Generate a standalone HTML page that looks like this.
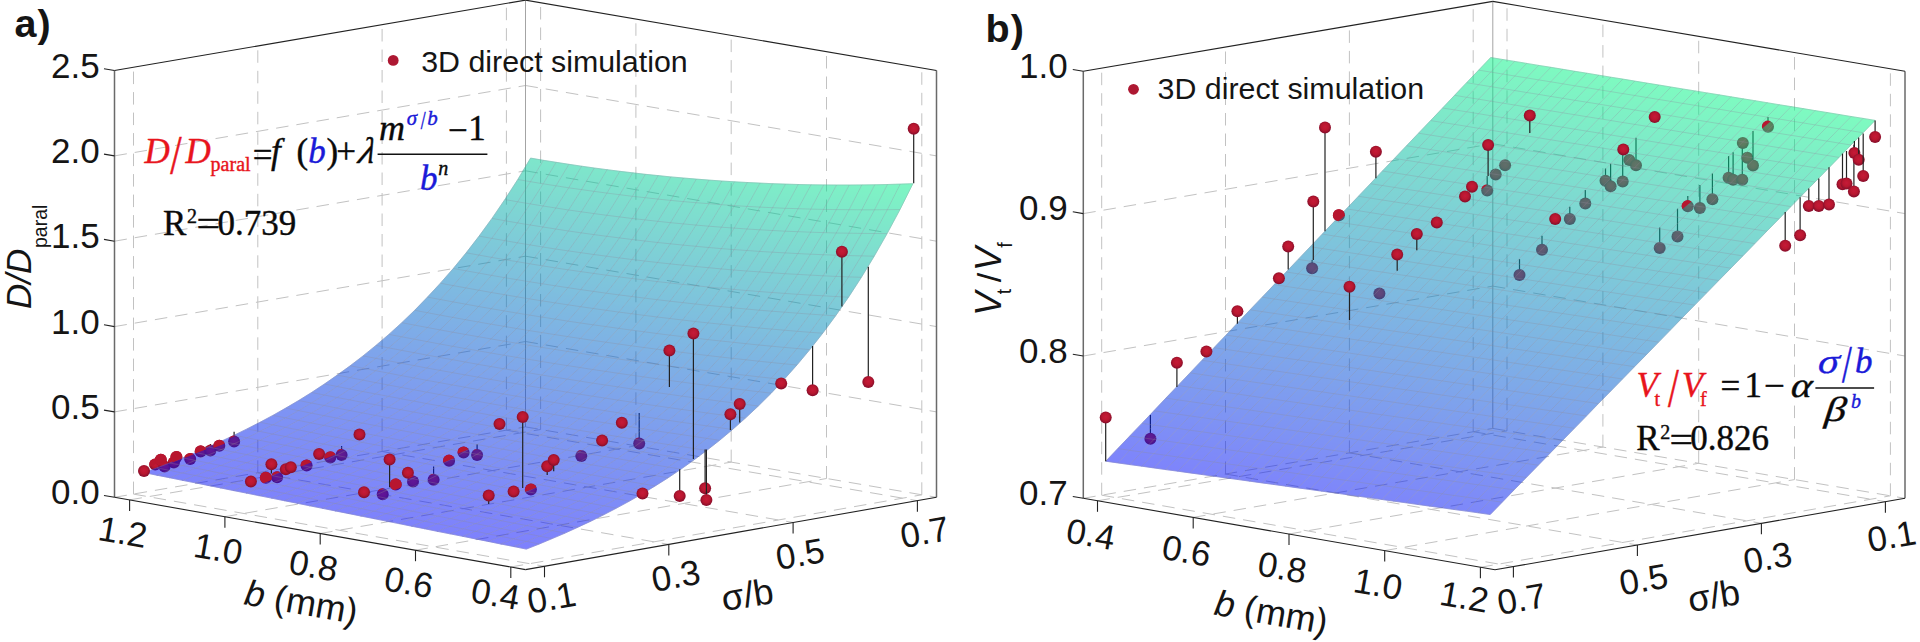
<!DOCTYPE html><html><head><meta charset="utf-8"><title>fig</title><style>
html,body{margin:0;padding:0;background:#fff}svg{display:block}
.g{stroke:#c2c2c2;stroke-width:1;stroke-dasharray:12.5 8;fill:none}
.bk{stroke:#9a9a9a;stroke-width:0.9}
.ax{stroke:#222;stroke-width:1.1}
.ax2{stroke:#6a6a6a;stroke-width:1.5}
.sf polygon{stroke-width:0.7}
.ms polyline{fill:none;stroke:#8c8c9c;stroke-opacity:0.3;stroke-width:1}
.p{fill:url(#pg)}.ph{fill:#b8162f}.pu{fill:#5a1a9a}.pg{fill:#5f6b66}
.st{stroke:#222;stroke-width:1.2}
text{font-family:"Liberation Sans",Arial,sans-serif;fill:#151515}
.tk{font-size:35px}.tkm{font-size:35px;text-anchor:middle}.tke{font-size:35px;text-anchor:end}
.lg{font-size:30.35px}.pl{font-size:39.5px;font-weight:bold;letter-spacing:1px}
.ti{font-size:36px}.i{font-style:italic}.k{fill:#0a0a0a;stroke:#0a0a0a}.lgd{fill:#ad1832}
.sub{font-size:19.5px}
.eq{font-family:"Liberation Serif","Times New Roman",serif}
.eq{stroke-width:0.4px}.r{fill:#e8141c;stroke:#e8141c}.b{fill:#1a1ad8;stroke:#1a1ad8}
</style></head><body>
<svg width="1920" height="642" viewBox="0 0 1920 642">
<defs><radialGradient id="pg" cx="0.5" cy="0.45" r="0.5"><stop offset="0" stop-color="#c61a38"/><stop offset="0.6" stop-color="#b8172f"/><stop offset="1" stop-color="#8c0f2c"/></radialGradient></defs>
<rect width="1920" height="642" fill="#fff"/>
<line class="g" x1="129.6" y1="499.9" x2="540.6" y2="429.5"/>
<line class="g" x1="540.6" y1="429.5" x2="540.6" y2="2.7"/>
<line class="g" x1="224.9" y1="516.7" x2="635.9" y2="445.8"/>
<line class="g" x1="635.9" y1="445.8" x2="635.9" y2="19"/>
<line class="g" x1="320.2" y1="533.5" x2="731.2" y2="462.1"/>
<line class="g" x1="731.2" y1="462.1" x2="731.2" y2="35.3"/>
<line class="g" x1="415.5" y1="550.2" x2="826.5" y2="478.5"/>
<line class="g" x1="826.5" y1="478.5" x2="826.5" y2="51.7"/>
<line class="g" x1="510.8" y1="567" x2="921.8" y2="494.8"/>
<line class="g" x1="921.8" y1="494.8" x2="921.8" y2="68"/>
<line class="g" x1="133.5" y1="494.1" x2="544.5" y2="566.3"/>
<line class="g" x1="133.5" y1="494.1" x2="133.5" y2="67.3"/>
<line class="g" x1="257.8" y1="472.8" x2="668.8" y2="544.4"/>
<line class="g" x1="257.8" y1="472.8" x2="257.8" y2="46"/>
<line class="g" x1="382.1" y1="451.5" x2="793.1" y2="522.5"/>
<line class="g" x1="382.1" y1="451.5" x2="382.1" y2="24.7"/>
<line class="g" x1="506.4" y1="430.2" x2="917.4" y2="500.7"/>
<line class="g" x1="506.4" y1="430.2" x2="506.4" y2="3.4"/>
<line class="g" x1="114.5" y1="411.9" x2="525.5" y2="341.5"/>
<line class="g" x1="525.5" y1="341.5" x2="936.5" y2="411.9"/>
<line class="g" x1="114.5" y1="326.6" x2="525.5" y2="256.2"/>
<line class="g" x1="525.5" y1="256.2" x2="936.5" y2="326.6"/>
<line class="g" x1="114.5" y1="241.2" x2="525.5" y2="170.8"/>
<line class="g" x1="525.5" y1="170.8" x2="936.5" y2="241.2"/>
<line class="g" x1="114.5" y1="155.9" x2="525.5" y2="85.5"/>
<line class="g" x1="525.5" y1="85.5" x2="936.5" y2="155.9"/>
<line class="g" x1="114.5" y1="497.3" x2="525.5" y2="426.9"/>
<line class="g" x1="525.5" y1="426.9" x2="936.5" y2="497.3"/>
<line class="bk" x1="525.5" y1="426.9" x2="525.5" y2="0.1"/>
<circle class="p" cx="155.2" cy="464.5" r="6.0"/>
<circle class="p" cx="160.8" cy="459.8" r="6.0"/>
<circle class="p" cx="164.6" cy="466.4" r="6.0"/>
<circle class="p" cx="173.9" cy="462.6" r="6.0"/>
<circle class="p" cx="176.4" cy="457" r="6.0"/>
<circle class="p" cx="190.2" cy="458.9" r="6.0"/>
<circle class="p" cx="200.7" cy="451.4" r="6.0"/>
<line class="st" x1="210.4" y1="444" x2="210.4" y2="450.5"/>
<circle class="p" cx="210.4" cy="450.5" r="6.0"/>
<circle class="p" cx="219.3" cy="445.8" r="6.0"/>
<line class="st" x1="234.1" y1="431.8" x2="234.1" y2="441.5"/>
<circle class="p" cx="234.1" cy="441.5" r="6.0"/>
<circle class="p" cx="265.9" cy="477.7" r="6.0"/>
<circle class="p" cx="277.1" cy="477.3" r="6.0"/>
<circle class="p" cx="306.6" cy="465.5" r="6.0"/>
<circle class="p" cx="330.3" cy="457.4" r="6.0"/>
<line class="st" x1="341.6" y1="446" x2="341.6" y2="454.9"/>
<circle class="p" cx="341.6" cy="454.9" r="6.0"/>
<circle class="p" cx="382.7" cy="494.3" r="6.0"/>
<circle class="p" cx="395.8" cy="484.4" r="6.0"/>
<circle class="p" cx="413" cy="481.6" r="6.0"/>
<line class="st" x1="433.6" y1="466.6" x2="433.6" y2="479.7"/>
<circle class="p" cx="433.6" cy="479.7" r="6.0"/>
<circle class="p" cx="449.1" cy="460.7" r="6.0"/>
<circle class="p" cx="463.6" cy="452.6" r="6.0"/>
<line class="st" x1="477.1" y1="444.2" x2="477.1" y2="454.9"/>
<circle class="p" cx="477.1" cy="454.9" r="6.0"/>
<circle class="p" cx="530.9" cy="489.6" r="6.0"/>
<circle class="p" cx="581.3" cy="456" r="6.0"/>
<line class="st" x1="639.2" y1="413.1" x2="639.2" y2="443.6"/>
<circle class="p" cx="639.2" cy="443.6" r="6.0"/>
<defs><linearGradient id="s1" gradientUnits="userSpaceOnUse" x1="150.4" y1="473.9" x2="222.2" y2="99"><stop offset="0.000" stop-color="#000cf9"/><stop offset="0.038" stop-color="#0010f7"/><stop offset="0.077" stop-color="#0015f4"/><stop offset="0.119" stop-color="#001af2"/><stop offset="0.163" stop-color="#0021ef"/><stop offset="0.211" stop-color="#0028eb"/><stop offset="0.262" stop-color="#0030e7"/><stop offset="0.317" stop-color="#0039e2"/><stop offset="0.377" stop-color="#0044dd"/><stop offset="0.442" stop-color="#0050d7"/><stop offset="0.513" stop-color="#005fd0"/><stop offset="0.591" stop-color="#006fc7"/><stop offset="0.678" stop-color="#0082be"/><stop offset="0.774" stop-color="#0098b3"/><stop offset="0.881" stop-color="#00b1a6"/><stop offset="1.000" stop-color="#00ce98"/></linearGradient><linearGradient id="s2" gradientUnits="userSpaceOnUse" x1="163.2" y1="476.4" x2="234.4" y2="101.4"><stop offset="0.000" stop-color="#000cf9"/><stop offset="0.037" stop-color="#0010f7"/><stop offset="0.077" stop-color="#0015f5"/><stop offset="0.119" stop-color="#001af2"/><stop offset="0.163" stop-color="#0020ef"/><stop offset="0.210" stop-color="#0027eb"/><stop offset="0.261" stop-color="#0030e7"/><stop offset="0.316" stop-color="#0039e3"/><stop offset="0.376" stop-color="#0044dd"/><stop offset="0.441" stop-color="#0050d7"/><stop offset="0.512" stop-color="#005fd0"/><stop offset="0.591" stop-color="#006fc7"/><stop offset="0.677" stop-color="#0082be"/><stop offset="0.774" stop-color="#0098b3"/><stop offset="0.880" stop-color="#00b1a6"/><stop offset="1.000" stop-color="#00cf98"/></linearGradient><linearGradient id="s3" gradientUnits="userSpaceOnUse" x1="175.9" y1="479" x2="246" y2="104.1"><stop offset="0.000" stop-color="#000cf9"/><stop offset="0.037" stop-color="#0010f7"/><stop offset="0.077" stop-color="#0015f5"/><stop offset="0.118" stop-color="#001af2"/><stop offset="0.162" stop-color="#0020ef"/><stop offset="0.210" stop-color="#0027eb"/><stop offset="0.261" stop-color="#002fe7"/><stop offset="0.316" stop-color="#0039e3"/><stop offset="0.375" stop-color="#0044dd"/><stop offset="0.440" stop-color="#0050d7"/><stop offset="0.512" stop-color="#005ed0"/><stop offset="0.590" stop-color="#006fc7"/><stop offset="0.677" stop-color="#0082be"/><stop offset="0.773" stop-color="#0098b3"/><stop offset="0.880" stop-color="#00b1a6"/><stop offset="1.000" stop-color="#00cf98"/></linearGradient><linearGradient id="s4" gradientUnits="userSpaceOnUse" x1="188.7" y1="481.6" x2="258.4" y2="106.4"><stop offset="0.000" stop-color="#000cf9"/><stop offset="0.037" stop-color="#0010f7"/><stop offset="0.076" stop-color="#0014f5"/><stop offset="0.118" stop-color="#001af2"/><stop offset="0.162" stop-color="#0020ef"/><stop offset="0.210" stop-color="#0027eb"/><stop offset="0.260" stop-color="#002fe7"/><stop offset="0.315" stop-color="#0039e3"/><stop offset="0.375" stop-color="#0043dd"/><stop offset="0.440" stop-color="#0050d7"/><stop offset="0.511" stop-color="#005ed0"/><stop offset="0.590" stop-color="#006fc7"/><stop offset="0.676" stop-color="#0082be"/><stop offset="0.773" stop-color="#0098b3"/><stop offset="0.880" stop-color="#00b2a6"/><stop offset="1.000" stop-color="#00cf98"/></linearGradient><linearGradient id="s5" gradientUnits="userSpaceOnUse" x1="201.4" y1="484.1" x2="269.6" y2="109.2"><stop offset="0.000" stop-color="#000bf9"/><stop offset="0.037" stop-color="#0010f7"/><stop offset="0.076" stop-color="#0014f5"/><stop offset="0.118" stop-color="#001af2"/><stop offset="0.162" stop-color="#0020ef"/><stop offset="0.209" stop-color="#0027ec"/><stop offset="0.260" stop-color="#002fe7"/><stop offset="0.315" stop-color="#0038e3"/><stop offset="0.374" stop-color="#0043dd"/><stop offset="0.439" stop-color="#0050d7"/><stop offset="0.510" stop-color="#005ed0"/><stop offset="0.589" stop-color="#006fc7"/><stop offset="0.676" stop-color="#0082be"/><stop offset="0.772" stop-color="#0098b3"/><stop offset="0.880" stop-color="#00b2a6"/><stop offset="1.000" stop-color="#00cf97"/></linearGradient><linearGradient id="s6" gradientUnits="userSpaceOnUse" x1="214.2" y1="486.6" x2="281.8" y2="111.4"><stop offset="0.000" stop-color="#000bf9"/><stop offset="0.037" stop-color="#000ff7"/><stop offset="0.076" stop-color="#0014f5"/><stop offset="0.117" stop-color="#0019f2"/><stop offset="0.161" stop-color="#0020ef"/><stop offset="0.208" stop-color="#0027ec"/><stop offset="0.259" stop-color="#002fe8"/><stop offset="0.314" stop-color="#0038e3"/><stop offset="0.373" stop-color="#0043dd"/><stop offset="0.439" stop-color="#0050d7"/><stop offset="0.510" stop-color="#005ed0"/><stop offset="0.588" stop-color="#006fc7"/><stop offset="0.675" stop-color="#0082be"/><stop offset="0.772" stop-color="#0099b3"/><stop offset="0.879" stop-color="#00b2a6"/><stop offset="1.000" stop-color="#00d097"/></linearGradient><linearGradient id="s7" gradientUnits="userSpaceOnUse" x1="226.8" y1="489.2" x2="293.6" y2="113.7"><stop offset="0.000" stop-color="#000bfa"/><stop offset="0.037" stop-color="#000ff7"/><stop offset="0.076" stop-color="#0014f5"/><stop offset="0.117" stop-color="#0019f2"/><stop offset="0.161" stop-color="#001fef"/><stop offset="0.208" stop-color="#0026ec"/><stop offset="0.258" stop-color="#002fe8"/><stop offset="0.313" stop-color="#0038e3"/><stop offset="0.373" stop-color="#0043dd"/><stop offset="0.438" stop-color="#0050d7"/><stop offset="0.509" stop-color="#005ed0"/><stop offset="0.588" stop-color="#006fc7"/><stop offset="0.675" stop-color="#0082be"/><stop offset="0.771" stop-color="#0099b3"/><stop offset="0.879" stop-color="#00b2a6"/><stop offset="1.000" stop-color="#00d097"/></linearGradient><linearGradient id="s8" gradientUnits="userSpaceOnUse" x1="239.6" y1="491.8" x2="305.6" y2="115.7"><stop offset="0.000" stop-color="#000bfa"/><stop offset="0.037" stop-color="#000ff8"/><stop offset="0.075" stop-color="#0014f5"/><stop offset="0.117" stop-color="#0019f3"/><stop offset="0.160" stop-color="#001fef"/><stop offset="0.207" stop-color="#0026ec"/><stop offset="0.258" stop-color="#002fe8"/><stop offset="0.313" stop-color="#0038e3"/><stop offset="0.372" stop-color="#0043dd"/><stop offset="0.437" stop-color="#0050d7"/><stop offset="0.508" stop-color="#005ed0"/><stop offset="0.587" stop-color="#006fc7"/><stop offset="0.674" stop-color="#0083be"/><stop offset="0.771" stop-color="#0099b2"/><stop offset="0.879" stop-color="#00b3a6"/><stop offset="1.000" stop-color="#00d197"/></linearGradient><linearGradient id="s9" gradientUnits="userSpaceOnUse" x1="252.3" y1="494.3" x2="317.3" y2="118"><stop offset="0.000" stop-color="#000bfa"/><stop offset="0.037" stop-color="#000ff8"/><stop offset="0.075" stop-color="#0013f5"/><stop offset="0.116" stop-color="#0019f3"/><stop offset="0.160" stop-color="#001ff0"/><stop offset="0.207" stop-color="#0026ec"/><stop offset="0.257" stop-color="#002ee8"/><stop offset="0.312" stop-color="#0038e3"/><stop offset="0.371" stop-color="#0043dd"/><stop offset="0.436" stop-color="#0050d7"/><stop offset="0.507" stop-color="#005ed0"/><stop offset="0.586" stop-color="#006fc7"/><stop offset="0.673" stop-color="#0083be"/><stop offset="0.770" stop-color="#0099b2"/><stop offset="0.879" stop-color="#00b3a5"/><stop offset="1.000" stop-color="#00d196"/></linearGradient><linearGradient id="s10" gradientUnits="userSpaceOnUse" x1="265.1" y1="496.9" x2="329.2" y2="120.1"><stop offset="0.000" stop-color="#000afa"/><stop offset="0.036" stop-color="#000ef8"/><stop offset="0.075" stop-color="#0013f5"/><stop offset="0.116" stop-color="#0019f3"/><stop offset="0.159" stop-color="#001ff0"/><stop offset="0.206" stop-color="#0026ec"/><stop offset="0.256" stop-color="#002ee8"/><stop offset="0.311" stop-color="#0038e3"/><stop offset="0.370" stop-color="#0043dd"/><stop offset="0.435" stop-color="#0050d7"/><stop offset="0.507" stop-color="#005fd0"/><stop offset="0.585" stop-color="#0070c7"/><stop offset="0.673" stop-color="#0083bd"/><stop offset="0.770" stop-color="#009ab2"/><stop offset="0.878" stop-color="#00b4a5"/><stop offset="1.000" stop-color="#00d296"/></linearGradient><linearGradient id="s11" gradientUnits="userSpaceOnUse" x1="277.9" y1="499.4" x2="341.6" y2="121.7"><stop offset="0.000" stop-color="#000afa"/><stop offset="0.036" stop-color="#000ef8"/><stop offset="0.075" stop-color="#0013f6"/><stop offset="0.115" stop-color="#0018f3"/><stop offset="0.159" stop-color="#001ff0"/><stop offset="0.206" stop-color="#0026ec"/><stop offset="0.256" stop-color="#002ee8"/><stop offset="0.310" stop-color="#0038e3"/><stop offset="0.370" stop-color="#0043dd"/><stop offset="0.435" stop-color="#0050d7"/><stop offset="0.506" stop-color="#005fd0"/><stop offset="0.585" stop-color="#0070c7"/><stop offset="0.672" stop-color="#0083bd"/><stop offset="0.770" stop-color="#009ab2"/><stop offset="0.878" stop-color="#00b4a5"/><stop offset="1.000" stop-color="#00d396"/></linearGradient><linearGradient id="s12" gradientUnits="userSpaceOnUse" x1="290.6" y1="501.9" x2="353.1" y2="123.9"><stop offset="0.000" stop-color="#000afa"/><stop offset="0.036" stop-color="#000ef8"/><stop offset="0.074" stop-color="#0013f6"/><stop offset="0.115" stop-color="#0018f3"/><stop offset="0.158" stop-color="#001ef0"/><stop offset="0.205" stop-color="#0026ec"/><stop offset="0.255" stop-color="#002ee8"/><stop offset="0.309" stop-color="#0038e3"/><stop offset="0.369" stop-color="#0043dd"/><stop offset="0.434" stop-color="#0050d7"/><stop offset="0.505" stop-color="#005fd0"/><stop offset="0.584" stop-color="#0070c7"/><stop offset="0.671" stop-color="#0084bd"/><stop offset="0.769" stop-color="#009bb2"/><stop offset="0.878" stop-color="#00b5a4"/><stop offset="1.000" stop-color="#00d395"/></linearGradient><linearGradient id="s13" gradientUnits="userSpaceOnUse" x1="303.4" y1="504.5" x2="366" y2="125.1"><stop offset="0.000" stop-color="#000afa"/><stop offset="0.036" stop-color="#000ef8"/><stop offset="0.074" stop-color="#0012f6"/><stop offset="0.115" stop-color="#0018f3"/><stop offset="0.158" stop-color="#001ef0"/><stop offset="0.204" stop-color="#0026ec"/><stop offset="0.255" stop-color="#002ee8"/><stop offset="0.309" stop-color="#0038e3"/><stop offset="0.368" stop-color="#0043dd"/><stop offset="0.433" stop-color="#0050d7"/><stop offset="0.505" stop-color="#005fcf"/><stop offset="0.583" stop-color="#0070c7"/><stop offset="0.671" stop-color="#0084bd"/><stop offset="0.769" stop-color="#009bb1"/><stop offset="0.878" stop-color="#00b6a4"/><stop offset="1.000" stop-color="#00d495"/></linearGradient><linearGradient id="s14" gradientUnits="userSpaceOnUse" x1="316" y1="507.1" x2="377" y2="127.3"><stop offset="0.000" stop-color="#0009fa"/><stop offset="0.036" stop-color="#000df8"/><stop offset="0.074" stop-color="#0012f6"/><stop offset="0.114" stop-color="#0018f3"/><stop offset="0.157" stop-color="#001ef0"/><stop offset="0.204" stop-color="#0026ec"/><stop offset="0.253" stop-color="#002ee8"/><stop offset="0.308" stop-color="#0038e3"/><stop offset="0.367" stop-color="#0043dd"/><stop offset="0.432" stop-color="#0050d7"/><stop offset="0.503" stop-color="#005fcf"/><stop offset="0.582" stop-color="#0071c7"/><stop offset="0.670" stop-color="#0085bd"/><stop offset="0.768" stop-color="#009cb1"/><stop offset="0.877" stop-color="#00b6a4"/><stop offset="1.000" stop-color="#00d594"/></linearGradient><linearGradient id="s15" gradientUnits="userSpaceOnUse" x1="328.8" y1="509.6" x2="389.2" y2="128.8"><stop offset="0.000" stop-color="#0009fa"/><stop offset="0.036" stop-color="#000df8"/><stop offset="0.074" stop-color="#0012f6"/><stop offset="0.114" stop-color="#0018f3"/><stop offset="0.157" stop-color="#001ef0"/><stop offset="0.203" stop-color="#0025ec"/><stop offset="0.253" stop-color="#002ee8"/><stop offset="0.307" stop-color="#0038e3"/><stop offset="0.366" stop-color="#0043dd"/><stop offset="0.431" stop-color="#0050d7"/><stop offset="0.503" stop-color="#005fcf"/><stop offset="0.582" stop-color="#0071c7"/><stop offset="0.670" stop-color="#0085bc"/><stop offset="0.767" stop-color="#009cb1"/><stop offset="0.877" stop-color="#00b7a3"/><stop offset="1.000" stop-color="#00d694"/></linearGradient><linearGradient id="s16" gradientUnits="userSpaceOnUse" x1="341.5" y1="512.1" x2="401" y2="130.5"><stop offset="0.000" stop-color="#0009fb"/><stop offset="0.036" stop-color="#000df8"/><stop offset="0.073" stop-color="#0012f6"/><stop offset="0.113" stop-color="#0017f3"/><stop offset="0.156" stop-color="#001ef0"/><stop offset="0.202" stop-color="#0025ec"/><stop offset="0.252" stop-color="#002ee8"/><stop offset="0.306" stop-color="#0038e3"/><stop offset="0.365" stop-color="#0043dd"/><stop offset="0.430" stop-color="#0051d7"/><stop offset="0.502" stop-color="#0060cf"/><stop offset="0.581" stop-color="#0071c6"/><stop offset="0.669" stop-color="#0086bc"/><stop offset="0.767" stop-color="#009db0"/><stop offset="0.877" stop-color="#00b8a3"/><stop offset="1.000" stop-color="#00d793"/></linearGradient><linearGradient id="s17" gradientUnits="userSpaceOnUse" x1="354.3" y1="514.7" x2="413.9" y2="131.3"><stop offset="0.000" stop-color="#0009fb"/><stop offset="0.036" stop-color="#000df9"/><stop offset="0.073" stop-color="#0012f6"/><stop offset="0.113" stop-color="#0017f3"/><stop offset="0.156" stop-color="#001ef0"/><stop offset="0.202" stop-color="#0025ec"/><stop offset="0.252" stop-color="#002ee8"/><stop offset="0.306" stop-color="#0038e3"/><stop offset="0.365" stop-color="#0043dd"/><stop offset="0.430" stop-color="#0051d7"/><stop offset="0.501" stop-color="#0060cf"/><stop offset="0.580" stop-color="#0072c6"/><stop offset="0.668" stop-color="#0086bc"/><stop offset="0.766" stop-color="#009eb0"/><stop offset="0.876" stop-color="#00b9a2"/><stop offset="1.000" stop-color="#00d993"/></linearGradient><linearGradient id="s18" gradientUnits="userSpaceOnUse" x1="367" y1="517.2" x2="425.2" y2="133.1"><stop offset="0.000" stop-color="#0008fb"/><stop offset="0.035" stop-color="#000df9"/><stop offset="0.073" stop-color="#0011f6"/><stop offset="0.112" stop-color="#0017f3"/><stop offset="0.155" stop-color="#001ef0"/><stop offset="0.201" stop-color="#0025ec"/><stop offset="0.250" stop-color="#002ee8"/><stop offset="0.305" stop-color="#0038e3"/><stop offset="0.363" stop-color="#0044dd"/><stop offset="0.428" stop-color="#0051d7"/><stop offset="0.500" stop-color="#0060cf"/><stop offset="0.579" stop-color="#0072c6"/><stop offset="0.667" stop-color="#0087bc"/><stop offset="0.766" stop-color="#009fb0"/><stop offset="0.876" stop-color="#00baa2"/><stop offset="1.000" stop-color="#00da92"/></linearGradient><linearGradient id="s19" gradientUnits="userSpaceOnUse" x1="379.8" y1="519.8" x2="437.3" y2="134.3"><stop offset="0.000" stop-color="#0008fb"/><stop offset="0.035" stop-color="#000cf9"/><stop offset="0.072" stop-color="#0011f6"/><stop offset="0.112" stop-color="#0017f4"/><stop offset="0.154" stop-color="#001ef0"/><stop offset="0.200" stop-color="#0025ec"/><stop offset="0.250" stop-color="#002ee8"/><stop offset="0.304" stop-color="#0038e3"/><stop offset="0.363" stop-color="#0044dd"/><stop offset="0.427" stop-color="#0051d6"/><stop offset="0.499" stop-color="#0061cf"/><stop offset="0.578" stop-color="#0073c6"/><stop offset="0.666" stop-color="#0087bb"/><stop offset="0.765" stop-color="#009faf"/><stop offset="0.876" stop-color="#00bba1"/><stop offset="1.000" stop-color="#00db91"/></linearGradient><linearGradient id="s20" gradientUnits="userSpaceOnUse" x1="392.5" y1="522.4" x2="449.7" y2="135.3"><stop offset="0.000" stop-color="#0008fb"/><stop offset="0.035" stop-color="#000cf9"/><stop offset="0.072" stop-color="#0011f6"/><stop offset="0.112" stop-color="#0017f4"/><stop offset="0.154" stop-color="#001df0"/><stop offset="0.200" stop-color="#0025ec"/><stop offset="0.249" stop-color="#002ee8"/><stop offset="0.303" stop-color="#0038e3"/><stop offset="0.362" stop-color="#0044dd"/><stop offset="0.427" stop-color="#0051d6"/><stop offset="0.498" stop-color="#0061ce"/><stop offset="0.577" stop-color="#0073c5"/><stop offset="0.666" stop-color="#0088bb"/><stop offset="0.764" stop-color="#00a0af"/><stop offset="0.875" stop-color="#00bca1"/><stop offset="1.000" stop-color="#00dc91"/></linearGradient><linearGradient id="s21" gradientUnits="userSpaceOnUse" x1="405.2" y1="524.9" x2="461.6" y2="136.4"><stop offset="0.000" stop-color="#0008fb"/><stop offset="0.035" stop-color="#000cf9"/><stop offset="0.072" stop-color="#0011f7"/><stop offset="0.111" stop-color="#0017f4"/><stop offset="0.153" stop-color="#001df0"/><stop offset="0.199" stop-color="#0025ec"/><stop offset="0.248" stop-color="#002ee8"/><stop offset="0.302" stop-color="#0038e3"/><stop offset="0.361" stop-color="#0044dd"/><stop offset="0.426" stop-color="#0052d6"/><stop offset="0.497" stop-color="#0062ce"/><stop offset="0.576" stop-color="#0074c5"/><stop offset="0.665" stop-color="#0089bb"/><stop offset="0.764" stop-color="#00a1ae"/><stop offset="0.875" stop-color="#00bda0"/><stop offset="1.000" stop-color="#00de90"/></linearGradient><linearGradient id="s22" gradientUnits="userSpaceOnUse" x1="418" y1="527.5" x2="473.7" y2="137.4"><stop offset="0.000" stop-color="#0007fb"/><stop offset="0.035" stop-color="#000cf9"/><stop offset="0.071" stop-color="#0011f7"/><stop offset="0.111" stop-color="#0017f4"/><stop offset="0.153" stop-color="#001df0"/><stop offset="0.198" stop-color="#0025ec"/><stop offset="0.247" stop-color="#002ee8"/><stop offset="0.301" stop-color="#0038e3"/><stop offset="0.360" stop-color="#0044dd"/><stop offset="0.425" stop-color="#0052d6"/><stop offset="0.496" stop-color="#0062ce"/><stop offset="0.576" stop-color="#0074c5"/><stop offset="0.664" stop-color="#008aba"/><stop offset="0.763" stop-color="#00a2ae"/><stop offset="0.875" stop-color="#00bfa0"/><stop offset="1.000" stop-color="#00df8f"/></linearGradient><linearGradient id="s23" gradientUnits="userSpaceOnUse" x1="430.8" y1="530" x2="485" y2="138.7"><stop offset="0.000" stop-color="#0007fb"/><stop offset="0.034" stop-color="#000cf9"/><stop offset="0.071" stop-color="#0011f7"/><stop offset="0.110" stop-color="#0016f4"/><stop offset="0.152" stop-color="#001df0"/><stop offset="0.197" stop-color="#0025ec"/><stop offset="0.246" stop-color="#002ee8"/><stop offset="0.300" stop-color="#0038e3"/><stop offset="0.358" stop-color="#0045dd"/><stop offset="0.423" stop-color="#0052d6"/><stop offset="0.495" stop-color="#0062ce"/><stop offset="0.574" stop-color="#0075c4"/><stop offset="0.663" stop-color="#008bba"/><stop offset="0.763" stop-color="#00a3ad"/><stop offset="0.874" stop-color="#00c09f"/><stop offset="1.000" stop-color="#00e18f"/></linearGradient><linearGradient id="s24" gradientUnits="userSpaceOnUse" x1="443.5" y1="532.5" x2="498" y2="139"><stop offset="0.000" stop-color="#0007fc"/><stop offset="0.034" stop-color="#000bf9"/><stop offset="0.071" stop-color="#0010f7"/><stop offset="0.110" stop-color="#0016f4"/><stop offset="0.151" stop-color="#001df0"/><stop offset="0.197" stop-color="#0025ec"/><stop offset="0.246" stop-color="#002ee8"/><stop offset="0.299" stop-color="#0039e3"/><stop offset="0.358" stop-color="#0045dd"/><stop offset="0.422" stop-color="#0053d6"/><stop offset="0.494" stop-color="#0063cd"/><stop offset="0.574" stop-color="#0076c4"/><stop offset="0.663" stop-color="#008bb9"/><stop offset="0.762" stop-color="#00a4ad"/><stop offset="0.874" stop-color="#00c19e"/><stop offset="1.000" stop-color="#00e38e"/></linearGradient><linearGradient id="s25" gradientUnits="userSpaceOnUse" x1="456.2" y1="535" x2="509.6" y2="140"><stop offset="0.000" stop-color="#0007fc"/><stop offset="0.034" stop-color="#000bf9"/><stop offset="0.070" stop-color="#0010f7"/><stop offset="0.109" stop-color="#0016f4"/><stop offset="0.150" stop-color="#001df0"/><stop offset="0.196" stop-color="#0025ec"/><stop offset="0.244" stop-color="#002ee8"/><stop offset="0.298" stop-color="#0039e3"/><stop offset="0.357" stop-color="#0045dc"/><stop offset="0.421" stop-color="#0053d5"/><stop offset="0.493" stop-color="#0064cd"/><stop offset="0.573" stop-color="#0076c4"/><stop offset="0.662" stop-color="#008cb9"/><stop offset="0.761" stop-color="#00a6ac"/><stop offset="0.873" stop-color="#00c39e"/><stop offset="1.000" stop-color="#00e48d"/></linearGradient><linearGradient id="s26" gradientUnits="userSpaceOnUse" x1="469" y1="537.6" x2="522.1" y2="140.4"><stop offset="0.000" stop-color="#0006fc"/><stop offset="0.034" stop-color="#000bfa"/><stop offset="0.070" stop-color="#0010f7"/><stop offset="0.108" stop-color="#0016f4"/><stop offset="0.150" stop-color="#001df0"/><stop offset="0.195" stop-color="#0025ec"/><stop offset="0.244" stop-color="#002ee8"/><stop offset="0.297" stop-color="#0039e3"/><stop offset="0.356" stop-color="#0045dc"/><stop offset="0.420" stop-color="#0054d5"/><stop offset="0.492" stop-color="#0064cd"/><stop offset="0.572" stop-color="#0077c3"/><stop offset="0.661" stop-color="#008db8"/><stop offset="0.761" stop-color="#00a7ac"/><stop offset="0.873" stop-color="#00c49d"/><stop offset="1.000" stop-color="#00e68c"/></linearGradient><linearGradient id="s27" gradientUnits="userSpaceOnUse" x1="481.8" y1="540.1" x2="533.9" y2="141.2"><stop offset="0.000" stop-color="#0006fc"/><stop offset="0.034" stop-color="#000bfa"/><stop offset="0.069" stop-color="#0010f7"/><stop offset="0.108" stop-color="#0016f4"/><stop offset="0.149" stop-color="#001df1"/><stop offset="0.194" stop-color="#0025ec"/><stop offset="0.243" stop-color="#002ee8"/><stop offset="0.296" stop-color="#0039e2"/><stop offset="0.355" stop-color="#0046dc"/><stop offset="0.419" stop-color="#0054d5"/><stop offset="0.491" stop-color="#0065cd"/><stop offset="0.571" stop-color="#0078c3"/><stop offset="0.660" stop-color="#008eb8"/><stop offset="0.760" stop-color="#00a8ab"/><stop offset="0.873" stop-color="#00c69c"/><stop offset="1.000" stop-color="#00e88b"/></linearGradient><linearGradient id="s28" gradientUnits="userSpaceOnUse" x1="494.5" y1="542.7" x2="545.9" y2="141.6"><stop offset="0.000" stop-color="#0006fc"/><stop offset="0.034" stop-color="#000afa"/><stop offset="0.069" stop-color="#0010f7"/><stop offset="0.107" stop-color="#0016f4"/><stop offset="0.149" stop-color="#001df1"/><stop offset="0.193" stop-color="#0025ec"/><stop offset="0.242" stop-color="#002ee8"/><stop offset="0.295" stop-color="#0039e2"/><stop offset="0.354" stop-color="#0046dc"/><stop offset="0.418" stop-color="#0054d5"/><stop offset="0.490" stop-color="#0065cc"/><stop offset="0.570" stop-color="#0079c3"/><stop offset="0.659" stop-color="#008fb7"/><stop offset="0.759" stop-color="#00a9aa"/><stop offset="0.873" stop-color="#00c79b"/><stop offset="1.000" stop-color="#00ea8a"/></linearGradient><linearGradient id="s29" gradientUnits="userSpaceOnUse" x1="507.2" y1="545.2" x2="558.1" y2="141.9"><stop offset="0.000" stop-color="#0006fc"/><stop offset="0.033" stop-color="#000afa"/><stop offset="0.069" stop-color="#0010f7"/><stop offset="0.107" stop-color="#0016f4"/><stop offset="0.148" stop-color="#001df1"/><stop offset="0.192" stop-color="#0025ec"/><stop offset="0.241" stop-color="#002fe8"/><stop offset="0.294" stop-color="#003ae2"/><stop offset="0.353" stop-color="#0046dc"/><stop offset="0.417" stop-color="#0055d5"/><stop offset="0.489" stop-color="#0066cc"/><stop offset="0.569" stop-color="#007ac2"/><stop offset="0.658" stop-color="#0090b7"/><stop offset="0.759" stop-color="#00abaa"/><stop offset="0.872" stop-color="#00c99b"/><stop offset="1.000" stop-color="#00ec89"/></linearGradient><linearGradient id="s30" gradientUnits="userSpaceOnUse" x1="520" y1="547.8" x2="570.5" y2="142"><stop offset="0.000" stop-color="#0005fc"/><stop offset="0.033" stop-color="#000afa"/><stop offset="0.068" stop-color="#000ff7"/><stop offset="0.106" stop-color="#0016f4"/><stop offset="0.147" stop-color="#001df1"/><stop offset="0.192" stop-color="#0025ec"/><stop offset="0.240" stop-color="#002fe8"/><stop offset="0.293" stop-color="#003ae2"/><stop offset="0.352" stop-color="#0047dc"/><stop offset="0.416" stop-color="#0055d4"/><stop offset="0.488" stop-color="#0067cc"/><stop offset="0.568" stop-color="#007ac2"/><stop offset="0.657" stop-color="#0091b6"/><stop offset="0.758" stop-color="#00aca9"/><stop offset="0.872" stop-color="#00cb9a"/><stop offset="1.000" stop-color="#00ee88"/></linearGradient></defs>
<g class="sf" opacity="0.5">
<polygon points="144.1,472.6 156.9,467.9 169.8,463 182.7,457.9 195.6,452.6 208.5,447 221.4,441.2 234.3,435.2 247.1,428.9 260,422.3 272.9,415.4 285.8,408.1 298.7,400.5 311.6,392.5 324.5,384 337.3,375.1 350.2,365.8 363.1,355.9 376,345.4 388.9,334.4 401.8,322.7 414.7,310.3 427.5,297.1 440.4,283.2 453.3,268.5 466.2,252.8 479.1,236.1 492,218.4 504.9,199.5 517.8,179.5 530.6,158.1 543.4,160.3 530.5,181.7 517.6,201.8 504.7,220.7 491.8,238.4 478.9,255.1 466.1,270.8 453.2,285.6 440.3,299.5 427.4,312.7 414.5,325.1 401.6,336.8 388.7,347.9 375.9,358.3 363,368.2 350.1,377.6 337.2,386.5 324.3,395 311.4,403 298.5,410.6 285.7,417.9 272.8,424.8 259.9,431.4 247,437.8 234.1,443.8 221.2,449.6 208.3,455.1 195.5,460.4 182.6,465.5 169.7,470.4 156.8,475.2" fill="url(#s1)" stroke="url(#s1)"/>
<polygon points="156.8,475.2 169.7,470.4 182.6,465.5 195.5,460.4 208.3,455.1 221.2,449.6 234.1,443.8 247,437.8 259.9,431.4 272.8,424.8 285.7,417.9 298.5,410.6 311.4,403 324.3,395 337.2,386.5 350.1,377.6 363,368.2 375.9,358.3 388.7,347.9 401.6,336.8 414.5,325.1 427.4,312.7 440.3,299.5 453.2,285.6 466.1,270.8 478.9,255.1 491.8,238.4 504.7,220.7 517.6,201.8 530.5,181.7 543.4,160.3 556.1,162.3 543.2,183.8 530.3,203.9 517.5,222.9 504.6,240.6 491.7,257.4 478.8,273.1 465.9,287.9 453,301.9 440.1,315.1 427.3,327.5 414.4,339.2 401.5,350.3 388.6,360.8 375.7,370.7 362.8,380.1 349.9,389 337.1,397.5 324.2,405.5 311.3,413.1 298.4,420.4 285.5,427.4 272.6,434 259.7,440.3 246.9,446.3 234,452.1 221.1,457.6 208.2,463 195.3,468.1 182.4,473 169.5,477.7" fill="url(#s2)" stroke="url(#s2)"/>
<polygon points="169.5,477.7 182.4,473 195.3,468.1 208.2,463 221.1,457.6 234,452.1 246.9,446.3 259.7,440.3 272.6,434 285.5,427.4 298.4,420.4 311.3,413.1 324.2,405.5 337.1,397.5 349.9,389 362.8,380.1 375.7,370.7 388.6,360.8 401.5,350.3 414.4,339.2 427.3,327.5 440.1,315.1 453,301.9 465.9,287.9 478.8,273.1 491.7,257.4 504.6,240.6 517.5,222.9 530.3,203.9 543.2,183.8 556.1,162.3 568.9,164.3 556,185.8 543.1,206 530.2,225 517.3,242.8 504.4,259.6 491.5,275.4 478.7,290.2 465.8,304.2 452.9,317.4 440,329.9 427.1,341.6 414.2,352.7 401.3,363.2 388.5,373.1 375.6,382.6 362.7,391.5 349.8,399.9 336.9,408 324,415.6 311.1,422.9 298.3,429.9 285.4,436.5 272.5,442.8 259.6,448.8 246.7,454.6 233.8,460.2 220.9,465.5 208.1,470.6 195.2,475.5 182.3,480.3" fill="url(#s3)" stroke="url(#s3)"/>
<polygon points="182.3,480.3 195.2,475.5 208.1,470.6 220.9,465.5 233.8,460.2 246.7,454.6 259.6,448.8 272.5,442.8 285.4,436.5 298.3,429.9 311.1,422.9 324,415.6 336.9,408 349.8,399.9 362.7,391.5 375.6,382.6 388.5,373.1 401.3,363.2 414.2,352.7 427.1,341.6 440,329.9 452.9,317.4 465.8,304.2 478.7,290.2 491.5,275.4 504.4,259.6 517.3,242.8 530.2,225 543.1,206 556,185.8 568.9,164.3 581.6,166.2 568.7,187.8 555.8,208 542.9,227 530.1,244.9 517.2,261.7 504.3,277.6 491.4,292.5 478.5,306.5 465.6,319.7 452.7,332.2 439.9,344 427,355.1 414.1,365.6 401.2,375.6 388.3,385 375.4,393.9 362.5,402.4 349.7,410.5 336.8,418.1 323.9,425.4 311,432.4 298.1,439 285.2,445.3 272.3,451.4 259.5,457.2 246.6,462.7 233.7,468 220.8,473.2 207.9,478.1 195,482.8" fill="url(#s4)" stroke="url(#s4)"/>
<polygon points="195,482.8 207.9,478.1 220.8,473.2 233.7,468 246.6,462.7 259.5,457.2 272.3,451.4 285.2,445.3 298.1,439 311,432.4 323.9,425.4 336.8,418.1 349.7,410.5 362.5,402.4 375.4,393.9 388.3,385 401.2,375.6 414.1,365.6 427,355.1 439.9,344 452.7,332.2 465.6,319.7 478.5,306.5 491.4,292.5 504.3,277.6 517.2,261.7 530.1,244.9 542.9,227 555.8,208 568.7,187.8 581.6,166.2 594.3,168 581.5,189.6 568.6,210 555.7,229 542.8,247 529.9,263.8 517,279.7 504.1,294.6 491.3,308.7 478.4,322 465.5,334.5 452.6,346.3 439.7,357.4 426.8,368 413.9,377.9 401.1,387.4 388.2,396.3 375.3,404.8 362.4,412.9 349.5,420.6 336.6,427.9 323.7,434.9 310.9,441.5 298,447.8 285.1,453.9 272.2,459.7 259.3,465.2 246.4,470.6 233.5,475.7 220.6,480.6 207.8,485.4" fill="url(#s5)" stroke="url(#s5)"/>
<polygon points="207.8,485.4 220.6,480.6 233.5,475.7 246.4,470.6 259.3,465.2 272.2,459.7 285.1,453.9 298,447.8 310.9,441.5 323.7,434.9 336.6,427.9 349.5,420.6 362.4,412.9 375.3,404.8 388.2,396.3 401.1,387.4 413.9,377.9 426.8,368 439.7,357.4 452.6,346.3 465.5,334.5 478.4,322 491.3,308.7 504.1,294.6 517,279.7 529.9,263.8 542.8,247 555.7,229 568.6,210 581.5,189.6 594.3,168 607.1,169.7 594.2,191.4 581.3,211.8 568.4,231 555.5,249 542.7,265.9 529.8,281.8 516.9,296.8 504,310.9 491.1,324.2 478.2,336.7 465.3,348.5 452.5,359.7 439.6,370.3 426.7,380.3 413.8,389.8 400.9,398.7 388,407.3 375.1,415.3 362.3,423 349.4,430.4 336.5,437.3 323.6,444 310.7,450.3 297.8,456.4 284.9,462.2 272,467.8 259.2,473.1 246.3,478.2 233.4,483.2 220.5,487.9" fill="url(#s6)" stroke="url(#s6)"/>
<polygon points="220.5,487.9 233.4,483.2 246.3,478.2 259.2,473.1 272,467.8 284.9,462.2 297.8,456.4 310.7,450.3 323.6,444 336.5,437.3 349.4,430.4 362.3,423 375.1,415.3 388,407.3 400.9,398.7 413.8,389.8 426.7,380.3 439.6,370.3 452.5,359.7 465.3,348.5 478.2,336.7 491.1,324.2 504,310.9 516.9,296.8 529.8,281.8 542.7,265.9 555.5,249 568.4,231 581.3,211.8 594.2,191.4 607.1,169.7 619.8,171.3 606.9,193.1 594.1,213.6 581.2,232.8 568.3,250.9 555.4,267.9 542.5,283.8 529.6,298.9 516.7,313 503.9,326.3 491,338.9 478.1,350.8 465.2,362 452.3,372.6 439.4,382.6 426.5,392.1 413.7,401.1 400.8,409.7 387.9,417.8 375,425.5 362.1,432.8 349.2,439.8 336.3,446.5 323.5,452.8 310.6,458.9 297.7,464.7 284.8,470.3 271.9,475.6 259,480.8 246.1,485.7 233.2,490.5" fill="url(#s7)" stroke="url(#s7)"/>
<polygon points="233.2,490.5 246.1,485.7 259,480.8 271.9,475.6 284.8,470.3 297.7,464.7 310.6,458.9 323.5,452.8 336.3,446.5 349.2,439.8 362.1,432.8 375,425.5 387.9,417.8 400.8,409.7 413.7,401.1 426.5,392.1 439.4,382.6 452.3,372.6 465.2,362 478.1,350.8 491,338.9 503.9,326.3 516.7,313 529.6,298.9 542.5,283.8 555.4,267.9 568.3,250.9 581.2,232.8 594.1,213.6 606.9,193.1 619.8,171.3 632.6,172.8 619.7,194.7 606.8,215.3 593.9,234.6 581,252.7 568.1,269.8 555.3,285.8 542.4,300.9 529.5,315.1 516.6,328.5 503.7,341.1 490.8,353 477.9,364.3 465.1,374.9 452.2,384.9 439.3,394.5 426.4,403.5 413.5,412 400.6,420.2 387.7,427.9 374.9,435.3 362,442.3 349.1,448.9 336.2,455.3 323.3,461.4 310.4,467.2 297.5,472.8 284.6,478.2 271.8,483.3 258.9,488.3 246,493" fill="url(#s8)" stroke="url(#s8)"/>
<polygon points="246,493 258.9,488.3 271.8,483.3 284.6,478.2 297.5,472.8 310.4,467.2 323.3,461.4 336.2,455.3 349.1,448.9 362,442.3 374.9,435.3 387.7,427.9 400.6,420.2 413.5,412 426.4,403.5 439.3,394.5 452.2,384.9 465.1,374.9 477.9,364.3 490.8,353 503.7,341.1 516.6,328.5 529.5,315.1 542.4,300.9 555.3,285.8 568.1,269.8 581,252.7 593.9,234.6 606.8,215.3 619.7,194.7 632.6,172.8 645.3,174.3 632.4,196.3 619.5,216.9 606.7,236.3 593.8,254.5 580.9,271.6 568,287.7 555.1,302.9 542.2,317.1 529.3,330.6 516.5,343.2 503.6,355.2 490.7,366.5 477.8,377.1 464.9,387.2 452,396.8 439.1,405.8 426.3,414.4 413.4,422.6 400.5,430.3 387.6,437.7 374.7,444.7 361.8,451.4 348.9,457.8 336,463.9 323.2,469.7 310.3,475.3 297.4,480.7 284.5,485.8 271.6,490.8 258.7,495.6" fill="url(#s9)" stroke="url(#s9)"/>
<polygon points="258.7,495.6 271.6,490.8 284.5,485.8 297.4,480.7 310.3,475.3 323.2,469.7 336,463.9 348.9,457.8 361.8,451.4 374.7,444.7 387.6,437.7 400.5,430.3 413.4,422.6 426.3,414.4 439.1,405.8 452,396.8 464.9,387.2 477.8,377.1 490.7,366.5 503.6,355.2 516.5,343.2 529.3,330.6 542.2,317.1 555.1,302.9 568,287.7 580.9,271.6 593.8,254.5 606.7,236.3 619.5,216.9 632.4,196.3 645.3,174.3 658.1,175.6 645.2,197.7 632.3,218.5 619.4,237.9 606.5,256.2 593.6,273.4 580.7,289.6 567.9,304.8 555,319.1 542.1,332.6 529.2,345.3 516.3,357.3 503.4,368.7 490.5,379.4 477.7,389.5 464.8,399.1 451.9,408.2 439,416.8 426.1,424.9 413.2,432.7 400.3,440.1 387.5,447.1 374.6,453.8 361.7,460.2 348.8,466.4 335.9,472.2 323,477.8 310.1,483.2 297.2,488.4 284.4,493.3 271.5,498.1" fill="url(#s10)" stroke="url(#s10)"/>
<polygon points="271.5,498.1 284.4,493.3 297.2,488.4 310.1,483.2 323,477.8 335.9,472.2 348.8,466.4 361.7,460.2 374.6,453.8 387.5,447.1 400.3,440.1 413.2,432.7 426.1,424.9 439,416.8 451.9,408.2 464.8,399.1 477.7,389.5 490.5,379.4 503.4,368.7 516.3,357.3 529.2,345.3 542.1,332.6 555,319.1 567.9,304.8 580.7,289.6 593.6,273.4 606.5,256.2 619.4,237.9 632.3,218.5 645.2,197.7 658.1,175.6 670.8,176.9 657.9,199.1 645,219.9 632.1,239.5 619.3,257.9 606.4,275.2 593.5,291.4 580.6,306.7 567.7,321.1 554.8,334.6 541.9,347.4 529.1,359.4 516.2,370.8 503.3,381.6 490.4,391.7 477.5,401.3 464.6,410.5 451.7,419.1 438.9,427.3 426,435.1 413.1,442.5 400.2,449.6 387.3,456.3 374.4,462.7 361.5,468.8 348.6,474.7 335.8,480.3 322.9,485.7 310,490.9 297.1,495.9 284.2,500.7" fill="url(#s11)" stroke="url(#s11)"/>
<polygon points="284.2,500.7 297.1,495.9 310,490.9 322.9,485.7 335.8,480.3 348.6,474.7 361.5,468.8 374.4,462.7 387.3,456.3 400.2,449.6 413.1,442.5 426,435.1 438.9,427.3 451.7,419.1 464.6,410.5 477.5,401.3 490.4,391.7 503.3,381.6 516.2,370.8 529.1,359.4 541.9,347.4 554.8,334.6 567.7,321.1 580.6,306.7 593.5,291.4 606.4,275.2 619.3,257.9 632.1,239.5 645,219.9 657.9,199.1 670.8,176.9 683.5,178 670.7,200.4 657.8,221.3 644.9,241 632,259.5 619.1,276.9 606.2,293.2 593.3,308.5 580.5,323 567.6,336.6 554.7,349.4 541.8,361.5 528.9,372.9 516,383.7 503.1,393.9 490.3,403.6 477.4,412.7 464.5,421.4 451.6,429.6 438.7,437.5 425.8,444.9 412.9,452 400,458.7 387.2,465.2 374.3,471.3 361.4,477.2 348.5,482.8 335.6,488.2 322.7,493.4 309.8,498.4 297,503.2" fill="url(#s12)" stroke="url(#s12)"/>
<polygon points="297,503.2 309.8,498.4 322.7,493.4 335.6,488.2 348.5,482.8 361.4,477.2 374.3,471.3 387.2,465.2 400,458.7 412.9,452 425.8,444.9 438.7,437.5 451.6,429.6 464.5,421.4 477.4,412.7 490.3,403.6 503.1,393.9 516,383.7 528.9,372.9 541.8,361.5 554.7,349.4 567.6,336.6 580.5,323 593.3,308.5 606.2,293.2 619.1,276.9 632,259.5 644.9,241 657.8,221.3 670.7,200.4 683.5,178 696.3,179.1 683.4,201.6 670.5,222.7 657.6,242.5 644.7,261 631.9,278.5 619,294.9 606.1,310.3 593.2,324.8 580.3,338.5 567.4,351.4 554.5,363.6 541.7,375 528.8,385.9 515.9,396.1 503,405.8 490.1,415 477.2,423.7 464.3,432 451.5,439.8 438.6,447.3 425.7,454.4 412.8,461.2 399.9,467.6 387,473.8 374.1,479.7 361.2,485.3 348.4,490.8 335.5,496 322.6,501 309.7,505.8" fill="url(#s13)" stroke="url(#s13)"/>
<polygon points="309.7,505.8 322.6,501 335.5,496 348.4,490.8 361.2,485.3 374.1,479.7 387,473.8 399.9,467.6 412.8,461.2 425.7,454.4 438.6,447.3 451.5,439.8 464.3,432 477.2,423.7 490.1,415 503,405.8 515.9,396.1 528.8,385.9 541.7,375 554.5,363.6 567.4,351.4 580.3,338.5 593.2,324.8 606.1,310.3 619,294.9 631.9,278.5 644.7,261 657.6,242.5 670.5,222.7 683.4,201.6 696.3,179.1 709,180.1 696.1,202.7 683.3,223.9 670.4,243.8 657.5,262.5 644.6,280 631.7,296.5 618.8,312.1 605.9,326.6 593.1,340.4 580.2,353.3 567.3,365.6 554.4,377.1 541.5,388 528.6,398.3 515.7,408 502.9,417.2 490,426 477.1,434.3 464.2,442.2 451.3,449.6 438.4,456.8 425.5,463.6 412.6,470.1 399.8,476.2 386.9,482.2 374,487.8 361.1,493.3 348.2,498.5 335.3,503.5 322.4,508.3" fill="url(#s14)" stroke="url(#s14)"/>
<polygon points="322.4,508.3 335.3,503.5 348.2,498.5 361.1,493.3 374,487.8 386.9,482.2 399.8,476.2 412.6,470.1 425.5,463.6 438.4,456.8 451.3,449.6 464.2,442.2 477.1,434.3 490,426 502.9,417.2 515.7,408 528.6,398.3 541.5,388 554.4,377.1 567.3,365.6 580.2,353.3 593.1,340.4 605.9,326.6 618.8,312.1 631.7,296.5 644.6,280 657.5,262.5 670.4,243.8 683.3,223.9 696.1,202.7 709,180.1 721.8,181 708.9,203.7 696,225.1 683.1,245.1 670.2,263.9 657.3,281.6 644.5,298.1 631.6,313.7 618.7,328.4 605.8,342.2 592.9,355.3 580,367.5 567.1,379.1 554.3,390.1 541.4,400.4 528.5,410.2 515.6,419.5 502.7,428.2 489.8,436.6 476.9,444.5 464,452 451.2,459.2 438.3,466 425.4,472.5 412.5,478.7 399.6,484.6 386.7,490.3 373.8,495.8 361,501 348.1,506 335.2,510.9" fill="url(#s15)" stroke="url(#s15)"/>
<polygon points="335.2,510.9 348.1,506 361,501 373.8,495.8 386.7,490.3 399.6,484.6 412.5,478.7 425.4,472.5 438.3,466 451.2,459.2 464,452 476.9,444.5 489.8,436.6 502.7,428.2 515.6,419.5 528.5,410.2 541.4,400.4 554.3,390.1 567.1,379.1 580,367.5 592.9,355.3 605.8,342.2 618.7,328.4 631.6,313.7 644.5,298.1 657.3,281.6 670.2,263.9 683.1,245.1 696,225.1 708.9,203.7 721.8,181 734.5,181.8 721.6,204.7 708.7,226.2 695.9,246.3 683,265.2 670.1,283 657.2,299.7 644.3,315.4 631.4,330.1 618.5,344 605.7,357.1 592.8,369.5 579.9,381.1 567,392.1 554.1,402.5 541.2,412.3 528.3,421.7 515.4,430.5 502.6,438.8 489.7,446.8 476.8,454.3 463.9,461.5 451,468.4 438.1,474.9 425.2,481.1 412.4,487.1 399.5,492.8 386.6,498.3 373.7,503.5 360.8,508.6 347.9,513.4" fill="url(#s16)" stroke="url(#s16)"/>
<polygon points="347.9,513.4 360.8,508.6 373.7,503.5 386.6,498.3 399.5,492.8 412.4,487.1 425.2,481.1 438.1,474.9 451,468.4 463.9,461.5 476.8,454.3 489.7,446.8 502.6,438.8 515.4,430.5 528.3,421.7 541.2,412.3 554.1,402.5 567,392.1 579.9,381.1 592.8,369.5 605.7,357.1 618.5,344 631.4,330.1 644.3,315.4 657.2,299.7 670.1,283 683,265.2 695.9,246.3 708.7,226.2 721.6,204.7 734.5,181.8 747.3,182.5 734.4,205.6 721.5,227.2 708.6,247.5 695.7,266.5 682.8,284.4 669.9,301.2 657.1,317 644.2,331.8 631.3,345.8 618.4,359 605.5,371.4 592.6,383.1 579.7,394.2 566.9,404.6 554,414.5 541.1,423.8 528.2,432.7 515.3,441.1 502.4,449.1 489.5,456.7 476.6,463.9 463.8,470.8 450.9,477.3 438,483.6 425.1,489.6 412.2,495.3 399.3,500.8 386.4,506 373.6,511.1 360.7,516" fill="url(#s17)" stroke="url(#s17)"/>
<polygon points="360.7,516 373.6,511.1 386.4,506 399.3,500.8 412.2,495.3 425.1,489.6 438,483.6 450.9,477.3 463.8,470.8 476.6,463.9 489.5,456.7 502.4,449.1 515.3,441.1 528.2,432.7 541.1,423.8 554,414.5 566.9,404.6 579.7,394.2 592.6,383.1 605.5,371.4 618.4,359 631.3,345.8 644.2,331.8 657.1,317 669.9,301.2 682.8,284.4 695.7,266.5 708.6,247.5 721.5,227.2 734.4,205.6 747.3,182.5 760,183.1 747.1,206.4 734.2,228.1 721.3,248.6 708.5,267.7 695.6,285.7 682.7,302.6 669.8,318.5 656.9,333.5 644,347.5 631.1,360.8 618.3,373.3 605.4,385 592.5,396.2 579.6,406.7 566.7,416.6 553.8,426 540.9,434.9 528,443.4 515.2,451.4 502.3,459 489.4,466.2 476.5,473.2 463.6,479.7 450.7,486 437.8,492 425,497.8 412.1,503.3 399.2,508.6 386.3,513.6 373.4,518.5" fill="url(#s18)" stroke="url(#s18)"/>
<polygon points="373.4,518.5 386.3,513.6 399.2,508.6 412.1,503.3 425,497.8 437.8,492 450.7,486 463.6,479.7 476.5,473.2 489.4,466.2 502.3,459 515.2,451.4 528,443.4 540.9,434.9 553.8,426 566.7,416.6 579.6,406.7 592.5,396.2 605.4,385 618.3,373.3 631.1,360.8 644,347.5 656.9,333.5 669.8,318.5 682.7,302.6 695.6,285.7 708.5,267.7 721.3,248.6 734.2,228.1 747.1,206.4 760,183.1 772.7,183.7 759.9,207.1 747,229 734.1,249.6 721.2,268.9 708.3,287 695.4,304 682.5,320 669.7,335.1 656.8,349.2 643.9,362.5 631,375.1 618.1,386.9 605.2,398.1 592.3,408.7 579.4,418.7 566.6,428.1 553.7,437.1 540.8,445.6 527.9,453.6 515,461.3 502.1,468.6 489.2,475.5 476.4,482.1 463.5,488.4 450.6,494.5 437.7,500.2 424.8,505.8 411.9,511.1 399,516.2 386.2,521.1" fill="url(#s19)" stroke="url(#s19)"/>
<polygon points="386.2,521.1 399,516.2 411.9,511.1 424.8,505.8 437.7,500.2 450.6,494.5 463.5,488.4 476.4,482.1 489.2,475.5 502.1,468.6 515,461.3 527.9,453.6 540.8,445.6 553.7,437.1 566.6,428.1 579.4,418.7 592.3,408.7 605.2,398.1 618.1,386.9 631,375.1 643.9,362.5 656.8,349.2 669.7,335.1 682.5,320 695.4,304 708.3,287 721.2,268.9 734.1,249.6 747,229 759.9,207.1 772.7,183.7 785.5,184.1 772.6,207.7 759.7,229.8 746.8,250.5 733.9,270 721.1,288.2 708.2,305.4 695.3,321.5 682.4,336.6 669.5,350.8 656.6,364.3 643.7,376.9 630.9,388.8 618,400.1 605.1,410.7 592.2,420.8 579.3,430.3 566.4,439.3 553.5,447.8 540.6,455.9 527.8,463.6 514.9,470.9 502,477.9 489.1,484.5 476.2,490.9 463.3,496.9 450.4,502.7 437.6,508.3 424.7,513.6 411.8,518.7 398.9,523.6" fill="url(#s20)" stroke="url(#s20)"/>
<polygon points="398.9,523.6 411.8,518.7 424.7,513.6 437.6,508.3 450.4,502.7 463.3,496.9 476.2,490.9 489.1,484.5 502,477.9 514.9,470.9 527.8,463.6 540.6,455.9 553.5,447.8 566.4,439.3 579.3,430.3 592.2,420.8 605.1,410.7 618,400.1 630.9,388.8 643.7,376.9 656.6,364.3 669.5,350.8 682.4,336.6 695.3,321.5 708.2,305.4 721.1,288.2 733.9,270 746.8,250.5 759.7,229.8 772.6,207.7 785.5,184.1 798.2,184.5 785.3,208.3 772.5,230.5 759.6,251.4 746.7,271 733.8,289.4 720.9,306.6 708,322.9 695.1,338.1 682.3,352.4 669.4,366 656.5,378.7 643.6,390.7 630.7,402 617.8,412.7 604.9,422.8 592,432.4 579.2,441.4 566.3,450 553.4,458.2 540.5,465.9 527.6,473.2 514.7,480.2 501.8,486.9 489,493.3 476.1,499.4 463.2,505.2 450.3,510.8 437.4,516.1 424.5,521.2 411.6,526.2" fill="url(#s21)" stroke="url(#s21)"/>
<polygon points="411.6,526.2 424.5,521.2 437.4,516.1 450.3,510.8 463.2,505.2 476.1,499.4 489,493.3 501.8,486.9 514.7,480.2 527.6,473.2 540.5,465.9 553.4,458.2 566.3,450 579.2,441.4 592,432.4 604.9,422.8 617.8,412.7 630.7,402 643.6,390.7 656.5,378.7 669.4,366 682.3,352.4 695.1,338.1 708,322.9 720.9,306.6 733.8,289.4 746.7,271 759.6,251.4 772.5,230.5 785.3,208.3 798.2,184.5 811,184.8 798.1,208.7 785.2,231.2 772.3,252.2 759.4,271.9 746.5,290.5 733.7,307.9 720.8,324.2 707.9,339.6 695,354 682.1,367.6 669.2,380.4 656.3,392.5 643.4,403.9 630.6,414.7 617.7,424.8 604.8,434.5 591.9,443.6 579,452.2 566.1,460.4 553.2,468.2 540.4,475.6 527.5,482.6 514.6,489.3 501.7,495.7 488.8,501.8 475.9,507.7 463,513.2 450.2,518.6 437.3,523.8 424.4,528.7" fill="url(#s22)" stroke="url(#s22)"/>
<polygon points="424.4,528.7 437.3,523.8 450.2,518.6 463,513.2 475.9,507.7 488.8,501.8 501.7,495.7 514.6,489.3 527.5,482.6 540.4,475.6 553.2,468.2 566.1,460.4 579,452.2 591.9,443.6 604.8,434.5 617.7,424.8 630.6,414.7 643.4,403.9 656.3,392.5 669.2,380.4 682.1,367.6 695,354 707.9,339.6 720.8,324.2 733.7,307.9 746.5,290.5 759.4,271.9 772.3,252.2 785.2,231.2 798.1,208.7 811,184.8 823.7,184.9 810.8,209.1 797.9,231.7 785.1,252.9 772.2,272.8 759.3,291.5 746.4,309 733.5,325.5 720.6,341 707.7,355.5 694.8,369.2 682,382.1 669.1,394.3 656.2,405.8 643.3,416.6 630.4,426.8 617.5,436.5 604.6,445.7 591.8,454.4 578.9,462.6 566,470.4 553.1,477.9 540.2,484.9 527.3,491.7 514.4,498.1 501.6,504.2 488.7,510.1 475.8,515.7 462.9,521.1 450,526.3 437.1,531.3" fill="url(#s23)" stroke="url(#s23)"/>
<polygon points="437.1,531.3 450,526.3 462.9,521.1 475.8,515.7 488.7,510.1 501.6,504.2 514.4,498.1 527.3,491.7 540.2,484.9 553.1,477.9 566,470.4 578.9,462.6 591.8,454.4 604.6,445.7 617.5,436.5 630.4,426.8 643.3,416.6 656.2,405.8 669.1,394.3 682,382.1 694.8,369.2 707.7,355.5 720.6,341 733.5,325.5 746.4,309 759.3,291.5 772.2,272.8 785.1,252.9 797.9,231.7 810.8,209.1 823.7,184.9 836.5,185 823.6,209.4 810.7,232.2 797.8,253.6 784.9,273.7 772,292.5 759.1,310.2 746.3,326.7 733.4,342.3 720.5,357 707.6,370.8 694.7,383.8 681.8,396.1 668.9,407.6 656,418.5 643.2,428.8 630.3,438.6 617.4,447.8 604.5,456.5 591.6,464.8 578.7,472.7 565.8,480.2 553,487.3 540.1,494 527.2,500.5 514.3,506.7 501.4,512.6 488.5,518.2 475.6,523.6 462.8,528.8 449.9,533.8" fill="url(#s24)" stroke="url(#s24)"/>
<polygon points="449.9,533.8 462.8,528.8 475.6,523.6 488.5,518.2 501.4,512.6 514.3,506.7 527.2,500.5 540.1,494 553,487.3 565.8,480.2 578.7,472.7 591.6,464.8 604.5,456.5 617.4,447.8 630.3,438.6 643.2,428.8 656,418.5 668.9,407.6 681.8,396.1 694.7,383.8 707.6,370.8 720.5,357 733.4,342.3 746.3,326.7 759.1,310.2 772,292.5 784.9,273.7 797.8,253.6 810.7,232.2 823.6,209.4 836.5,185 849.2,185 836.3,209.6 823.4,232.6 810.5,254.2 797.7,274.4 784.8,293.4 771.9,311.2 759,328 746.1,343.7 733.2,358.4 720.3,372.4 707.4,385.4 694.6,397.8 681.7,409.4 668.8,420.4 655.9,430.8 643,440.6 630.1,449.9 617.2,458.7 604.4,467 591.5,474.9 578.6,482.4 565.7,489.6 552.8,496.4 539.9,502.9 527,509.1 514.2,515 501.3,520.7 488.4,526.1 475.5,531.3 462.6,536.3" fill="url(#s25)" stroke="url(#s25)"/>
<polygon points="462.6,536.3 475.5,531.3 488.4,526.1 501.3,520.7 514.2,515 527,509.1 539.9,502.9 552.8,496.4 565.7,489.6 578.6,482.4 591.5,474.9 604.4,467 617.2,458.7 630.1,449.9 643,440.6 655.9,430.8 668.8,420.4 681.7,409.4 694.6,397.8 707.4,385.4 720.3,372.4 733.2,358.4 746.1,343.7 759,328 771.9,311.2 784.8,293.4 797.7,274.4 810.5,254.2 823.4,232.6 836.3,209.6 849.2,185 861.9,184.9 849.1,209.7 836.2,233 823.3,254.7 810.4,275.1 797.5,294.3 784.6,312.2 771.7,329.1 758.8,345 746,359.8 733.1,373.9 720.2,387.1 707.3,399.5 694.4,411.2 681.5,422.3 668.6,432.7 655.8,442.6 642.9,451.9 630,460.8 617.1,469.2 604.2,477.1 591.3,484.7 578.4,491.9 565.6,498.8 552.7,505.3 539.8,511.5 526.9,517.5 514,523.2 501.1,528.6 488.2,533.9 475.4,538.9" fill="url(#s26)" stroke="url(#s26)"/>
<polygon points="475.4,538.9 488.2,533.9 501.1,528.6 514,523.2 526.9,517.5 539.8,511.5 552.7,505.3 565.6,498.8 578.4,491.9 591.3,484.7 604.2,477.1 617.1,469.2 630,460.8 642.9,451.9 655.8,442.6 668.6,432.7 681.5,422.3 694.4,411.2 707.3,399.5 720.2,387.1 733.1,373.9 746,359.8 758.8,345 771.7,329.1 784.6,312.2 797.5,294.3 810.4,275.1 823.3,254.7 836.2,233 849.1,209.7 861.9,184.9 874.7,184.8 861.8,209.8 848.9,233.2 836,255.2 823.1,275.8 810.3,295.1 797.4,313.2 784.5,330.2 771.6,346.2 758.7,361.2 745.8,375.3 732.9,388.6 720,401.2 707.2,413 694.3,424.1 681.4,434.6 668.5,444.6 655.6,454 642.7,462.9 629.8,471.3 617,479.4 604.1,487 591.2,494.2 578.3,501.1 565.4,507.7 552.5,513.9 539.6,519.9 526.8,525.6 513.9,531.1 501,536.4 488.1,541.4" fill="url(#s27)" stroke="url(#s27)"/>
<polygon points="488.1,541.4 501,536.4 513.9,531.1 526.8,525.6 539.6,519.9 552.5,513.9 565.4,507.7 578.3,501.1 591.2,494.2 604.1,487 617,479.4 629.8,471.3 642.7,462.9 655.6,454 668.5,444.6 681.4,434.6 694.3,424.1 707.2,413 720,401.2 732.9,388.6 745.8,375.3 758.7,361.2 771.6,346.2 784.5,330.2 797.4,313.2 810.3,295.1 823.1,275.8 836,255.2 848.9,233.2 861.8,209.8 874.7,184.8 887.4,184.5 874.5,209.8 861.7,233.4 848.8,255.6 835.9,276.4 823,295.8 810.1,314.1 797.2,331.3 784.3,347.4 771.4,362.5 758.6,376.8 745.7,390.2 732.8,402.8 719.9,414.7 707,425.9 694.1,436.5 681.2,446.5 668.4,456 655.5,465 642.6,473.5 629.7,481.6 616.8,489.2 603.9,496.5 591,503.4 578.2,510 565.3,516.3 552.4,522.4 539.5,528.1 526.6,533.6 513.7,538.9 500.8,544" fill="url(#s28)" stroke="url(#s28)"/>
<polygon points="500.8,544 513.7,538.9 526.6,533.6 539.5,528.1 552.4,522.4 565.3,516.3 578.2,510 591,503.4 603.9,496.5 616.8,489.2 629.7,481.6 642.6,473.5 655.5,465 668.4,456 681.2,446.5 694.1,436.5 707,425.9 719.9,414.7 732.8,402.8 745.7,390.2 758.6,376.8 771.4,362.5 784.3,347.4 797.2,331.3 810.1,314.1 823,295.8 835.9,276.4 848.8,255.6 861.7,233.4 874.5,209.8 887.4,184.5 900.2,184.1 887.3,209.7 874.4,233.5 861.5,255.9 848.6,276.9 835.7,296.5 822.8,315 810,332.3 797.1,348.5 784.2,363.8 771.3,378.2 758.4,391.7 745.5,404.4 732.6,416.4 719.8,427.7 706.9,438.4 694,448.5 681.1,458 668.2,467.1 655.3,475.6 642.4,483.8 629.6,491.5 616.7,498.8 603.8,505.8 590.9,512.4 578,518.7 565.1,524.8 552.2,530.6 539.4,536.1 526.5,541.4 513.6,546.5" fill="url(#s29)" stroke="url(#s29)"/>
<polygon points="513.6,546.5 526.5,541.4 539.4,536.1 552.2,530.6 565.1,524.8 578,518.7 590.9,512.4 603.8,505.8 616.7,498.8 629.6,491.5 642.4,483.8 655.3,475.6 668.2,467.1 681.1,458 694,448.5 706.9,438.4 719.8,427.7 732.6,416.4 745.5,404.4 758.4,391.7 771.3,378.2 784.2,363.8 797.1,348.5 810,332.3 822.8,315 835.7,296.5 848.6,276.9 861.5,255.9 874.4,233.5 887.3,209.7 900.2,184.1 912.9,183.7 900,209.5 887.1,233.6 874.2,256.2 861.4,277.3 848.5,297.2 835.6,315.8 822.7,333.2 809.8,349.6 796.9,365 784,379.5 771.2,393.2 758.3,406 745.4,418.1 732.5,429.5 719.6,440.3 706.7,450.4 693.8,460 681,469.1 668.1,477.8 655.2,485.9 642.3,493.7 629.4,501.1 616.5,508.1 603.6,514.8 590.8,521.2 577.9,527.2 565,533.1 552.1,538.6 539.2,544 526.3,549.1" fill="url(#s30)" stroke="url(#s30)"/>
</g>
<g class="ms">
<polyline points="144.1,472.6 156.9,467.9 169.8,463 182.7,457.9 195.6,452.6 208.5,447 221.4,441.2 234.3,435.2 247.1,428.9 260,422.3 272.9,415.4 285.8,408.1 298.7,400.5 311.6,392.5 324.5,384 337.3,375.1 350.2,365.8 363.1,355.9 376,345.4 388.9,334.4 401.8,322.7 414.7,310.3 427.5,297.1 440.4,283.2 453.3,268.5 466.2,252.8 479.1,236.1 492,218.4 504.9,199.5 517.8,179.5 530.6,158.1"/>
<polyline points="156.8,475.2 169.7,470.4 182.6,465.5 195.5,460.4 208.3,455.1 221.2,449.6 234.1,443.8 247,437.8 259.9,431.4 272.8,424.8 285.7,417.9 298.5,410.6 311.4,403 324.3,395 337.2,386.5 350.1,377.6 363,368.2 375.9,358.3 388.7,347.9 401.6,336.8 414.5,325.1 427.4,312.7 440.3,299.5 453.2,285.6 466.1,270.8 478.9,255.1 491.8,238.4 504.7,220.7 517.6,201.8 530.5,181.7 543.4,160.3"/>
<polyline points="169.5,477.7 182.4,473 195.3,468.1 208.2,463 221.1,457.6 234,452.1 246.9,446.3 259.7,440.3 272.6,434 285.5,427.4 298.4,420.4 311.3,413.1 324.2,405.5 337.1,397.5 349.9,389 362.8,380.1 375.7,370.7 388.6,360.8 401.5,350.3 414.4,339.2 427.3,327.5 440.1,315.1 453,301.9 465.9,287.9 478.8,273.1 491.7,257.4 504.6,240.6 517.5,222.9 530.3,203.9 543.2,183.8 556.1,162.3"/>
<polyline points="182.3,480.3 195.2,475.5 208.1,470.6 220.9,465.5 233.8,460.2 246.7,454.6 259.6,448.8 272.5,442.8 285.4,436.5 298.3,429.9 311.1,422.9 324,415.6 336.9,408 349.8,399.9 362.7,391.5 375.6,382.6 388.5,373.1 401.3,363.2 414.2,352.7 427.1,341.6 440,329.9 452.9,317.4 465.8,304.2 478.7,290.2 491.5,275.4 504.4,259.6 517.3,242.8 530.2,225 543.1,206 556,185.8 568.9,164.3"/>
<polyline points="195,482.8 207.9,478.1 220.8,473.2 233.7,468 246.6,462.7 259.5,457.2 272.3,451.4 285.2,445.3 298.1,439 311,432.4 323.9,425.4 336.8,418.1 349.7,410.5 362.5,402.4 375.4,393.9 388.3,385 401.2,375.6 414.1,365.6 427,355.1 439.9,344 452.7,332.2 465.6,319.7 478.5,306.5 491.4,292.5 504.3,277.6 517.2,261.7 530.1,244.9 542.9,227 555.8,208 568.7,187.8 581.6,166.2"/>
<polyline points="207.8,485.4 220.6,480.6 233.5,475.7 246.4,470.6 259.3,465.2 272.2,459.7 285.1,453.9 298,447.8 310.9,441.5 323.7,434.9 336.6,427.9 349.5,420.6 362.4,412.9 375.3,404.8 388.2,396.3 401.1,387.4 413.9,377.9 426.8,368 439.7,357.4 452.6,346.3 465.5,334.5 478.4,322 491.3,308.7 504.1,294.6 517,279.7 529.9,263.8 542.8,247 555.7,229 568.6,210 581.5,189.6 594.3,168"/>
<polyline points="220.5,487.9 233.4,483.2 246.3,478.2 259.2,473.1 272,467.8 284.9,462.2 297.8,456.4 310.7,450.3 323.6,444 336.5,437.3 349.4,430.4 362.3,423 375.1,415.3 388,407.3 400.9,398.7 413.8,389.8 426.7,380.3 439.6,370.3 452.5,359.7 465.3,348.5 478.2,336.7 491.1,324.2 504,310.9 516.9,296.8 529.8,281.8 542.7,265.9 555.5,249 568.4,231 581.3,211.8 594.2,191.4 607.1,169.7"/>
<polyline points="233.2,490.5 246.1,485.7 259,480.8 271.9,475.6 284.8,470.3 297.7,464.7 310.6,458.9 323.5,452.8 336.3,446.5 349.2,439.8 362.1,432.8 375,425.5 387.9,417.8 400.8,409.7 413.7,401.1 426.5,392.1 439.4,382.6 452.3,372.6 465.2,362 478.1,350.8 491,338.9 503.9,326.3 516.7,313 529.6,298.9 542.5,283.8 555.4,267.9 568.3,250.9 581.2,232.8 594.1,213.6 606.9,193.1 619.8,171.3"/>
<polyline points="246,493 258.9,488.3 271.8,483.3 284.6,478.2 297.5,472.8 310.4,467.2 323.3,461.4 336.2,455.3 349.1,448.9 362,442.3 374.9,435.3 387.7,427.9 400.6,420.2 413.5,412 426.4,403.5 439.3,394.5 452.2,384.9 465.1,374.9 477.9,364.3 490.8,353 503.7,341.1 516.6,328.5 529.5,315.1 542.4,300.9 555.3,285.8 568.1,269.8 581,252.7 593.9,234.6 606.8,215.3 619.7,194.7 632.6,172.8"/>
<polyline points="258.7,495.6 271.6,490.8 284.5,485.8 297.4,480.7 310.3,475.3 323.2,469.7 336,463.9 348.9,457.8 361.8,451.4 374.7,444.7 387.6,437.7 400.5,430.3 413.4,422.6 426.3,414.4 439.1,405.8 452,396.8 464.9,387.2 477.8,377.1 490.7,366.5 503.6,355.2 516.5,343.2 529.3,330.6 542.2,317.1 555.1,302.9 568,287.7 580.9,271.6 593.8,254.5 606.7,236.3 619.5,216.9 632.4,196.3 645.3,174.3"/>
<polyline points="271.5,498.1 284.4,493.3 297.2,488.4 310.1,483.2 323,477.8 335.9,472.2 348.8,466.4 361.7,460.2 374.6,453.8 387.5,447.1 400.3,440.1 413.2,432.7 426.1,424.9 439,416.8 451.9,408.2 464.8,399.1 477.7,389.5 490.5,379.4 503.4,368.7 516.3,357.3 529.2,345.3 542.1,332.6 555,319.1 567.9,304.8 580.7,289.6 593.6,273.4 606.5,256.2 619.4,237.9 632.3,218.5 645.2,197.7 658.1,175.6"/>
<polyline points="284.2,500.7 297.1,495.9 310,490.9 322.9,485.7 335.8,480.3 348.6,474.7 361.5,468.8 374.4,462.7 387.3,456.3 400.2,449.6 413.1,442.5 426,435.1 438.9,427.3 451.7,419.1 464.6,410.5 477.5,401.3 490.4,391.7 503.3,381.6 516.2,370.8 529.1,359.4 541.9,347.4 554.8,334.6 567.7,321.1 580.6,306.7 593.5,291.4 606.4,275.2 619.3,257.9 632.1,239.5 645,219.9 657.9,199.1 670.8,176.9"/>
<polyline points="297,503.2 309.8,498.4 322.7,493.4 335.6,488.2 348.5,482.8 361.4,477.2 374.3,471.3 387.2,465.2 400,458.7 412.9,452 425.8,444.9 438.7,437.5 451.6,429.6 464.5,421.4 477.4,412.7 490.3,403.6 503.1,393.9 516,383.7 528.9,372.9 541.8,361.5 554.7,349.4 567.6,336.6 580.5,323 593.3,308.5 606.2,293.2 619.1,276.9 632,259.5 644.9,241 657.8,221.3 670.7,200.4 683.5,178"/>
<polyline points="309.7,505.8 322.6,501 335.5,496 348.4,490.8 361.2,485.3 374.1,479.7 387,473.8 399.9,467.6 412.8,461.2 425.7,454.4 438.6,447.3 451.5,439.8 464.3,432 477.2,423.7 490.1,415 503,405.8 515.9,396.1 528.8,385.9 541.7,375 554.5,363.6 567.4,351.4 580.3,338.5 593.2,324.8 606.1,310.3 619,294.9 631.9,278.5 644.7,261 657.6,242.5 670.5,222.7 683.4,201.6 696.3,179.1"/>
<polyline points="322.4,508.3 335.3,503.5 348.2,498.5 361.1,493.3 374,487.8 386.9,482.2 399.8,476.2 412.6,470.1 425.5,463.6 438.4,456.8 451.3,449.6 464.2,442.2 477.1,434.3 490,426 502.9,417.2 515.7,408 528.6,398.3 541.5,388 554.4,377.1 567.3,365.6 580.2,353.3 593.1,340.4 605.9,326.6 618.8,312.1 631.7,296.5 644.6,280 657.5,262.5 670.4,243.8 683.3,223.9 696.1,202.7 709,180.1"/>
<polyline points="335.2,510.9 348.1,506 361,501 373.8,495.8 386.7,490.3 399.6,484.6 412.5,478.7 425.4,472.5 438.3,466 451.2,459.2 464,452 476.9,444.5 489.8,436.6 502.7,428.2 515.6,419.5 528.5,410.2 541.4,400.4 554.3,390.1 567.1,379.1 580,367.5 592.9,355.3 605.8,342.2 618.7,328.4 631.6,313.7 644.5,298.1 657.3,281.6 670.2,263.9 683.1,245.1 696,225.1 708.9,203.7 721.8,181"/>
<polyline points="347.9,513.4 360.8,508.6 373.7,503.5 386.6,498.3 399.5,492.8 412.4,487.1 425.2,481.1 438.1,474.9 451,468.4 463.9,461.5 476.8,454.3 489.7,446.8 502.6,438.8 515.4,430.5 528.3,421.7 541.2,412.3 554.1,402.5 567,392.1 579.9,381.1 592.8,369.5 605.7,357.1 618.5,344 631.4,330.1 644.3,315.4 657.2,299.7 670.1,283 683,265.2 695.9,246.3 708.7,226.2 721.6,204.7 734.5,181.8"/>
<polyline points="360.7,516 373.6,511.1 386.4,506 399.3,500.8 412.2,495.3 425.1,489.6 438,483.6 450.9,477.3 463.8,470.8 476.6,463.9 489.5,456.7 502.4,449.1 515.3,441.1 528.2,432.7 541.1,423.8 554,414.5 566.9,404.6 579.7,394.2 592.6,383.1 605.5,371.4 618.4,359 631.3,345.8 644.2,331.8 657.1,317 669.9,301.2 682.8,284.4 695.7,266.5 708.6,247.5 721.5,227.2 734.4,205.6 747.3,182.5"/>
<polyline points="373.4,518.5 386.3,513.6 399.2,508.6 412.1,503.3 425,497.8 437.8,492 450.7,486 463.6,479.7 476.5,473.2 489.4,466.2 502.3,459 515.2,451.4 528,443.4 540.9,434.9 553.8,426 566.7,416.6 579.6,406.7 592.5,396.2 605.4,385 618.3,373.3 631.1,360.8 644,347.5 656.9,333.5 669.8,318.5 682.7,302.6 695.6,285.7 708.5,267.7 721.3,248.6 734.2,228.1 747.1,206.4 760,183.1"/>
<polyline points="386.2,521.1 399,516.2 411.9,511.1 424.8,505.8 437.7,500.2 450.6,494.5 463.5,488.4 476.4,482.1 489.2,475.5 502.1,468.6 515,461.3 527.9,453.6 540.8,445.6 553.7,437.1 566.6,428.1 579.4,418.7 592.3,408.7 605.2,398.1 618.1,386.9 631,375.1 643.9,362.5 656.8,349.2 669.7,335.1 682.5,320 695.4,304 708.3,287 721.2,268.9 734.1,249.6 747,229 759.9,207.1 772.7,183.7"/>
<polyline points="398.9,523.6 411.8,518.7 424.7,513.6 437.6,508.3 450.4,502.7 463.3,496.9 476.2,490.9 489.1,484.5 502,477.9 514.9,470.9 527.8,463.6 540.6,455.9 553.5,447.8 566.4,439.3 579.3,430.3 592.2,420.8 605.1,410.7 618,400.1 630.9,388.8 643.7,376.9 656.6,364.3 669.5,350.8 682.4,336.6 695.3,321.5 708.2,305.4 721.1,288.2 733.9,270 746.8,250.5 759.7,229.8 772.6,207.7 785.5,184.1"/>
<polyline points="411.6,526.2 424.5,521.2 437.4,516.1 450.3,510.8 463.2,505.2 476.1,499.4 489,493.3 501.8,486.9 514.7,480.2 527.6,473.2 540.5,465.9 553.4,458.2 566.3,450 579.2,441.4 592,432.4 604.9,422.8 617.8,412.7 630.7,402 643.6,390.7 656.5,378.7 669.4,366 682.3,352.4 695.1,338.1 708,322.9 720.9,306.6 733.8,289.4 746.7,271 759.6,251.4 772.5,230.5 785.3,208.3 798.2,184.5"/>
<polyline points="424.4,528.7 437.3,523.8 450.2,518.6 463,513.2 475.9,507.7 488.8,501.8 501.7,495.7 514.6,489.3 527.5,482.6 540.4,475.6 553.2,468.2 566.1,460.4 579,452.2 591.9,443.6 604.8,434.5 617.7,424.8 630.6,414.7 643.4,403.9 656.3,392.5 669.2,380.4 682.1,367.6 695,354 707.9,339.6 720.8,324.2 733.7,307.9 746.5,290.5 759.4,271.9 772.3,252.2 785.2,231.2 798.1,208.7 811,184.8"/>
<polyline points="437.1,531.3 450,526.3 462.9,521.1 475.8,515.7 488.7,510.1 501.6,504.2 514.4,498.1 527.3,491.7 540.2,484.9 553.1,477.9 566,470.4 578.9,462.6 591.8,454.4 604.6,445.7 617.5,436.5 630.4,426.8 643.3,416.6 656.2,405.8 669.1,394.3 682,382.1 694.8,369.2 707.7,355.5 720.6,341 733.5,325.5 746.4,309 759.3,291.5 772.2,272.8 785.1,252.9 797.9,231.7 810.8,209.1 823.7,184.9"/>
<polyline points="449.9,533.8 462.8,528.8 475.6,523.6 488.5,518.2 501.4,512.6 514.3,506.7 527.2,500.5 540.1,494 553,487.3 565.8,480.2 578.7,472.7 591.6,464.8 604.5,456.5 617.4,447.8 630.3,438.6 643.2,428.8 656,418.5 668.9,407.6 681.8,396.1 694.7,383.8 707.6,370.8 720.5,357 733.4,342.3 746.3,326.7 759.1,310.2 772,292.5 784.9,273.7 797.8,253.6 810.7,232.2 823.6,209.4 836.5,185"/>
<polyline points="462.6,536.3 475.5,531.3 488.4,526.1 501.3,520.7 514.2,515 527,509.1 539.9,502.9 552.8,496.4 565.7,489.6 578.6,482.4 591.5,474.9 604.4,467 617.2,458.7 630.1,449.9 643,440.6 655.9,430.8 668.8,420.4 681.7,409.4 694.6,397.8 707.4,385.4 720.3,372.4 733.2,358.4 746.1,343.7 759,328 771.9,311.2 784.8,293.4 797.7,274.4 810.5,254.2 823.4,232.6 836.3,209.6 849.2,185"/>
<polyline points="475.4,538.9 488.2,533.9 501.1,528.6 514,523.2 526.9,517.5 539.8,511.5 552.7,505.3 565.6,498.8 578.4,491.9 591.3,484.7 604.2,477.1 617.1,469.2 630,460.8 642.9,451.9 655.8,442.6 668.6,432.7 681.5,422.3 694.4,411.2 707.3,399.5 720.2,387.1 733.1,373.9 746,359.8 758.8,345 771.7,329.1 784.6,312.2 797.5,294.3 810.4,275.1 823.3,254.7 836.2,233 849.1,209.7 861.9,184.9"/>
<polyline points="488.1,541.4 501,536.4 513.9,531.1 526.8,525.6 539.6,519.9 552.5,513.9 565.4,507.7 578.3,501.1 591.2,494.2 604.1,487 617,479.4 629.8,471.3 642.7,462.9 655.6,454 668.5,444.6 681.4,434.6 694.3,424.1 707.2,413 720,401.2 732.9,388.6 745.8,375.3 758.7,361.2 771.6,346.2 784.5,330.2 797.4,313.2 810.3,295.1 823.1,275.8 836,255.2 848.9,233.2 861.8,209.8 874.7,184.8"/>
<polyline points="500.8,544 513.7,538.9 526.6,533.6 539.5,528.1 552.4,522.4 565.3,516.3 578.2,510 591,503.4 603.9,496.5 616.8,489.2 629.7,481.6 642.6,473.5 655.5,465 668.4,456 681.2,446.5 694.1,436.5 707,425.9 719.9,414.7 732.8,402.8 745.7,390.2 758.6,376.8 771.4,362.5 784.3,347.4 797.2,331.3 810.1,314.1 823,295.8 835.9,276.4 848.8,255.6 861.7,233.4 874.5,209.8 887.4,184.5"/>
<polyline points="513.6,546.5 526.5,541.4 539.4,536.1 552.2,530.6 565.1,524.8 578,518.7 590.9,512.4 603.8,505.8 616.7,498.8 629.6,491.5 642.4,483.8 655.3,475.6 668.2,467.1 681.1,458 694,448.5 706.9,438.4 719.8,427.7 732.6,416.4 745.5,404.4 758.4,391.7 771.3,378.2 784.2,363.8 797.1,348.5 810,332.3 822.8,315 835.7,296.5 848.6,276.9 861.5,255.9 874.4,233.5 887.3,209.7 900.2,184.1"/>
<polyline points="526.3,549.1 539.2,544 552.1,538.6 565,533.1 577.9,527.2 590.8,521.2 603.6,514.8 616.5,508.1 629.4,501.1 642.3,493.7 655.2,485.9 668.1,477.8 681,469.1 693.8,460 706.7,450.4 719.6,440.3 732.5,429.5 745.4,418.1 758.3,406 771.2,393.2 784,379.5 796.9,365 809.8,349.6 822.7,333.2 835.6,315.8 848.5,297.2 861.4,277.3 874.2,256.2 887.1,233.6 900,209.5 912.9,183.7"/>
<polyline points="144.1,472.6 156.8,475.2 169.5,477.7 182.3,480.3 195,482.8 207.8,485.4 220.5,487.9 233.2,490.5 246,493 258.7,495.6 271.5,498.1 284.2,500.7 297,503.2 309.7,505.8 322.4,508.3 335.2,510.9 347.9,513.4 360.7,516 373.4,518.5 386.2,521.1 398.9,523.6 411.6,526.2 424.4,528.7 437.1,531.3 449.9,533.8 462.6,536.3 475.4,538.9 488.1,541.4 500.8,544 513.6,546.5 526.3,549.1"/>
<polyline points="156.9,467.9 169.7,470.4 182.4,473 195.2,475.5 207.9,478.1 220.6,480.6 233.4,483.2 246.1,485.7 258.9,488.3 271.6,490.8 284.4,493.3 297.1,495.9 309.8,498.4 322.6,501 335.3,503.5 348.1,506 360.8,508.6 373.6,511.1 386.3,513.6 399,516.2 411.8,518.7 424.5,521.2 437.3,523.8 450,526.3 462.8,528.8 475.5,531.3 488.2,533.9 501,536.4 513.7,538.9 526.5,541.4 539.2,544"/>
<polyline points="169.8,463 182.6,465.5 195.3,468.1 208.1,470.6 220.8,473.2 233.5,475.7 246.3,478.2 259,480.8 271.8,483.3 284.5,485.8 297.2,488.4 310,490.9 322.7,493.4 335.5,496 348.2,498.5 361,501 373.7,503.5 386.4,506 399.2,508.6 411.9,511.1 424.7,513.6 437.4,516.1 450.2,518.6 462.9,521.1 475.6,523.6 488.4,526.1 501.1,528.6 513.9,531.1 526.6,533.6 539.4,536.1 552.1,538.6"/>
<polyline points="182.7,457.9 195.5,460.4 208.2,463 220.9,465.5 233.7,468 246.4,470.6 259.2,473.1 271.9,475.6 284.6,478.2 297.4,480.7 310.1,483.2 322.9,485.7 335.6,488.2 348.4,490.8 361.1,493.3 373.8,495.8 386.6,498.3 399.3,500.8 412.1,503.3 424.8,505.8 437.6,508.3 450.3,510.8 463,513.2 475.8,515.7 488.5,518.2 501.3,520.7 514,523.2 526.8,525.6 539.5,528.1 552.2,530.6 565,533.1"/>
<polyline points="195.6,452.6 208.3,455.1 221.1,457.6 233.8,460.2 246.6,462.7 259.3,465.2 272,467.8 284.8,470.3 297.5,472.8 310.3,475.3 323,477.8 335.8,480.3 348.5,482.8 361.2,485.3 374,487.8 386.7,490.3 399.5,492.8 412.2,495.3 425,497.8 437.7,500.2 450.4,502.7 463.2,505.2 475.9,507.7 488.7,510.1 501.4,512.6 514.2,515 526.9,517.5 539.6,519.9 552.4,522.4 565.1,524.8 577.9,527.2"/>
<polyline points="208.5,447 221.2,449.6 234,452.1 246.7,454.6 259.5,457.2 272.2,459.7 284.9,462.2 297.7,464.7 310.4,467.2 323.2,469.7 335.9,472.2 348.6,474.7 361.4,477.2 374.1,479.7 386.9,482.2 399.6,484.6 412.4,487.1 425.1,489.6 437.8,492 450.6,494.5 463.3,496.9 476.1,499.4 488.8,501.8 501.6,504.2 514.3,506.7 527,509.1 539.8,511.5 552.5,513.9 565.3,516.3 578,518.7 590.8,521.2"/>
<polyline points="221.4,441.2 234.1,443.8 246.9,446.3 259.6,448.8 272.3,451.4 285.1,453.9 297.8,456.4 310.6,458.9 323.3,461.4 336,463.9 348.8,466.4 361.5,468.8 374.3,471.3 387,473.8 399.8,476.2 412.5,478.7 425.2,481.1 438,483.6 450.7,486 463.5,488.4 476.2,490.9 489,493.3 501.7,495.7 514.4,498.1 527.2,500.5 539.9,502.9 552.7,505.3 565.4,507.7 578.2,510 590.9,512.4 603.6,514.8"/>
<polyline points="234.3,435.2 247,437.8 259.7,440.3 272.5,442.8 285.2,445.3 298,447.8 310.7,450.3 323.5,452.8 336.2,455.3 348.9,457.8 361.7,460.2 374.4,462.7 387.2,465.2 399.9,467.6 412.6,470.1 425.4,472.5 438.1,474.9 450.9,477.3 463.6,479.7 476.4,482.1 489.1,484.5 501.8,486.9 514.6,489.3 527.3,491.7 540.1,494 552.8,496.4 565.6,498.8 578.3,501.1 591,503.4 603.8,505.8 616.5,508.1"/>
<polyline points="247.1,428.9 259.9,431.4 272.6,434 285.4,436.5 298.1,439 310.9,441.5 323.6,444 336.3,446.5 349.1,448.9 361.8,451.4 374.6,453.8 387.3,456.3 400,458.7 412.8,461.2 425.5,463.6 438.3,466 451,468.4 463.8,470.8 476.5,473.2 489.2,475.5 502,477.9 514.7,480.2 527.5,482.6 540.2,484.9 553,487.3 565.7,489.6 578.4,491.9 591.2,494.2 603.9,496.5 616.7,498.8 629.4,501.1"/>
<polyline points="260,422.3 272.8,424.8 285.5,427.4 298.3,429.9 311,432.4 323.7,434.9 336.5,437.3 349.2,439.8 362,442.3 374.7,444.7 387.5,447.1 400.2,449.6 412.9,452 425.7,454.4 438.4,456.8 451.2,459.2 463.9,461.5 476.6,463.9 489.4,466.2 502.1,468.6 514.9,470.9 527.6,473.2 540.4,475.6 553.1,477.9 565.8,480.2 578.6,482.4 591.3,484.7 604.1,487 616.8,489.2 629.6,491.5 642.3,493.7"/>
<polyline points="272.9,415.4 285.7,417.9 298.4,420.4 311.1,422.9 323.9,425.4 336.6,427.9 349.4,430.4 362.1,432.8 374.9,435.3 387.6,437.7 400.3,440.1 413.1,442.5 425.8,444.9 438.6,447.3 451.3,449.6 464,452 476.8,454.3 489.5,456.7 502.3,459 515,461.3 527.8,463.6 540.5,465.9 553.2,468.2 566,470.4 578.7,472.7 591.5,474.9 604.2,477.1 617,479.4 629.7,481.6 642.4,483.8 655.2,485.9"/>
<polyline points="285.8,408.1 298.5,410.6 311.3,413.1 324,415.6 336.8,418.1 349.5,420.6 362.3,423 375,425.5 387.7,427.9 400.5,430.3 413.2,432.7 426,435.1 438.7,437.5 451.5,439.8 464.2,442.2 476.9,444.5 489.7,446.8 502.4,449.1 515.2,451.4 527.9,453.6 540.6,455.9 553.4,458.2 566.1,460.4 578.9,462.6 591.6,464.8 604.4,467 617.1,469.2 629.8,471.3 642.6,473.5 655.3,475.6 668.1,477.8"/>
<polyline points="298.7,400.5 311.4,403 324.2,405.5 336.9,408 349.7,410.5 362.4,412.9 375.1,415.3 387.9,417.8 400.6,420.2 413.4,422.6 426.1,424.9 438.9,427.3 451.6,429.6 464.3,432 477.1,434.3 489.8,436.6 502.6,438.8 515.3,441.1 528,443.4 540.8,445.6 553.5,447.8 566.3,450 579,452.2 591.8,454.4 604.5,456.5 617.2,458.7 630,460.8 642.7,462.9 655.5,465 668.2,467.1 681,469.1"/>
<polyline points="311.6,392.5 324.3,395 337.1,397.5 349.8,399.9 362.5,402.4 375.3,404.8 388,407.3 400.8,409.7 413.5,412 426.3,414.4 439,416.8 451.7,419.1 464.5,421.4 477.2,423.7 490,426 502.7,428.2 515.4,430.5 528.2,432.7 540.9,434.9 553.7,437.1 566.4,439.3 579.2,441.4 591.9,443.6 604.6,445.7 617.4,447.8 630.1,449.9 642.9,451.9 655.6,454 668.4,456 681.1,458 693.8,460"/>
<polyline points="324.5,384 337.2,386.5 349.9,389 362.7,391.5 375.4,393.9 388.2,396.3 400.9,398.7 413.7,401.1 426.4,403.5 439.1,405.8 451.9,408.2 464.6,410.5 477.4,412.7 490.1,415 502.9,417.2 515.6,419.5 528.3,421.7 541.1,423.8 553.8,426 566.6,428.1 579.3,430.3 592,432.4 604.8,434.5 617.5,436.5 630.3,438.6 643,440.6 655.8,442.6 668.5,444.6 681.2,446.5 694,448.5 706.7,450.4"/>
<polyline points="337.3,375.1 350.1,377.6 362.8,380.1 375.6,382.6 388.3,385 401.1,387.4 413.8,389.8 426.5,392.1 439.3,394.5 452,396.8 464.8,399.1 477.5,401.3 490.3,403.6 503,405.8 515.7,408 528.5,410.2 541.2,412.3 554,414.5 566.7,416.6 579.4,418.7 592.2,420.8 604.9,422.8 617.7,424.8 630.4,426.8 643.2,428.8 655.9,430.8 668.6,432.7 681.4,434.6 694.1,436.5 706.9,438.4 719.6,440.3"/>
<polyline points="350.2,365.8 363,368.2 375.7,370.7 388.5,373.1 401.2,375.6 413.9,377.9 426.7,380.3 439.4,382.6 452.2,384.9 464.9,387.2 477.7,389.5 490.4,391.7 503.1,393.9 515.9,396.1 528.6,398.3 541.4,400.4 554.1,402.5 566.9,404.6 579.6,406.7 592.3,408.7 605.1,410.7 617.8,412.7 630.6,414.7 643.3,416.6 656,418.5 668.8,420.4 681.5,422.3 694.3,424.1 707,425.9 719.8,427.7 732.5,429.5"/>
<polyline points="363.1,355.9 375.9,358.3 388.6,360.8 401.3,363.2 414.1,365.6 426.8,368 439.6,370.3 452.3,372.6 465.1,374.9 477.8,377.1 490.5,379.4 503.3,381.6 516,383.7 528.8,385.9 541.5,388 554.3,390.1 567,392.1 579.7,394.2 592.5,396.2 605.2,398.1 618,400.1 630.7,402 643.4,403.9 656.2,405.8 668.9,407.6 681.7,409.4 694.4,411.2 707.2,413 719.9,414.7 732.6,416.4 745.4,418.1"/>
<polyline points="376,345.4 388.7,347.9 401.5,350.3 414.2,352.7 427,355.1 439.7,357.4 452.5,359.7 465.2,362 477.9,364.3 490.7,366.5 503.4,368.7 516.2,370.8 528.9,372.9 541.7,375 554.4,377.1 567.1,379.1 579.9,381.1 592.6,383.1 605.4,385 618.1,386.9 630.9,388.8 643.6,390.7 656.3,392.5 669.1,394.3 681.8,396.1 694.6,397.8 707.3,399.5 720,401.2 732.8,402.8 745.5,404.4 758.3,406"/>
<polyline points="388.9,334.4 401.6,336.8 414.4,339.2 427.1,341.6 439.9,344 452.6,346.3 465.3,348.5 478.1,350.8 490.8,353 503.6,355.2 516.3,357.3 529.1,359.4 541.8,361.5 554.5,363.6 567.3,365.6 580,367.5 592.8,369.5 605.5,371.4 618.3,373.3 631,375.1 643.7,376.9 656.5,378.7 669.2,380.4 682,382.1 694.7,383.8 707.4,385.4 720.2,387.1 732.9,388.6 745.7,390.2 758.4,391.7 771.2,393.2"/>
<polyline points="401.8,322.7 414.5,325.1 427.3,327.5 440,329.9 452.7,332.2 465.5,334.5 478.2,336.7 491,338.9 503.7,341.1 516.5,343.2 529.2,345.3 541.9,347.4 554.7,349.4 567.4,351.4 580.2,353.3 592.9,355.3 605.7,357.1 618.4,359 631.1,360.8 643.9,362.5 656.6,364.3 669.4,366 682.1,367.6 694.8,369.2 707.6,370.8 720.3,372.4 733.1,373.9 745.8,375.3 758.6,376.8 771.3,378.2 784,379.5"/>
<polyline points="414.7,310.3 427.4,312.7 440.1,315.1 452.9,317.4 465.6,319.7 478.4,322 491.1,324.2 503.9,326.3 516.6,328.5 529.3,330.6 542.1,332.6 554.8,334.6 567.6,336.6 580.3,338.5 593.1,340.4 605.8,342.2 618.5,344 631.3,345.8 644,347.5 656.8,349.2 669.5,350.8 682.3,352.4 695,354 707.7,355.5 720.5,357 733.2,358.4 746,359.8 758.7,361.2 771.4,362.5 784.2,363.8 796.9,365"/>
<polyline points="427.5,297.1 440.3,299.5 453,301.9 465.8,304.2 478.5,306.5 491.3,308.7 504,310.9 516.7,313 529.5,315.1 542.2,317.1 555,319.1 567.7,321.1 580.5,323 593.2,324.8 605.9,326.6 618.7,328.4 631.4,330.1 644.2,331.8 656.9,333.5 669.7,335.1 682.4,336.6 695.1,338.1 707.9,339.6 720.6,341 733.4,342.3 746.1,343.7 758.8,345 771.6,346.2 784.3,347.4 797.1,348.5 809.8,349.6"/>
<polyline points="440.4,283.2 453.2,285.6 465.9,287.9 478.7,290.2 491.4,292.5 504.1,294.6 516.9,296.8 529.6,298.9 542.4,300.9 555.1,302.9 567.9,304.8 580.6,306.7 593.3,308.5 606.1,310.3 618.8,312.1 631.6,313.7 644.3,315.4 657.1,317 669.8,318.5 682.5,320 695.3,321.5 708,322.9 720.8,324.2 733.5,325.5 746.3,326.7 759,328 771.7,329.1 784.5,330.2 797.2,331.3 810,332.3 822.7,333.2"/>
<polyline points="453.3,268.5 466.1,270.8 478.8,273.1 491.5,275.4 504.3,277.6 517,279.7 529.8,281.8 542.5,283.8 555.3,285.8 568,287.7 580.7,289.6 593.5,291.4 606.2,293.2 619,294.9 631.7,296.5 644.5,298.1 657.2,299.7 669.9,301.2 682.7,302.6 695.4,304 708.2,305.4 720.9,306.6 733.7,307.9 746.4,309 759.1,310.2 771.9,311.2 784.6,312.2 797.4,313.2 810.1,314.1 822.8,315 835.6,315.8"/>
<polyline points="466.2,252.8 478.9,255.1 491.7,257.4 504.4,259.6 517.2,261.7 529.9,263.8 542.7,265.9 555.4,267.9 568.1,269.8 580.9,271.6 593.6,273.4 606.4,275.2 619.1,276.9 631.9,278.5 644.6,280 657.3,281.6 670.1,283 682.8,284.4 695.6,285.7 708.3,287 721.1,288.2 733.8,289.4 746.5,290.5 759.3,291.5 772,292.5 784.8,293.4 797.5,294.3 810.3,295.1 823,295.8 835.7,296.5 848.5,297.2"/>
<polyline points="479.1,236.1 491.8,238.4 504.6,240.6 517.3,242.8 530.1,244.9 542.8,247 555.5,249 568.3,250.9 581,252.7 593.8,254.5 606.5,256.2 619.3,257.9 632,259.5 644.7,261 657.5,262.5 670.2,263.9 683,265.2 695.7,266.5 708.5,267.7 721.2,268.9 733.9,270 746.7,271 759.4,271.9 772.2,272.8 784.9,273.7 797.7,274.4 810.4,275.1 823.1,275.8 835.9,276.4 848.6,276.9 861.4,277.3"/>
<polyline points="492,218.4 504.7,220.7 517.5,222.9 530.2,225 542.9,227 555.7,229 568.4,231 581.2,232.8 593.9,234.6 606.7,236.3 619.4,237.9 632.1,239.5 644.9,241 657.6,242.5 670.4,243.8 683.1,245.1 695.9,246.3 708.6,247.5 721.3,248.6 734.1,249.6 746.8,250.5 759.6,251.4 772.3,252.2 785.1,252.9 797.8,253.6 810.5,254.2 823.3,254.7 836,255.2 848.8,255.6 861.5,255.9 874.2,256.2"/>
<polyline points="504.9,199.5 517.6,201.8 530.3,203.9 543.1,206 555.8,208 568.6,210 581.3,211.8 594.1,213.6 606.8,215.3 619.5,216.9 632.3,218.5 645,219.9 657.8,221.3 670.5,222.7 683.3,223.9 696,225.1 708.7,226.2 721.5,227.2 734.2,228.1 747,229 759.7,229.8 772.5,230.5 785.2,231.2 797.9,231.7 810.7,232.2 823.4,232.6 836.2,233 848.9,233.2 861.7,233.4 874.4,233.5 887.1,233.6"/>
<polyline points="517.8,179.5 530.5,181.7 543.2,183.8 556,185.8 568.7,187.8 581.5,189.6 594.2,191.4 606.9,193.1 619.7,194.7 632.4,196.3 645.2,197.7 657.9,199.1 670.7,200.4 683.4,201.6 696.1,202.7 708.9,203.7 721.6,204.7 734.4,205.6 747.1,206.4 759.9,207.1 772.6,207.7 785.3,208.3 798.1,208.7 810.8,209.1 823.6,209.4 836.3,209.6 849.1,209.7 861.8,209.8 874.5,209.8 887.3,209.7 900,209.5"/>
<polyline points="530.6,158.1 543.4,160.3 556.1,162.3 568.9,164.3 581.6,166.2 594.3,168 607.1,169.7 619.8,171.3 632.6,172.8 645.3,174.3 658.1,175.6 670.8,176.9 683.5,178 696.3,179.1 709,180.1 721.8,181 734.5,181.8 747.3,182.5 760,183.1 772.7,183.7 785.5,184.1 798.2,184.5 811,184.8 823.7,184.9 836.5,185 849.2,185 861.9,184.9 874.7,184.8 887.4,184.5 900.2,184.1 912.9,183.7"/>
</g>
<line class="ax2" x1="114.5" y1="497.3" x2="114.5" y2="70.5"/>
<line class="ax2" x1="936.5" y1="497.3" x2="936.5" y2="70.5"/>
<line class="ax" x1="114.5" y1="70.5" x2="525.5" y2="0.1"/>
<line class="ax" x1="525.5" y1="0.1" x2="936.5" y2="70.5"/>
<line class="ax" x1="114.5" y1="497.3" x2="525.5" y2="569.6"/>
<line class="ax" x1="525.5" y1="569.6" x2="936.5" y2="497.3"/>
<line class="ax" x1="129.6" y1="499.9" x2="129.6" y2="510.9"/>
<line class="ax" x1="224.9" y1="516.7" x2="224.9" y2="527.7"/>
<line class="ax" x1="320.2" y1="533.5" x2="320.2" y2="544.5"/>
<line class="ax" x1="415.5" y1="550.2" x2="415.5" y2="561.2"/>
<line class="ax" x1="510.8" y1="567" x2="510.8" y2="578"/>
<line class="ax" x1="544.5" y1="566.3" x2="544.5" y2="577.3"/>
<line class="ax" x1="668.8" y1="544.4" x2="668.8" y2="555.4"/>
<line class="ax" x1="793.1" y1="522.5" x2="793.1" y2="533.5"/>
<line class="ax" x1="917.4" y1="500.7" x2="917.4" y2="511.7"/>
<line class="ax" x1="114.5" y1="497.3" x2="104" y2="495.5"/>
<line class="ax" x1="114.5" y1="411.9" x2="104" y2="410.1"/>
<line class="ax" x1="114.5" y1="326.6" x2="104" y2="324.8"/>
<line class="ax" x1="114.5" y1="241.2" x2="104" y2="239.4"/>
<line class="ax" x1="114.5" y1="155.9" x2="104" y2="154.1"/>
<line class="ax" x1="114.5" y1="70.5" x2="104" y2="68.7"/>
<circle class="p" cx="144" cy="471" r="6.0"/>
<path class="ph" d="M160.8 462.3 A6.0 6.0 0 0 0 149.6 466.7 Z"/>
<path class="ph" d="M165.9 462.9 A6.0 6.0 0 1 0 159.3 465.6 Z"/>
<path class="ph" d="M167.0 460.9 A6.0 6.0 0 0 0 159.1 464.1 Z"/>
<path class="ph" d="M178.1 458.3 A6.0 6.0 0 0 0 167.9 462.4 Z"/>
<path class="ph" d="M182.2 458.5 A6.0 6.0 0 1 0 173.3 462.1 Z"/>
<path class="ph" d="M193.9 454.2 A6.0 6.0 0 0 0 184.3 458.1 Z"/>
<path class="ph" d="M206.3 449.2 A6.0 6.0 0 0 0 195.1 453.6 Z"/>
<path class="ph" d="M224.9 443.6 A6.0 6.0 0 0 0 213.7 448.0 Z"/>
<path class="ph" d="M235.6 435.7 A6.0 6.0 0 0 0 229.0 438.4 Z"/>
<circle class="p" cx="250.9" cy="481.6" r="6.0"/>
<path class="ph" d="M271.4 480.0 A6.0 6.0 0 1 0 263.5 483.2 Z"/>
<line class="st" x1="271.4" y1="464.2" x2="271.4" y2="473.5"/>
<circle class="p" cx="271.4" cy="464.2" r="6.0"/>
<path class="ph" d="M280.2 472.2 A6.0 6.0 0 0 0 271.3 475.8 Z"/>
<circle class="p" cx="285.8" cy="469.2" r="6.0"/>
<circle class="p" cx="290.8" cy="467.3" r="6.0"/>
<path class="ph" d="M311.6 462.2 A6.0 6.0 0 0 0 300.7 466.6 Z"/>
<circle class="p" cx="319.1" cy="453.9" r="6.0"/>
<path class="ph" d="M335.6 454.6 A6.0 6.0 0 0 0 324.5 459.1 Z"/>
<path class="ph" d="M343.1 449.1 A6.0 6.0 0 0 0 336.5 451.8 Z"/>
<circle class="p" cx="359.5" cy="434.6" r="6.0"/>
<circle class="p" cx="364" cy="492.2" r="6.0"/>
<path class="ph" d="M384.2 488.5 A6.0 6.0 0 0 0 377.6 491.2 Z"/>
<line class="st" x1="389.6" y1="459.5" x2="389.6" y2="487.2"/>
<circle class="p" cx="389.6" cy="459.5" r="6.0"/>
<path class="ph" d="M400.9 487.5 A6.0 6.0 0 1 0 394.3 490.2 Z"/>
<circle class="p" cx="407.9" cy="472.8" r="6.0"/>
<path class="ph" d="M414.5 475.8 A6.0 6.0 0 0 0 407.9 478.5 Z"/>
<path class="ph" d="M434.0 473.7 A6.0 6.0 0 0 0 429.2 475.7 Z"/>
<path class="ph" d="M454.4 457.9 A6.0 6.0 0 0 0 443.3 462.4 Z"/>
<path class="ph" d="M468.6 449.3 A6.0 6.0 0 0 0 457.7 453.7 Z"/>
<path class="ph" d="M477.5 448.9 A6.0 6.0 0 0 0 472.7 450.9 Z"/>
<line class="st" x1="488.7" y1="495.6" x2="488.7" y2="504"/>
<circle class="p" cx="488.7" cy="495.6" r="6.0"/>
<circle class="p" cx="499.5" cy="424" r="6.0"/>
<circle class="p" cx="513.6" cy="491.5" r="6.0"/>
<line class="st" x1="522.7" y1="417.1" x2="522.7" y2="488.1"/>
<circle class="p" cx="522.7" cy="417.1" r="6.0"/>
<path class="ph" d="M536.5 487.4 A6.0 6.0 0 0 0 525.3 491.8 Z"/>
<line class="st" x1="547.2" y1="466.3" x2="547.2" y2="475"/>
<circle class="p" cx="547.2" cy="466.3" r="6.0"/>
<line class="st" x1="553.7" y1="460.1" x2="553.7" y2="471.3"/>
<circle class="p" cx="553.7" cy="460.1" r="6.0"/>
<path class="ph" d="M581.7 450.0 A6.0 6.0 0 0 0 576.9 452.0 Z"/>
<line class="st" x1="669.4" y1="350.5" x2="669.4" y2="386.9"/>
<circle class="p" cx="669.4" cy="350.5" r="6.0"/>
<line class="st" x1="693.4" y1="333.6" x2="693.4" y2="458.9"/>
<circle class="p" cx="693.4" cy="333.6" r="6.0"/>
<circle class="p" cx="781.2" cy="383.4" r="6.0"/>
<line class="st" x1="739.7" y1="404" x2="739.7" y2="422.4"/>
<circle class="p" cx="739.7" cy="404" r="6.0"/>
<line class="st" x1="730.4" y1="414.3" x2="730.4" y2="430"/>
<circle class="p" cx="730.4" cy="414.3" r="6.0"/>
<line class="st" x1="812.6" y1="346" x2="812.6" y2="390.3"/>
<circle class="p" cx="812.6" cy="390.3" r="6.0"/>
<circle class="p" cx="621.8" cy="422.8" r="6.0"/>
<circle class="p" cx="602.1" cy="440.6" r="6.0"/>
<path class="ph" d="M639.6 437.6 A6.0 6.0 0 0 0 634.8 439.6 Z"/>
<circle class="p" cx="642.5" cy="493.5" r="6.0"/>
<line class="st" x1="679.7" y1="469.2" x2="679.7" y2="495.9"/>
<circle class="p" cx="679.7" cy="495.9" r="6.0"/>
<line class="st" x1="705.1" y1="449.5" x2="705.1" y2="488.2"/>
<circle class="p" cx="705.1" cy="488.2" r="6.0"/>
<line class="st" x1="706.4" y1="449.5" x2="706.4" y2="500"/>
<circle class="p" cx="706.4" cy="500" r="6.0"/>
<line class="st" x1="841.9" y1="251.8" x2="841.9" y2="306.5"/>
<circle class="p" cx="841.9" cy="251.8" r="6.0"/>
<line class="st" x1="868.3" y1="266.7" x2="868.3" y2="381.9"/>
<circle class="p" cx="868.3" cy="381.9" r="6.0"/>
<line class="st" x1="913.7" y1="128.8" x2="913.7" y2="183.3"/>
<circle class="p" cx="913.7" cy="128.8" r="6.0"/>
<line class="g" x1="1097.5" y1="500.8" x2="1507" y2="430.8"/>
<line class="g" x1="1507" y1="430.8" x2="1507" y2="3.8"/>
<line class="g" x1="1193.2" y1="517.4" x2="1602.9" y2="447.1"/>
<line class="g" x1="1602.9" y1="447.1" x2="1602.9" y2="20.1"/>
<line class="g" x1="1289" y1="534" x2="1698.7" y2="463.3"/>
<line class="g" x1="1698.7" y1="463.3" x2="1698.7" y2="36.3"/>
<line class="g" x1="1384.7" y1="550.6" x2="1794.5" y2="479.6"/>
<line class="g" x1="1794.5" y1="479.6" x2="1794.5" y2="52.6"/>
<line class="g" x1="1480.4" y1="567.3" x2="1890.4" y2="495.8"/>
<line class="g" x1="1890.4" y1="495.8" x2="1890.4" y2="68.8"/>
<line class="g" x1="1101.7" y1="495.2" x2="1513.4" y2="566.6"/>
<line class="g" x1="1101.7" y1="495.2" x2="1101.7" y2="68.2"/>
<line class="g" x1="1225.5" y1="474" x2="1637.4" y2="545"/>
<line class="g" x1="1225.5" y1="474" x2="1225.5" y2="47"/>
<line class="g" x1="1349.4" y1="452.9" x2="1761.4" y2="523.3"/>
<line class="g" x1="1349.4" y1="452.9" x2="1349.4" y2="25.9"/>
<line class="g" x1="1473.2" y1="431.7" x2="1885.4" y2="501.7"/>
<line class="g" x1="1473.2" y1="431.7" x2="1473.2" y2="4.7"/>
<line class="g" x1="1083.3" y1="356" x2="1492.8" y2="286.1"/>
<line class="g" x1="1492.8" y1="286.1" x2="1905" y2="356"/>
<line class="g" x1="1083.3" y1="213.6" x2="1492.8" y2="143.7"/>
<line class="g" x1="1492.8" y1="143.7" x2="1905" y2="213.6"/>
<line class="g" x1="1083.3" y1="498.3" x2="1492.8" y2="428.4"/>
<line class="g" x1="1492.8" y1="428.4" x2="1905" y2="498.3"/>
<line class="bk" x1="1492.8" y1="428.4" x2="1492.8" y2="1.4"/>
<line class="st" x1="1150.4" y1="415" x2="1150.4" y2="438.8"/>
<circle class="p" cx="1150.4" cy="438.8" r="6.0"/>
<line class="st" x1="1312.1" y1="260" x2="1312.1" y2="268.2"/>
<circle class="p" cx="1312.1" cy="268.2" r="6.0"/>
<circle class="p" cx="1338.9" cy="215.2" r="6.0"/>
<circle class="p" cx="1379.4" cy="293.5" r="6.0"/>
<line class="st" x1="1487.2" y1="176" x2="1487.2" y2="190.5"/>
<circle class="p" cx="1487.2" cy="190.5" r="6.0"/>
<circle class="p" cx="1495.7" cy="174.6" r="6.0"/>
<line class="st" x1="1505.1" y1="160" x2="1505.1" y2="165.3"/>
<circle class="p" cx="1505.1" cy="165.3" r="6.0"/>
<line class="st" x1="1519.5" y1="259.2" x2="1519.5" y2="275"/>
<circle class="p" cx="1519.5" cy="275" r="6.0"/>
<line class="st" x1="1542" y1="235.8" x2="1542" y2="249.8"/>
<circle class="p" cx="1542" cy="249.8" r="6.0"/>
<line class="st" x1="1569.8" y1="206.8" x2="1569.8" y2="219"/>
<circle class="p" cx="1569.8" cy="219" r="6.0"/>
<line class="st" x1="1585.3" y1="190" x2="1585.3" y2="203.6"/>
<circle class="p" cx="1585.3" cy="203.6" r="6.0"/>
<line class="st" x1="1605.5" y1="168.5" x2="1605.5" y2="180.7"/>
<circle class="p" cx="1605.5" cy="180.7" r="6.0"/>
<line class="st" x1="1610.6" y1="163.8" x2="1610.6" y2="186.3"/>
<circle class="p" cx="1610.6" cy="186.3" r="6.0"/>
<line class="st" x1="1622.7" y1="155" x2="1622.7" y2="181.6"/>
<circle class="p" cx="1622.7" cy="181.6" r="6.0"/>
<circle class="p" cx="1629.3" cy="160.1" r="6.0"/>
<line class="st" x1="1636" y1="137.7" x2="1636" y2="165.3"/>
<circle class="p" cx="1636" cy="165.3" r="6.0"/>
<line class="st" x1="1659.7" y1="227.4" x2="1659.7" y2="247.9"/>
<circle class="p" cx="1659.7" cy="247.9" r="6.0"/>
<line class="st" x1="1677.5" y1="208.7" x2="1677.5" y2="236.4"/>
<circle class="p" cx="1677.5" cy="236.4" r="6.0"/>
<line class="st" x1="1687.8" y1="196" x2="1687.8" y2="206.2"/>
<circle class="p" cx="1687.8" cy="206.2" r="6.0"/>
<line class="st" x1="1699.9" y1="185" x2="1699.9" y2="208"/>
<circle class="p" cx="1699.9" cy="208" r="6.0"/>
<line class="st" x1="1712.4" y1="173.5" x2="1712.4" y2="199.2"/>
<circle class="p" cx="1712.4" cy="199.2" r="6.0"/>
<line class="st" x1="1728.6" y1="156" x2="1728.6" y2="177.7"/>
<circle class="p" cx="1728.6" cy="177.7" r="6.0"/>
<line class="st" x1="1733.1" y1="152.3" x2="1733.1" y2="179.7"/>
<circle class="p" cx="1733.1" cy="179.7" r="6.0"/>
<line class="st" x1="1742.3" y1="147.3" x2="1742.3" y2="179.7"/>
<circle class="p" cx="1742.3" cy="179.7" r="6.0"/>
<circle class="p" cx="1742.8" cy="142.9" r="6.0"/>
<circle class="p" cx="1747.3" cy="157.8" r="6.0"/>
<line class="st" x1="1753" y1="131.1" x2="1753" y2="165.5"/>
<circle class="p" cx="1753" cy="165.5" r="6.0"/>
<line class="st" x1="1768" y1="117" x2="1768" y2="126.7"/>
<circle class="p" cx="1768" cy="126.7" r="6.0"/>
<defs><linearGradient id="s31" gradientUnits="userSpaceOnUse" x1="1111.8" y1="462" x2="1180.4" y2="10.5"><stop offset="0.000" stop-color="#000afa"/><stop offset="0.062" stop-color="#0019f2"/><stop offset="0.125" stop-color="#0028eb"/><stop offset="0.187" stop-color="#0036e4"/><stop offset="0.250" stop-color="#0045dd"/><stop offset="0.312" stop-color="#0054d5"/><stop offset="0.375" stop-color="#0062ce"/><stop offset="0.437" stop-color="#0071c7"/><stop offset="0.500" stop-color="#0080bf"/><stop offset="0.563" stop-color="#008eb8"/><stop offset="0.625" stop-color="#009db1"/><stop offset="0.688" stop-color="#00aba9"/><stop offset="0.750" stop-color="#00baa2"/><stop offset="0.813" stop-color="#00c99b"/><stop offset="0.875" stop-color="#00d793"/><stop offset="0.938" stop-color="#00e68c"/><stop offset="1.000" stop-color="#00f585"/></linearGradient><linearGradient id="s32" gradientUnits="userSpaceOnUse" x1="1123.8" y1="463.8" x2="1192.1" y2="12.5"><stop offset="0.000" stop-color="#000bfa"/><stop offset="0.063" stop-color="#0019f2"/><stop offset="0.125" stop-color="#0028eb"/><stop offset="0.187" stop-color="#0037e4"/><stop offset="0.250" stop-color="#0045dc"/><stop offset="0.313" stop-color="#0054d5"/><stop offset="0.375" stop-color="#0062ce"/><stop offset="0.438" stop-color="#0071c6"/><stop offset="0.500" stop-color="#0080bf"/><stop offset="0.562" stop-color="#008eb8"/><stop offset="0.625" stop-color="#009db1"/><stop offset="0.688" stop-color="#00aca9"/><stop offset="0.750" stop-color="#00baa2"/><stop offset="0.813" stop-color="#00c99b"/><stop offset="0.875" stop-color="#00d893"/><stop offset="0.938" stop-color="#00e68c"/><stop offset="1.000" stop-color="#00f585"/></linearGradient><linearGradient id="s33" gradientUnits="userSpaceOnUse" x1="1135.8" y1="465.4" x2="1203.7" y2="14.6"><stop offset="0.000" stop-color="#000bfa"/><stop offset="0.063" stop-color="#001af2"/><stop offset="0.125" stop-color="#0028eb"/><stop offset="0.187" stop-color="#0037e4"/><stop offset="0.250" stop-color="#0045dc"/><stop offset="0.313" stop-color="#0054d5"/><stop offset="0.375" stop-color="#0063ce"/><stop offset="0.437" stop-color="#0071c6"/><stop offset="0.500" stop-color="#0080bf"/><stop offset="0.563" stop-color="#008fb8"/><stop offset="0.625" stop-color="#009db0"/><stop offset="0.687" stop-color="#00aca9"/><stop offset="0.750" stop-color="#00baa2"/><stop offset="0.813" stop-color="#00c99a"/><stop offset="0.875" stop-color="#00d893"/><stop offset="0.937" stop-color="#00e68c"/><stop offset="1.000" stop-color="#00f585"/></linearGradient><linearGradient id="s34" gradientUnits="userSpaceOnUse" x1="1147.8" y1="467" x2="1215.9" y2="16.5"><stop offset="0.000" stop-color="#000bf9"/><stop offset="0.063" stop-color="#001af2"/><stop offset="0.125" stop-color="#0028eb"/><stop offset="0.188" stop-color="#0037e3"/><stop offset="0.250" stop-color="#0046dc"/><stop offset="0.313" stop-color="#0054d5"/><stop offset="0.375" stop-color="#0063ce"/><stop offset="0.437" stop-color="#0071c6"/><stop offset="0.500" stop-color="#0080bf"/><stop offset="0.563" stop-color="#008fb8"/><stop offset="0.625" stop-color="#009db0"/><stop offset="0.688" stop-color="#00aca9"/><stop offset="0.750" stop-color="#00bba2"/><stop offset="0.813" stop-color="#00c99a"/><stop offset="0.875" stop-color="#00d893"/><stop offset="0.938" stop-color="#00e68c"/><stop offset="1.000" stop-color="#00f585"/></linearGradient><linearGradient id="s35" gradientUnits="userSpaceOnUse" x1="1159.8" y1="468.8" x2="1227.7" y2="18.5"><stop offset="0.000" stop-color="#000cf9"/><stop offset="0.063" stop-color="#001af2"/><stop offset="0.125" stop-color="#0029eb"/><stop offset="0.188" stop-color="#0037e3"/><stop offset="0.250" stop-color="#0046dc"/><stop offset="0.313" stop-color="#0055d5"/><stop offset="0.375" stop-color="#0063cd"/><stop offset="0.437" stop-color="#0072c6"/><stop offset="0.500" stop-color="#0080bf"/><stop offset="0.563" stop-color="#008fb8"/><stop offset="0.625" stop-color="#009db0"/><stop offset="0.688" stop-color="#00aca9"/><stop offset="0.750" stop-color="#00bba2"/><stop offset="0.813" stop-color="#00c99a"/><stop offset="0.875" stop-color="#00d893"/><stop offset="0.938" stop-color="#00e68c"/><stop offset="1.000" stop-color="#00f584"/></linearGradient><linearGradient id="s36" gradientUnits="userSpaceOnUse" x1="1171.8" y1="470.4" x2="1240.1" y2="20.3"><stop offset="0.000" stop-color="#000cf9"/><stop offset="0.063" stop-color="#001af2"/><stop offset="0.125" stop-color="#0029eb"/><stop offset="0.188" stop-color="#0038e3"/><stop offset="0.250" stop-color="#0046dc"/><stop offset="0.312" stop-color="#0055d5"/><stop offset="0.375" stop-color="#0063cd"/><stop offset="0.437" stop-color="#0072c6"/><stop offset="0.500" stop-color="#0080bf"/><stop offset="0.563" stop-color="#008fb7"/><stop offset="0.625" stop-color="#009eb0"/><stop offset="0.688" stop-color="#00aca9"/><stop offset="0.750" stop-color="#00bba2"/><stop offset="0.812" stop-color="#00c99a"/><stop offset="0.875" stop-color="#00d893"/><stop offset="0.937" stop-color="#00e78c"/><stop offset="1.000" stop-color="#00f584"/></linearGradient><linearGradient id="s37" gradientUnits="userSpaceOnUse" x1="1183.9" y1="472" x2="1251.9" y2="22.4"><stop offset="0.000" stop-color="#000cf9"/><stop offset="0.062" stop-color="#001bf2"/><stop offset="0.125" stop-color="#0029ea"/><stop offset="0.187" stop-color="#0038e3"/><stop offset="0.250" stop-color="#0046dc"/><stop offset="0.312" stop-color="#0055d5"/><stop offset="0.375" stop-color="#0064cd"/><stop offset="0.437" stop-color="#0072c6"/><stop offset="0.500" stop-color="#0081bf"/><stop offset="0.563" stop-color="#008fb7"/><stop offset="0.625" stop-color="#009eb0"/><stop offset="0.687" stop-color="#00aca9"/><stop offset="0.750" stop-color="#00bba2"/><stop offset="0.812" stop-color="#00ca9a"/><stop offset="0.875" stop-color="#00d893"/><stop offset="0.938" stop-color="#00e78c"/><stop offset="1.000" stop-color="#00f584"/></linearGradient><linearGradient id="s38" gradientUnits="userSpaceOnUse" x1="1195.9" y1="473.7" x2="1263.4" y2="24.5"><stop offset="0.000" stop-color="#000cf9"/><stop offset="0.062" stop-color="#001bf2"/><stop offset="0.125" stop-color="#002aea"/><stop offset="0.187" stop-color="#0038e3"/><stop offset="0.250" stop-color="#0047dc"/><stop offset="0.312" stop-color="#0055d4"/><stop offset="0.375" stop-color="#0064cd"/><stop offset="0.437" stop-color="#0072c6"/><stop offset="0.500" stop-color="#0081bf"/><stop offset="0.562" stop-color="#008fb7"/><stop offset="0.625" stop-color="#009eb0"/><stop offset="0.688" stop-color="#00ada9"/><stop offset="0.750" stop-color="#00bba1"/><stop offset="0.812" stop-color="#00ca9a"/><stop offset="0.875" stop-color="#00d893"/><stop offset="0.937" stop-color="#00e78c"/><stop offset="1.000" stop-color="#00f584"/></linearGradient><linearGradient id="s39" gradientUnits="userSpaceOnUse" x1="1207.9" y1="475.4" x2="1275.7" y2="26.3"><stop offset="0.000" stop-color="#000df9"/><stop offset="0.062" stop-color="#001bf1"/><stop offset="0.125" stop-color="#002aea"/><stop offset="0.187" stop-color="#0038e3"/><stop offset="0.250" stop-color="#0047dc"/><stop offset="0.312" stop-color="#0055d4"/><stop offset="0.375" stop-color="#0064cd"/><stop offset="0.437" stop-color="#0073c6"/><stop offset="0.500" stop-color="#0081be"/><stop offset="0.563" stop-color="#0090b7"/><stop offset="0.625" stop-color="#009eb0"/><stop offset="0.688" stop-color="#00ada9"/><stop offset="0.750" stop-color="#00bba1"/><stop offset="0.812" stop-color="#00ca9a"/><stop offset="0.875" stop-color="#00d893"/><stop offset="0.937" stop-color="#00e78c"/><stop offset="1.000" stop-color="#00f584"/></linearGradient><linearGradient id="s40" gradientUnits="userSpaceOnUse" x1="1219.9" y1="477" x2="1287.7" y2="28.3"><stop offset="0.000" stop-color="#000df8"/><stop offset="0.063" stop-color="#001cf1"/><stop offset="0.125" stop-color="#002aea"/><stop offset="0.188" stop-color="#0039e3"/><stop offset="0.250" stop-color="#0047db"/><stop offset="0.313" stop-color="#0056d4"/><stop offset="0.375" stop-color="#0064cd"/><stop offset="0.437" stop-color="#0073c6"/><stop offset="0.500" stop-color="#0081be"/><stop offset="0.563" stop-color="#0090b7"/><stop offset="0.625" stop-color="#009eb0"/><stop offset="0.688" stop-color="#00ada9"/><stop offset="0.750" stop-color="#00bba1"/><stop offset="0.813" stop-color="#00ca9a"/><stop offset="0.875" stop-color="#00d893"/><stop offset="0.938" stop-color="#00e78c"/><stop offset="1.000" stop-color="#00f584"/></linearGradient><linearGradient id="s41" gradientUnits="userSpaceOnUse" x1="1231.9" y1="478.7" x2="1299.6" y2="30.3"><stop offset="0.000" stop-color="#000df8"/><stop offset="0.063" stop-color="#001cf1"/><stop offset="0.125" stop-color="#002aea"/><stop offset="0.188" stop-color="#0039e3"/><stop offset="0.250" stop-color="#0047db"/><stop offset="0.313" stop-color="#0056d4"/><stop offset="0.375" stop-color="#0064cd"/><stop offset="0.437" stop-color="#0073c6"/><stop offset="0.500" stop-color="#0081be"/><stop offset="0.562" stop-color="#0090b7"/><stop offset="0.625" stop-color="#009eb0"/><stop offset="0.688" stop-color="#00ada9"/><stop offset="0.750" stop-color="#00bba1"/><stop offset="0.813" stop-color="#00ca9a"/><stop offset="0.875" stop-color="#00d993"/><stop offset="0.938" stop-color="#00e78b"/><stop offset="1.000" stop-color="#00f684"/></linearGradient><linearGradient id="s42" gradientUnits="userSpaceOnUse" x1="1243.9" y1="480.4" x2="1311.7" y2="32.1"><stop offset="0.000" stop-color="#000ef8"/><stop offset="0.062" stop-color="#001cf1"/><stop offset="0.125" stop-color="#002bea"/><stop offset="0.187" stop-color="#0039e2"/><stop offset="0.250" stop-color="#0048db"/><stop offset="0.312" stop-color="#0056d4"/><stop offset="0.375" stop-color="#0065cd"/><stop offset="0.437" stop-color="#0073c5"/><stop offset="0.500" stop-color="#0082be"/><stop offset="0.563" stop-color="#0090b7"/><stop offset="0.625" stop-color="#009fb0"/><stop offset="0.688" stop-color="#00ada8"/><stop offset="0.750" stop-color="#00bca1"/><stop offset="0.813" stop-color="#00ca9a"/><stop offset="0.875" stop-color="#00d993"/><stop offset="0.938" stop-color="#00e78b"/><stop offset="1.000" stop-color="#00f684"/></linearGradient><linearGradient id="s43" gradientUnits="userSpaceOnUse" x1="1256" y1="482" x2="1323.6" y2="34.2"><stop offset="0.000" stop-color="#000ef8"/><stop offset="0.063" stop-color="#001cf1"/><stop offset="0.125" stop-color="#002bea"/><stop offset="0.188" stop-color="#0039e2"/><stop offset="0.250" stop-color="#0048db"/><stop offset="0.313" stop-color="#0056d4"/><stop offset="0.375" stop-color="#0065cd"/><stop offset="0.438" stop-color="#0073c5"/><stop offset="0.500" stop-color="#0082be"/><stop offset="0.563" stop-color="#0090b7"/><stop offset="0.625" stop-color="#009fb0"/><stop offset="0.688" stop-color="#00ada8"/><stop offset="0.750" stop-color="#00bca1"/><stop offset="0.813" stop-color="#00ca9a"/><stop offset="0.875" stop-color="#00d993"/><stop offset="0.938" stop-color="#00e78b"/><stop offset="1.000" stop-color="#00f684"/></linearGradient><linearGradient id="s44" gradientUnits="userSpaceOnUse" x1="1268" y1="483.7" x2="1335.5" y2="36.2"><stop offset="0.000" stop-color="#000ef8"/><stop offset="0.062" stop-color="#001df1"/><stop offset="0.125" stop-color="#002be9"/><stop offset="0.188" stop-color="#003ae2"/><stop offset="0.250" stop-color="#0048db"/><stop offset="0.312" stop-color="#0057d4"/><stop offset="0.375" stop-color="#0065cc"/><stop offset="0.438" stop-color="#0074c5"/><stop offset="0.500" stop-color="#0082be"/><stop offset="0.562" stop-color="#0090b7"/><stop offset="0.625" stop-color="#009fb0"/><stop offset="0.687" stop-color="#00ada8"/><stop offset="0.750" stop-color="#00bca1"/><stop offset="0.813" stop-color="#00ca9a"/><stop offset="0.875" stop-color="#00d993"/><stop offset="0.938" stop-color="#00e78b"/><stop offset="1.000" stop-color="#00f684"/></linearGradient><linearGradient id="s45" gradientUnits="userSpaceOnUse" x1="1280" y1="485.4" x2="1347.7" y2="38"><stop offset="0.000" stop-color="#000ef8"/><stop offset="0.062" stop-color="#001df1"/><stop offset="0.125" stop-color="#002be9"/><stop offset="0.188" stop-color="#003ae2"/><stop offset="0.250" stop-color="#0048db"/><stop offset="0.312" stop-color="#0057d4"/><stop offset="0.375" stop-color="#0065cc"/><stop offset="0.438" stop-color="#0074c5"/><stop offset="0.500" stop-color="#0082be"/><stop offset="0.563" stop-color="#0091b7"/><stop offset="0.625" stop-color="#009faf"/><stop offset="0.687" stop-color="#00aea8"/><stop offset="0.750" stop-color="#00bca1"/><stop offset="0.813" stop-color="#00ca9a"/><stop offset="0.875" stop-color="#00d993"/><stop offset="0.938" stop-color="#00e78b"/><stop offset="1.000" stop-color="#00f684"/></linearGradient><linearGradient id="s46" gradientUnits="userSpaceOnUse" x1="1292" y1="487" x2="1359.5" y2="40"><stop offset="0.000" stop-color="#000ff8"/><stop offset="0.063" stop-color="#001df0"/><stop offset="0.125" stop-color="#002ce9"/><stop offset="0.188" stop-color="#003ae2"/><stop offset="0.250" stop-color="#0049db"/><stop offset="0.313" stop-color="#0057d3"/><stop offset="0.375" stop-color="#0065cc"/><stop offset="0.438" stop-color="#0074c5"/><stop offset="0.500" stop-color="#0082be"/><stop offset="0.563" stop-color="#0091b7"/><stop offset="0.625" stop-color="#009faf"/><stop offset="0.688" stop-color="#00aea8"/><stop offset="0.750" stop-color="#00bca1"/><stop offset="0.813" stop-color="#00cb9a"/><stop offset="0.875" stop-color="#00d992"/><stop offset="0.938" stop-color="#00e88b"/><stop offset="1.000" stop-color="#00f684"/></linearGradient><linearGradient id="s47" gradientUnits="userSpaceOnUse" x1="1304" y1="488.7" x2="1371.4" y2="42.1"><stop offset="0.000" stop-color="#000ff7"/><stop offset="0.063" stop-color="#001ef0"/><stop offset="0.125" stop-color="#002ce9"/><stop offset="0.187" stop-color="#003ae2"/><stop offset="0.250" stop-color="#0049db"/><stop offset="0.312" stop-color="#0057d3"/><stop offset="0.375" stop-color="#0066cc"/><stop offset="0.438" stop-color="#0074c5"/><stop offset="0.500" stop-color="#0083be"/><stop offset="0.563" stop-color="#0091b7"/><stop offset="0.625" stop-color="#009faf"/><stop offset="0.688" stop-color="#00aea8"/><stop offset="0.750" stop-color="#00bca1"/><stop offset="0.813" stop-color="#00cb9a"/><stop offset="0.875" stop-color="#00d992"/><stop offset="0.938" stop-color="#00e88b"/><stop offset="1.000" stop-color="#00f684"/></linearGradient><linearGradient id="s48" gradientUnits="userSpaceOnUse" x1="1316" y1="490.4" x2="1383.6" y2="43.9"><stop offset="0.000" stop-color="#000ff7"/><stop offset="0.063" stop-color="#001ef0"/><stop offset="0.125" stop-color="#002ce9"/><stop offset="0.187" stop-color="#003be2"/><stop offset="0.250" stop-color="#0049da"/><stop offset="0.312" stop-color="#0057d3"/><stop offset="0.375" stop-color="#0066cc"/><stop offset="0.438" stop-color="#0074c5"/><stop offset="0.500" stop-color="#0083be"/><stop offset="0.563" stop-color="#0091b6"/><stop offset="0.625" stop-color="#00a0af"/><stop offset="0.687" stop-color="#00aea8"/><stop offset="0.750" stop-color="#00bca1"/><stop offset="0.812" stop-color="#00cb9a"/><stop offset="0.875" stop-color="#00d992"/><stop offset="0.938" stop-color="#00e88b"/><stop offset="1.000" stop-color="#00f684"/></linearGradient><linearGradient id="s49" gradientUnits="userSpaceOnUse" x1="1328" y1="492" x2="1395.2" y2="46"><stop offset="0.000" stop-color="#0010f7"/><stop offset="0.062" stop-color="#001ef0"/><stop offset="0.125" stop-color="#002ce9"/><stop offset="0.188" stop-color="#003be2"/><stop offset="0.250" stop-color="#0049da"/><stop offset="0.312" stop-color="#0058d3"/><stop offset="0.375" stop-color="#0066cc"/><stop offset="0.438" stop-color="#0075c5"/><stop offset="0.500" stop-color="#0083be"/><stop offset="0.562" stop-color="#0091b6"/><stop offset="0.625" stop-color="#00a0af"/><stop offset="0.687" stop-color="#00aea8"/><stop offset="0.750" stop-color="#00bda1"/><stop offset="0.812" stop-color="#00cb9a"/><stop offset="0.875" stop-color="#00d992"/><stop offset="0.937" stop-color="#00e88b"/><stop offset="1.000" stop-color="#00f684"/></linearGradient><linearGradient id="s50" gradientUnits="userSpaceOnUse" x1="1340" y1="493.6" x2="1407.5" y2="47.7"><stop offset="0.000" stop-color="#0010f7"/><stop offset="0.062" stop-color="#001ef0"/><stop offset="0.125" stop-color="#002de9"/><stop offset="0.188" stop-color="#003be1"/><stop offset="0.250" stop-color="#004ada"/><stop offset="0.312" stop-color="#0058d3"/><stop offset="0.375" stop-color="#0066cc"/><stop offset="0.437" stop-color="#0075c5"/><stop offset="0.500" stop-color="#0083bd"/><stop offset="0.562" stop-color="#0092b6"/><stop offset="0.625" stop-color="#00a0af"/><stop offset="0.687" stop-color="#00aea8"/><stop offset="0.750" stop-color="#00bda1"/><stop offset="0.812" stop-color="#00cb99"/><stop offset="0.875" stop-color="#00da92"/><stop offset="0.937" stop-color="#00e88b"/><stop offset="1.000" stop-color="#00f684"/></linearGradient><linearGradient id="s51" gradientUnits="userSpaceOnUse" x1="1352" y1="495.4" x2="1419.5" y2="49.8"><stop offset="0.000" stop-color="#0010f7"/><stop offset="0.063" stop-color="#001ff0"/><stop offset="0.125" stop-color="#002de8"/><stop offset="0.188" stop-color="#003be1"/><stop offset="0.250" stop-color="#004ada"/><stop offset="0.313" stop-color="#0058d3"/><stop offset="0.375" stop-color="#0067cc"/><stop offset="0.438" stop-color="#0075c5"/><stop offset="0.500" stop-color="#0083bd"/><stop offset="0.563" stop-color="#0092b6"/><stop offset="0.625" stop-color="#00a0af"/><stop offset="0.687" stop-color="#00aea8"/><stop offset="0.750" stop-color="#00bda1"/><stop offset="0.812" stop-color="#00cb99"/><stop offset="0.875" stop-color="#00da92"/><stop offset="0.937" stop-color="#00e88b"/><stop offset="1.000" stop-color="#00f684"/></linearGradient><linearGradient id="s52" gradientUnits="userSpaceOnUse" x1="1364.1" y1="497" x2="1431.3" y2="51.8"><stop offset="0.000" stop-color="#0011f7"/><stop offset="0.063" stop-color="#001ff0"/><stop offset="0.125" stop-color="#002de8"/><stop offset="0.187" stop-color="#003ce1"/><stop offset="0.250" stop-color="#004ada"/><stop offset="0.312" stop-color="#0058d3"/><stop offset="0.375" stop-color="#0067cc"/><stop offset="0.437" stop-color="#0075c4"/><stop offset="0.500" stop-color="#0084bd"/><stop offset="0.562" stop-color="#0092b6"/><stop offset="0.625" stop-color="#00a0af"/><stop offset="0.687" stop-color="#00afa8"/><stop offset="0.750" stop-color="#00bda1"/><stop offset="0.812" stop-color="#00cb99"/><stop offset="0.875" stop-color="#00da92"/><stop offset="0.937" stop-color="#00e88b"/><stop offset="1.000" stop-color="#00f684"/></linearGradient><linearGradient id="s53" gradientUnits="userSpaceOnUse" x1="1376.1" y1="498.6" x2="1443.1" y2="53.8"><stop offset="0.000" stop-color="#0011f7"/><stop offset="0.062" stop-color="#001fef"/><stop offset="0.125" stop-color="#002ee8"/><stop offset="0.187" stop-color="#003ce1"/><stop offset="0.250" stop-color="#004ada"/><stop offset="0.312" stop-color="#0059d3"/><stop offset="0.375" stop-color="#0067cc"/><stop offset="0.437" stop-color="#0075c4"/><stop offset="0.500" stop-color="#0084bd"/><stop offset="0.562" stop-color="#0092b6"/><stop offset="0.625" stop-color="#00a0af"/><stop offset="0.687" stop-color="#00afa8"/><stop offset="0.750" stop-color="#00bda0"/><stop offset="0.812" stop-color="#00cb99"/><stop offset="0.875" stop-color="#00da92"/><stop offset="0.937" stop-color="#00e88b"/><stop offset="1.000" stop-color="#00f784"/></linearGradient><linearGradient id="s54" gradientUnits="userSpaceOnUse" x1="1388.1" y1="500.4" x2="1455.7" y2="55.5"><stop offset="0.000" stop-color="#0011f6"/><stop offset="0.063" stop-color="#001fef"/><stop offset="0.125" stop-color="#002ee8"/><stop offset="0.188" stop-color="#003ce1"/><stop offset="0.250" stop-color="#004bda"/><stop offset="0.312" stop-color="#0059d3"/><stop offset="0.375" stop-color="#0067cb"/><stop offset="0.438" stop-color="#0076c4"/><stop offset="0.500" stop-color="#0084bd"/><stop offset="0.563" stop-color="#0092b6"/><stop offset="0.625" stop-color="#00a1af"/><stop offset="0.688" stop-color="#00afa8"/><stop offset="0.750" stop-color="#00bda0"/><stop offset="0.813" stop-color="#00cc99"/><stop offset="0.875" stop-color="#00da92"/><stop offset="0.937" stop-color="#00e88b"/><stop offset="1.000" stop-color="#00f784"/></linearGradient><linearGradient id="s55" gradientUnits="userSpaceOnUse" x1="1400.1" y1="502" x2="1467" y2="57.8"><stop offset="0.000" stop-color="#0011f6"/><stop offset="0.062" stop-color="#0020ef"/><stop offset="0.125" stop-color="#002ee8"/><stop offset="0.188" stop-color="#003ce1"/><stop offset="0.250" stop-color="#004bda"/><stop offset="0.312" stop-color="#0059d2"/><stop offset="0.375" stop-color="#0067cb"/><stop offset="0.437" stop-color="#0076c4"/><stop offset="0.500" stop-color="#0084bd"/><stop offset="0.563" stop-color="#0092b6"/><stop offset="0.625" stop-color="#00a1af"/><stop offset="0.687" stop-color="#00afa7"/><stop offset="0.750" stop-color="#00bda0"/><stop offset="0.813" stop-color="#00cc99"/><stop offset="0.875" stop-color="#00da92"/><stop offset="0.937" stop-color="#00e88b"/><stop offset="1.000" stop-color="#00f784"/></linearGradient><linearGradient id="s56" gradientUnits="userSpaceOnUse" x1="1412.1" y1="503.6" x2="1479.3" y2="59.5"><stop offset="0.000" stop-color="#0012f6"/><stop offset="0.063" stop-color="#0020ef"/><stop offset="0.125" stop-color="#002ee8"/><stop offset="0.187" stop-color="#003de1"/><stop offset="0.250" stop-color="#004bda"/><stop offset="0.312" stop-color="#0059d2"/><stop offset="0.375" stop-color="#0068cb"/><stop offset="0.437" stop-color="#0076c4"/><stop offset="0.500" stop-color="#0084bd"/><stop offset="0.562" stop-color="#0093b6"/><stop offset="0.625" stop-color="#00a1af"/><stop offset="0.687" stop-color="#00afa7"/><stop offset="0.750" stop-color="#00bea0"/><stop offset="0.813" stop-color="#00cc99"/><stop offset="0.875" stop-color="#00da92"/><stop offset="0.937" stop-color="#00e88b"/><stop offset="1.000" stop-color="#00f784"/></linearGradient><linearGradient id="s57" gradientUnits="userSpaceOnUse" x1="1424.1" y1="505.4" x2="1491.1" y2="61.6"><stop offset="0.000" stop-color="#0012f6"/><stop offset="0.063" stop-color="#0020ef"/><stop offset="0.125" stop-color="#002fe8"/><stop offset="0.188" stop-color="#003de1"/><stop offset="0.250" stop-color="#004bd9"/><stop offset="0.313" stop-color="#005ad2"/><stop offset="0.375" stop-color="#0068cb"/><stop offset="0.438" stop-color="#0076c4"/><stop offset="0.500" stop-color="#0084bd"/><stop offset="0.563" stop-color="#0093b6"/><stop offset="0.625" stop-color="#00a1ae"/><stop offset="0.688" stop-color="#00afa7"/><stop offset="0.750" stop-color="#00bea0"/><stop offset="0.813" stop-color="#00cc99"/><stop offset="0.875" stop-color="#00da92"/><stop offset="0.937" stop-color="#00e98b"/><stop offset="1.000" stop-color="#00f784"/></linearGradient><linearGradient id="s58" gradientUnits="userSpaceOnUse" x1="1436.1" y1="507" x2="1503.1" y2="63.5"><stop offset="0.000" stop-color="#0012f6"/><stop offset="0.063" stop-color="#0021ef"/><stop offset="0.125" stop-color="#002fe8"/><stop offset="0.188" stop-color="#003de0"/><stop offset="0.250" stop-color="#004bd9"/><stop offset="0.313" stop-color="#005ad2"/><stop offset="0.375" stop-color="#0068cb"/><stop offset="0.437" stop-color="#0076c4"/><stop offset="0.500" stop-color="#0085bd"/><stop offset="0.563" stop-color="#0093b6"/><stop offset="0.625" stop-color="#00a1ae"/><stop offset="0.687" stop-color="#00b0a7"/><stop offset="0.750" stop-color="#00bea0"/><stop offset="0.813" stop-color="#00cc99"/><stop offset="0.875" stop-color="#00da92"/><stop offset="0.938" stop-color="#00e98b"/><stop offset="1.000" stop-color="#00f784"/></linearGradient><linearGradient id="s59" gradientUnits="userSpaceOnUse" x1="1448.2" y1="508.6" x2="1515.2" y2="65.4"><stop offset="0.000" stop-color="#0013f6"/><stop offset="0.063" stop-color="#0021ef"/><stop offset="0.125" stop-color="#002fe7"/><stop offset="0.188" stop-color="#003de0"/><stop offset="0.250" stop-color="#004cd9"/><stop offset="0.312" stop-color="#005ad2"/><stop offset="0.375" stop-color="#0068cb"/><stop offset="0.437" stop-color="#0077c4"/><stop offset="0.500" stop-color="#0085bd"/><stop offset="0.562" stop-color="#0093b5"/><stop offset="0.625" stop-color="#00a1ae"/><stop offset="0.687" stop-color="#00b0a7"/><stop offset="0.750" stop-color="#00bea0"/><stop offset="0.812" stop-color="#00cc99"/><stop offset="0.875" stop-color="#00da92"/><stop offset="0.937" stop-color="#00e98b"/><stop offset="1.000" stop-color="#00f783"/></linearGradient><linearGradient id="s60" gradientUnits="userSpaceOnUse" x1="1460.2" y1="510.3" x2="1526.5" y2="67.8"><stop offset="0.000" stop-color="#0013f6"/><stop offset="0.062" stop-color="#0021ee"/><stop offset="0.125" stop-color="#002fe7"/><stop offset="0.188" stop-color="#003ee0"/><stop offset="0.250" stop-color="#004cd9"/><stop offset="0.312" stop-color="#005ad2"/><stop offset="0.375" stop-color="#0068cb"/><stop offset="0.437" stop-color="#0077c4"/><stop offset="0.500" stop-color="#0085bc"/><stop offset="0.563" stop-color="#0093b5"/><stop offset="0.625" stop-color="#00a2ae"/><stop offset="0.688" stop-color="#00b0a7"/><stop offset="0.750" stop-color="#00bea0"/><stop offset="0.812" stop-color="#00cc99"/><stop offset="0.875" stop-color="#00db92"/><stop offset="0.938" stop-color="#00e98b"/><stop offset="1.000" stop-color="#00f783"/></linearGradient><linearGradient id="s61" gradientUnits="userSpaceOnUse" x1="1472.2" y1="511.9" x2="1539.4" y2="69.2"><stop offset="0.000" stop-color="#0013f5"/><stop offset="0.062" stop-color="#0021ee"/><stop offset="0.125" stop-color="#0030e7"/><stop offset="0.187" stop-color="#003ee0"/><stop offset="0.250" stop-color="#004cd9"/><stop offset="0.312" stop-color="#005ad2"/><stop offset="0.375" stop-color="#0069cb"/><stop offset="0.437" stop-color="#0077c4"/><stop offset="0.500" stop-color="#0085bc"/><stop offset="0.562" stop-color="#0093b5"/><stop offset="0.625" stop-color="#00a2ae"/><stop offset="0.687" stop-color="#00b0a7"/><stop offset="0.750" stop-color="#00bea0"/><stop offset="0.812" stop-color="#00cc99"/><stop offset="0.875" stop-color="#00db92"/><stop offset="0.937" stop-color="#00e98b"/><stop offset="1.000" stop-color="#00f783"/></linearGradient><linearGradient id="s62" gradientUnits="userSpaceOnUse" x1="1484.2" y1="513.6" x2="1551.2" y2="71.3"><stop offset="0.000" stop-color="#0013f5"/><stop offset="0.063" stop-color="#0022ee"/><stop offset="0.125" stop-color="#0030e7"/><stop offset="0.187" stop-color="#003ee0"/><stop offset="0.250" stop-color="#004cd9"/><stop offset="0.312" stop-color="#005bd2"/><stop offset="0.375" stop-color="#0069cb"/><stop offset="0.437" stop-color="#0077c3"/><stop offset="0.500" stop-color="#0085bc"/><stop offset="0.562" stop-color="#0094b5"/><stop offset="0.625" stop-color="#00a2ae"/><stop offset="0.687" stop-color="#00b0a7"/><stop offset="0.750" stop-color="#00bea0"/><stop offset="0.812" stop-color="#00cd99"/><stop offset="0.875" stop-color="#00db92"/><stop offset="0.937" stop-color="#00e98a"/><stop offset="1.000" stop-color="#00f783"/></linearGradient></defs>
<g class="sf" opacity="0.5">
<polygon points="1105.8,461.2 1117.8,448.6 1129.8,436 1141.9,423.4 1153.9,410.8 1165.9,398.1 1178,385.5 1190,372.9 1202,360.3 1214,347.7 1226.1,335.1 1238.1,322.4 1250.1,309.8 1262.2,297.2 1274.2,284.6 1286.2,272 1298.2,259.4 1310.3,246.7 1322.3,234.1 1334.3,221.5 1346.4,208.9 1358.4,196.3 1370.4,183.7 1382.4,171 1394.5,158.4 1406.5,145.8 1418.5,133.2 1430.6,120.6 1442.6,108 1454.6,95.3 1466.6,82.7 1478.7,70.1 1490.7,57.5 1502.7,59.5 1490.7,72.1 1478.7,84.7 1466.6,97.3 1454.6,109.9 1442.6,122.5 1430.5,135.1 1418.5,147.7 1406.5,160.3 1394.5,172.9 1382.4,185.5 1370.4,198.1 1358.4,210.7 1346.3,223.4 1334.3,236 1322.3,248.6 1310.3,261.2 1298.2,273.8 1286.2,286.4 1274.2,299 1262.1,311.6 1250.1,324.2 1238.1,336.8 1226.1,349.4 1214,362 1202,374.6 1190,387.3 1177.9,399.9 1165.9,412.5 1153.9,425.1 1141.9,437.7 1129.8,450.3 1117.8,462.9" fill="url(#s31)" stroke="url(#s31)"/>
<polygon points="1117.8,462.9 1129.8,450.3 1141.9,437.7 1153.9,425.1 1165.9,412.5 1177.9,399.9 1190,387.3 1202,374.6 1214,362 1226.1,349.4 1238.1,336.8 1250.1,324.2 1262.1,311.6 1274.2,299 1286.2,286.4 1298.2,273.8 1310.3,261.2 1322.3,248.6 1334.3,236 1346.3,223.4 1358.4,210.7 1370.4,198.1 1382.4,185.5 1394.5,172.9 1406.5,160.3 1418.5,147.7 1430.5,135.1 1442.6,122.5 1454.6,109.9 1466.6,97.3 1478.7,84.7 1490.7,72.1 1502.7,59.5 1514.7,61.4 1502.7,74 1490.7,86.6 1478.6,99.2 1466.6,111.8 1454.6,124.4 1442.5,137 1430.5,149.6 1418.5,162.2 1406.5,174.8 1394.4,187.4 1382.4,200 1370.4,212.6 1358.4,225.2 1346.3,237.8 1334.3,250.4 1322.3,263 1310.2,275.6 1298.2,288.2 1286.2,300.8 1274.2,313.4 1262.1,326 1250.1,338.6 1238.1,351.2 1226,363.8 1214,376.4 1202,389 1190,401.6 1177.9,414.2 1165.9,426.8 1153.9,439.4 1141.8,452 1129.8,464.6" fill="url(#s32)" stroke="url(#s32)"/>
<polygon points="1129.8,464.6 1141.8,452 1153.9,439.4 1165.9,426.8 1177.9,414.2 1190,401.6 1202,389 1214,376.4 1226,363.8 1238.1,351.2 1250.1,338.6 1262.1,326 1274.2,313.4 1286.2,300.8 1298.2,288.2 1310.2,275.6 1322.3,263 1334.3,250.4 1346.3,237.8 1358.4,225.2 1370.4,212.6 1382.4,200 1394.4,187.4 1406.5,174.8 1418.5,162.2 1430.5,149.6 1442.5,137 1454.6,124.4 1466.6,111.8 1478.6,99.2 1490.7,86.6 1502.7,74 1514.7,61.4 1526.7,63.4 1514.7,76 1502.7,88.6 1490.6,101.2 1478.6,113.7 1466.6,126.3 1454.6,138.9 1442.5,151.5 1430.5,164.1 1418.5,176.7 1406.4,189.3 1394.4,201.9 1382.4,214.5 1370.4,227 1358.3,239.6 1346.3,252.2 1334.3,264.8 1322.2,277.4 1310.2,290 1298.2,302.6 1286.2,315.2 1274.1,327.8 1262.1,340.3 1250.1,352.9 1238.1,365.5 1226,378.1 1214,390.7 1202,403.3 1189.9,415.9 1177.9,428.5 1165.9,441 1153.9,453.6 1141.8,466.2" fill="url(#s33)" stroke="url(#s33)"/>
<polygon points="1141.8,466.2 1153.9,453.6 1165.9,441 1177.9,428.5 1189.9,415.9 1202,403.3 1214,390.7 1226,378.1 1238.1,365.5 1250.1,352.9 1262.1,340.3 1274.1,327.8 1286.2,315.2 1298.2,302.6 1310.2,290 1322.2,277.4 1334.3,264.8 1346.3,252.2 1358.3,239.6 1370.4,227 1382.4,214.5 1394.4,201.9 1406.4,189.3 1418.5,176.7 1430.5,164.1 1442.5,151.5 1454.6,138.9 1466.6,126.3 1478.6,113.7 1490.6,101.2 1502.7,88.6 1514.7,76 1526.7,63.4 1538.7,65.4 1526.7,77.9 1514.7,90.5 1502.7,103.1 1490.6,115.7 1478.6,128.3 1466.6,140.8 1454.5,153.4 1442.5,166 1430.5,178.6 1418.5,191.1 1406.4,203.7 1394.4,216.3 1382.4,228.9 1370.3,241.5 1358.3,254 1346.3,266.6 1334.3,279.2 1322.2,291.8 1310.2,304.4 1298.2,316.9 1286.1,329.5 1274.1,342.1 1262.1,354.7 1250.1,367.3 1238,379.8 1226,392.4 1214,405 1202,417.6 1189.9,430.2 1177.9,442.7 1165.9,455.3 1153.8,467.9" fill="url(#s34)" stroke="url(#s34)"/>
<polygon points="1153.8,467.9 1165.9,455.3 1177.9,442.7 1189.9,430.2 1202,417.6 1214,405 1226,392.4 1238,379.8 1250.1,367.3 1262.1,354.7 1274.1,342.1 1286.1,329.5 1298.2,316.9 1310.2,304.4 1322.2,291.8 1334.3,279.2 1346.3,266.6 1358.3,254 1370.3,241.5 1382.4,228.9 1394.4,216.3 1406.4,203.7 1418.5,191.1 1430.5,178.6 1442.5,166 1454.5,153.4 1466.6,140.8 1478.6,128.3 1490.6,115.7 1502.7,103.1 1514.7,90.5 1526.7,77.9 1538.7,65.4 1550.8,67.3 1538.7,79.9 1526.7,92.5 1514.7,105 1502.6,117.6 1490.6,130.2 1478.6,142.7 1466.6,155.3 1454.5,167.9 1442.5,180.4 1430.5,193 1418.4,205.6 1406.4,218.2 1394.4,230.7 1382.4,243.3 1370.3,255.9 1358.3,268.4 1346.3,281 1334.2,293.6 1322.2,306.1 1310.2,318.7 1298.2,331.3 1286.1,343.9 1274.1,356.4 1262.1,369 1250,381.6 1238,394.1 1226,406.7 1214,419.3 1201.9,431.8 1189.9,444.4 1177.9,457 1165.8,469.6" fill="url(#s35)" stroke="url(#s35)"/>
<polygon points="1165.8,469.6 1177.9,457 1189.9,444.4 1201.9,431.8 1214,419.3 1226,406.7 1238,394.1 1250,381.6 1262.1,369 1274.1,356.4 1286.1,343.9 1298.2,331.3 1310.2,318.7 1322.2,306.1 1334.2,293.6 1346.3,281 1358.3,268.4 1370.3,255.9 1382.4,243.3 1394.4,230.7 1406.4,218.2 1418.4,205.6 1430.5,193 1442.5,180.4 1454.5,167.9 1466.6,155.3 1478.6,142.7 1490.6,130.2 1502.6,117.6 1514.7,105 1526.7,92.5 1538.7,79.9 1550.8,67.3 1562.8,69.3 1550.7,81.8 1538.7,94.4 1526.7,107 1514.7,119.5 1502.6,132.1 1490.6,144.7 1478.6,157.2 1466.5,169.8 1454.5,182.3 1442.5,194.9 1430.5,207.5 1418.4,220 1406.4,232.6 1394.4,245.1 1382.3,257.7 1370.3,270.3 1358.3,282.8 1346.3,295.4 1334.2,307.9 1322.2,320.5 1310.2,333.1 1298.1,345.6 1286.1,358.2 1274.1,370.7 1262.1,383.3 1250,395.9 1238,408.4 1226,421 1213.9,433.5 1201.9,446.1 1189.9,458.7 1177.9,471.2" fill="url(#s36)" stroke="url(#s36)"/>
<polygon points="1177.9,471.2 1189.9,458.7 1201.9,446.1 1213.9,433.5 1226,421 1238,408.4 1250,395.9 1262.1,383.3 1274.1,370.7 1286.1,358.2 1298.1,345.6 1310.2,333.1 1322.2,320.5 1334.2,307.9 1346.3,295.4 1358.3,282.8 1370.3,270.3 1382.3,257.7 1394.4,245.1 1406.4,232.6 1418.4,220 1430.5,207.5 1442.5,194.9 1454.5,182.3 1466.5,169.8 1478.6,157.2 1490.6,144.7 1502.6,132.1 1514.7,119.5 1526.7,107 1538.7,94.4 1550.7,81.8 1562.8,69.3 1574.8,71.3 1562.8,83.8 1550.7,96.4 1538.7,108.9 1526.7,121.5 1514.6,134 1502.6,146.6 1490.6,159.1 1478.6,171.7 1466.5,184.2 1454.5,196.8 1442.5,209.3 1430.4,221.9 1418.4,234.4 1406.4,247 1394.4,259.5 1382.3,272.1 1370.3,284.6 1358.3,297.2 1346.2,309.7 1334.2,322.3 1322.2,334.8 1310.2,347.4 1298.1,359.9 1286.1,372.5 1274.1,385 1262,397.6 1250,410.1 1238,422.7 1226,435.2 1213.9,447.8 1201.9,460.3 1189.9,472.9" fill="url(#s37)" stroke="url(#s37)"/>
<polygon points="1189.9,472.9 1201.9,460.3 1213.9,447.8 1226,435.2 1238,422.7 1250,410.1 1262,397.6 1274.1,385 1286.1,372.5 1298.1,359.9 1310.2,347.4 1322.2,334.8 1334.2,322.3 1346.2,309.7 1358.3,297.2 1370.3,284.6 1382.3,272.1 1394.4,259.5 1406.4,247 1418.4,234.4 1430.4,221.9 1442.5,209.3 1454.5,196.8 1466.5,184.2 1478.6,171.7 1490.6,159.1 1502.6,146.6 1514.6,134 1526.7,121.5 1538.7,108.9 1550.7,96.4 1562.8,83.8 1574.8,71.3 1586.8,73.2 1574.8,85.8 1562.7,98.3 1550.7,110.8 1538.7,123.4 1526.7,135.9 1514.6,148.5 1502.6,161 1490.6,173.6 1478.5,186.1 1466.5,198.6 1454.5,211.2 1442.5,223.7 1430.4,236.3 1418.4,248.8 1406.4,261.3 1394.3,273.9 1382.3,286.4 1370.3,299 1358.3,311.5 1346.2,324 1334.2,336.6 1322.2,349.1 1310.1,361.7 1298.1,374.2 1286.1,386.8 1274.1,399.3 1262,411.8 1250,424.4 1238,436.9 1225.9,449.5 1213.9,462 1201.9,474.5" fill="url(#s38)" stroke="url(#s38)"/>
<polygon points="1201.9,474.5 1213.9,462 1225.9,449.5 1238,436.9 1250,424.4 1262,411.8 1274.1,399.3 1286.1,386.8 1298.1,374.2 1310.1,361.7 1322.2,349.1 1334.2,336.6 1346.2,324 1358.3,311.5 1370.3,299 1382.3,286.4 1394.3,273.9 1406.4,261.3 1418.4,248.8 1430.4,236.3 1442.5,223.7 1454.5,211.2 1466.5,198.6 1478.5,186.1 1490.6,173.6 1502.6,161 1514.6,148.5 1526.7,135.9 1538.7,123.4 1550.7,110.8 1562.7,98.3 1574.8,85.8 1586.8,73.2 1598.8,75.2 1586.8,87.7 1574.8,100.3 1562.7,112.8 1550.7,125.3 1538.7,137.8 1526.6,150.4 1514.6,162.9 1502.6,175.4 1490.6,188 1478.5,200.5 1466.5,213 1454.5,225.6 1442.4,238.1 1430.4,250.6 1418.4,263.2 1406.4,275.7 1394.3,288.2 1382.3,300.8 1370.3,313.3 1358.2,325.8 1346.2,338.4 1334.2,350.9 1322.2,363.4 1310.1,376 1298.1,388.5 1286.1,401 1274,413.5 1262,426.1 1250,438.6 1238,451.1 1225.9,463.7 1213.9,476.2" fill="url(#s39)" stroke="url(#s39)"/>
<polygon points="1213.9,476.2 1225.9,463.7 1238,451.1 1250,438.6 1262,426.1 1274,413.5 1286.1,401 1298.1,388.5 1310.1,376 1322.2,363.4 1334.2,350.9 1346.2,338.4 1358.2,325.8 1370.3,313.3 1382.3,300.8 1394.3,288.2 1406.4,275.7 1418.4,263.2 1430.4,250.6 1442.4,238.1 1454.5,225.6 1466.5,213 1478.5,200.5 1490.6,188 1502.6,175.4 1514.6,162.9 1526.6,150.4 1538.7,137.8 1550.7,125.3 1562.7,112.8 1574.8,100.3 1586.8,87.7 1598.8,75.2 1610.8,77.2 1598.8,89.7 1586.8,102.2 1574.7,114.7 1562.7,127.2 1550.7,139.8 1538.7,152.3 1526.6,164.8 1514.6,177.3 1502.6,189.9 1490.5,202.4 1478.5,214.9 1466.5,227.4 1454.5,239.9 1442.4,252.5 1430.4,265 1418.4,277.5 1406.3,290 1394.3,302.6 1382.3,315.1 1370.3,327.6 1358.2,340.1 1346.2,352.6 1334.2,365.2 1322.1,377.7 1310.1,390.2 1298.1,402.7 1286.1,415.3 1274,427.8 1262,440.3 1250,452.8 1237.9,465.3 1225.9,477.9" fill="url(#s40)" stroke="url(#s40)"/>
<polygon points="1225.9,477.9 1237.9,465.3 1250,452.8 1262,440.3 1274,427.8 1286.1,415.3 1298.1,402.7 1310.1,390.2 1322.1,377.7 1334.2,365.2 1346.2,352.6 1358.2,340.1 1370.3,327.6 1382.3,315.1 1394.3,302.6 1406.3,290 1418.4,277.5 1430.4,265 1442.4,252.5 1454.5,239.9 1466.5,227.4 1478.5,214.9 1490.5,202.4 1502.6,189.9 1514.6,177.3 1526.6,164.8 1538.7,152.3 1550.7,139.8 1562.7,127.2 1574.7,114.7 1586.8,102.2 1598.8,89.7 1610.8,77.2 1622.8,79.1 1610.8,91.6 1598.8,104.1 1586.7,116.7 1574.7,129.2 1562.7,141.7 1550.7,154.2 1538.6,166.7 1526.6,179.2 1514.6,191.7 1502.5,204.2 1490.5,216.8 1478.5,229.3 1466.5,241.8 1454.4,254.3 1442.4,266.8 1430.4,279.3 1418.4,291.8 1406.3,304.4 1394.3,316.9 1382.3,329.4 1370.2,341.9 1358.2,354.4 1346.2,366.9 1334.2,379.4 1322.1,391.9 1310.1,404.5 1298.1,417 1286,429.5 1274,442 1262,454.5 1250,467 1237.9,479.5" fill="url(#s41)" stroke="url(#s41)"/>
<polygon points="1237.9,479.5 1250,467 1262,454.5 1274,442 1286,429.5 1298.1,417 1310.1,404.5 1322.1,391.9 1334.2,379.4 1346.2,366.9 1358.2,354.4 1370.2,341.9 1382.3,329.4 1394.3,316.9 1406.3,304.4 1418.4,291.8 1430.4,279.3 1442.4,266.8 1454.4,254.3 1466.5,241.8 1478.5,229.3 1490.5,216.8 1502.5,204.2 1514.6,191.7 1526.6,179.2 1538.6,166.7 1550.7,154.2 1562.7,141.7 1574.7,129.2 1586.7,116.7 1598.8,104.1 1610.8,91.6 1622.8,79.1 1634.8,81.1 1622.8,93.6 1610.8,106.1 1598.8,118.6 1586.7,131.1 1574.7,143.6 1562.7,156.1 1550.6,168.6 1538.6,181.1 1526.6,193.6 1514.6,206.1 1502.5,218.6 1490.5,231.1 1478.5,243.6 1466.4,256.1 1454.4,268.6 1442.4,281.1 1430.4,293.6 1418.3,306.1 1406.3,318.7 1394.3,331.2 1382.3,343.7 1370.2,356.2 1358.2,368.7 1346.2,381.2 1334.1,393.7 1322.1,406.2 1310.1,418.7 1298.1,431.2 1286,443.7 1274,456.2 1262,468.7 1249.9,481.2" fill="url(#s42)" stroke="url(#s42)"/>
<polygon points="1249.9,481.2 1262,468.7 1274,456.2 1286,443.7 1298.1,431.2 1310.1,418.7 1322.1,406.2 1334.1,393.7 1346.2,381.2 1358.2,368.7 1370.2,356.2 1382.3,343.7 1394.3,331.2 1406.3,318.7 1418.3,306.1 1430.4,293.6 1442.4,281.1 1454.4,268.6 1466.4,256.1 1478.5,243.6 1490.5,231.1 1502.5,218.6 1514.6,206.1 1526.6,193.6 1538.6,181.1 1550.6,168.6 1562.7,156.1 1574.7,143.6 1586.7,131.1 1598.8,118.6 1610.8,106.1 1622.8,93.6 1634.8,81.1 1646.9,83.1 1634.8,95.5 1622.8,108 1610.8,120.5 1598.7,133 1586.7,145.5 1574.7,158 1562.7,170.5 1550.6,183 1538.6,195.5 1526.6,208 1514.5,220.5 1502.5,233 1490.5,245.5 1478.5,258 1466.4,270.5 1454.4,283 1442.4,295.5 1430.3,307.9 1418.3,320.4 1406.3,332.9 1394.3,345.4 1382.2,357.9 1370.2,370.4 1358.2,382.9 1346.1,395.4 1334.1,407.9 1322.1,420.4 1310.1,432.9 1298,445.4 1286,457.9 1274,470.4 1262,482.9" fill="url(#s43)" stroke="url(#s43)"/>
<polygon points="1262,482.9 1274,470.4 1286,457.9 1298,445.4 1310.1,432.9 1322.1,420.4 1334.1,407.9 1346.1,395.4 1358.2,382.9 1370.2,370.4 1382.2,357.9 1394.3,345.4 1406.3,332.9 1418.3,320.4 1430.3,307.9 1442.4,295.5 1454.4,283 1466.4,270.5 1478.5,258 1490.5,245.5 1502.5,233 1514.5,220.5 1526.6,208 1538.6,195.5 1550.6,183 1562.7,170.5 1574.7,158 1586.7,145.5 1598.7,133 1610.8,120.5 1622.8,108 1634.8,95.5 1646.9,83.1 1658.9,85 1646.8,97.5 1634.8,110 1622.8,122.5 1610.8,135 1598.7,147.4 1586.7,159.9 1574.7,172.4 1562.6,184.9 1550.6,197.4 1538.6,209.9 1526.6,222.3 1514.5,234.8 1502.5,247.3 1490.5,259.8 1478.4,272.3 1466.4,284.8 1454.4,297.3 1442.4,309.7 1430.3,322.2 1418.3,334.7 1406.3,347.2 1394.2,359.7 1382.2,372.2 1370.2,384.6 1358.2,397.1 1346.1,409.6 1334.1,422.1 1322.1,434.6 1310,447.1 1298,459.6 1286,472 1274,484.5" fill="url(#s44)" stroke="url(#s44)"/>
<polygon points="1274,484.5 1286,472 1298,459.6 1310,447.1 1322.1,434.6 1334.1,422.1 1346.1,409.6 1358.2,397.1 1370.2,384.6 1382.2,372.2 1394.2,359.7 1406.3,347.2 1418.3,334.7 1430.3,322.2 1442.4,309.7 1454.4,297.3 1466.4,284.8 1478.4,272.3 1490.5,259.8 1502.5,247.3 1514.5,234.8 1526.6,222.3 1538.6,209.9 1550.6,197.4 1562.6,184.9 1574.7,172.4 1586.7,159.9 1598.7,147.4 1610.8,135 1622.8,122.5 1634.8,110 1646.8,97.5 1658.9,85 1670.9,87 1658.9,99.5 1646.8,111.9 1634.8,124.4 1622.8,136.9 1610.7,149.4 1598.7,161.8 1586.7,174.3 1574.7,186.8 1562.6,199.3 1550.6,211.7 1538.6,224.2 1526.5,236.7 1514.5,249.2 1502.5,261.6 1490.5,274.1 1478.4,286.6 1466.4,299.1 1454.4,311.5 1442.3,324 1430.3,336.5 1418.3,349 1406.3,361.4 1394.2,373.9 1382.2,386.4 1370.2,398.9 1358.1,411.3 1346.1,423.8 1334.1,436.3 1322.1,448.8 1310,461.2 1298,473.7 1286,486.2" fill="url(#s45)" stroke="url(#s45)"/>
<polygon points="1286,486.2 1298,473.7 1310,461.2 1322.1,448.8 1334.1,436.3 1346.1,423.8 1358.1,411.3 1370.2,398.9 1382.2,386.4 1394.2,373.9 1406.3,361.4 1418.3,349 1430.3,336.5 1442.3,324 1454.4,311.5 1466.4,299.1 1478.4,286.6 1490.5,274.1 1502.5,261.6 1514.5,249.2 1526.5,236.7 1538.6,224.2 1550.6,211.7 1562.6,199.3 1574.7,186.8 1586.7,174.3 1598.7,161.8 1610.7,149.4 1622.8,136.9 1634.8,124.4 1646.8,111.9 1658.9,99.5 1670.9,87 1682.9,89 1670.9,101.4 1658.8,113.9 1646.8,126.3 1634.8,138.8 1622.8,151.3 1610.7,163.7 1598.7,176.2 1586.7,188.7 1574.6,201.1 1562.6,213.6 1550.6,226.1 1538.6,238.5 1526.5,251 1514.5,263.5 1502.5,275.9 1490.4,288.4 1478.4,300.9 1466.4,313.3 1454.4,325.8 1442.3,338.3 1430.3,350.7 1418.3,363.2 1406.2,375.7 1394.2,388.1 1382.2,400.6 1370.2,413.1 1358.1,425.5 1346.1,438 1334.1,450.5 1322,462.9 1310,475.4 1298,487.9" fill="url(#s46)" stroke="url(#s46)"/>
<polygon points="1298,487.9 1310,475.4 1322,462.9 1334.1,450.5 1346.1,438 1358.1,425.5 1370.2,413.1 1382.2,400.6 1394.2,388.1 1406.2,375.7 1418.3,363.2 1430.3,350.7 1442.3,338.3 1454.4,325.8 1466.4,313.3 1478.4,300.9 1490.4,288.4 1502.5,275.9 1514.5,263.5 1526.5,251 1538.6,238.5 1550.6,226.1 1562.6,213.6 1574.6,201.1 1586.7,188.7 1598.7,176.2 1610.7,163.7 1622.8,151.3 1634.8,138.8 1646.8,126.3 1658.8,113.9 1670.9,101.4 1682.9,89 1694.9,90.9 1682.9,103.4 1670.9,115.8 1658.8,128.3 1646.8,140.7 1634.8,153.2 1622.7,165.7 1610.7,178.1 1598.7,190.6 1586.7,203 1574.6,215.5 1562.6,227.9 1550.6,240.4 1538.5,252.8 1526.5,265.3 1514.5,277.8 1502.5,290.2 1490.4,302.7 1478.4,315.1 1466.4,327.6 1454.3,340 1442.3,352.5 1430.3,365 1418.3,377.4 1406.2,389.9 1394.2,402.3 1382.2,414.8 1370.1,427.2 1358.1,439.7 1346.1,452.1 1334.1,464.6 1322,477.1 1310,489.5" fill="url(#s47)" stroke="url(#s47)"/>
<polygon points="1310,489.5 1322,477.1 1334.1,464.6 1346.1,452.1 1358.1,439.7 1370.1,427.2 1382.2,414.8 1394.2,402.3 1406.2,389.9 1418.3,377.4 1430.3,365 1442.3,352.5 1454.3,340 1466.4,327.6 1478.4,315.1 1490.4,302.7 1502.5,290.2 1514.5,277.8 1526.5,265.3 1538.5,252.8 1550.6,240.4 1562.6,227.9 1574.6,215.5 1586.7,203 1598.7,190.6 1610.7,178.1 1622.7,165.7 1634.8,153.2 1646.8,140.7 1658.8,128.3 1670.9,115.8 1682.9,103.4 1694.9,90.9 1706.9,92.9 1694.9,105.3 1682.9,117.8 1670.8,130.2 1658.8,142.7 1646.8,155.1 1634.8,167.6 1622.7,180 1610.7,192.5 1598.7,204.9 1586.6,217.4 1574.6,229.8 1562.6,242.2 1550.6,254.7 1538.5,267.1 1526.5,279.6 1514.5,292 1502.4,304.5 1490.4,316.9 1478.4,329.4 1466.4,341.8 1454.3,354.3 1442.3,366.7 1430.3,379.2 1418.2,391.6 1406.2,404.1 1394.2,416.5 1382.2,428.9 1370.1,441.4 1358.1,453.8 1346.1,466.3 1334,478.7 1322,491.2" fill="url(#s48)" stroke="url(#s48)"/>
<polygon points="1322,491.2 1334,478.7 1346.1,466.3 1358.1,453.8 1370.1,441.4 1382.2,428.9 1394.2,416.5 1406.2,404.1 1418.2,391.6 1430.3,379.2 1442.3,366.7 1454.3,354.3 1466.4,341.8 1478.4,329.4 1490.4,316.9 1502.4,304.5 1514.5,292 1526.5,279.6 1538.5,267.1 1550.6,254.7 1562.6,242.2 1574.6,229.8 1586.6,217.4 1598.7,204.9 1610.7,192.5 1622.7,180 1634.8,167.6 1646.8,155.1 1658.8,142.7 1670.8,130.2 1682.9,117.8 1694.9,105.3 1706.9,92.9 1718.9,94.8 1706.9,107.3 1694.9,119.7 1682.8,132.2 1670.8,144.6 1658.8,157 1646.8,169.5 1634.7,181.9 1622.7,194.3 1610.7,206.8 1598.7,219.2 1586.6,231.7 1574.6,244.1 1562.6,256.5 1550.5,269 1538.5,281.4 1526.5,293.8 1514.5,306.3 1502.4,318.7 1490.4,331.2 1478.4,343.6 1466.3,356 1454.3,368.5 1442.3,380.9 1430.3,393.3 1418.2,405.8 1406.2,418.2 1394.2,430.7 1382.1,443.1 1370.1,455.5 1358.1,468 1346.1,480.4 1334,492.8" fill="url(#s49)" stroke="url(#s49)"/>
<polygon points="1334,492.8 1346.1,480.4 1358.1,468 1370.1,455.5 1382.1,443.1 1394.2,430.7 1406.2,418.2 1418.2,405.8 1430.3,393.3 1442.3,380.9 1454.3,368.5 1466.3,356 1478.4,343.6 1490.4,331.2 1502.4,318.7 1514.5,306.3 1526.5,293.8 1538.5,281.4 1550.5,269 1562.6,256.5 1574.6,244.1 1586.6,231.7 1598.7,219.2 1610.7,206.8 1622.7,194.3 1634.7,181.9 1646.8,169.5 1658.8,157 1670.8,144.6 1682.8,132.2 1694.9,119.7 1706.9,107.3 1718.9,94.8 1730.9,96.8 1718.9,109.2 1706.9,121.7 1694.9,134.1 1682.8,146.5 1670.8,159 1658.8,171.4 1646.7,183.8 1634.7,196.2 1622.7,208.7 1610.7,221.1 1598.6,233.5 1586.6,245.9 1574.6,258.4 1562.5,270.8 1550.5,283.2 1538.5,295.7 1526.5,308.1 1514.4,320.5 1502.4,332.9 1490.4,345.4 1478.4,357.8 1466.3,370.2 1454.3,382.7 1442.3,395.1 1430.2,407.5 1418.2,419.9 1406.2,432.4 1394.2,444.8 1382.1,457.2 1370.1,469.7 1358.1,482.1 1346,494.5" fill="url(#s50)" stroke="url(#s50)"/>
<polygon points="1346,494.5 1358.1,482.1 1370.1,469.7 1382.1,457.2 1394.2,444.8 1406.2,432.4 1418.2,419.9 1430.2,407.5 1442.3,395.1 1454.3,382.7 1466.3,370.2 1478.4,357.8 1490.4,345.4 1502.4,332.9 1514.4,320.5 1526.5,308.1 1538.5,295.7 1550.5,283.2 1562.5,270.8 1574.6,258.4 1586.6,245.9 1598.6,233.5 1610.7,221.1 1622.7,208.7 1634.7,196.2 1646.7,183.8 1658.8,171.4 1670.8,159 1682.8,146.5 1694.9,134.1 1706.9,121.7 1718.9,109.2 1730.9,96.8 1743,98.8 1730.9,111.2 1718.9,123.6 1706.9,136 1694.8,148.5 1682.8,160.9 1670.8,173.3 1658.8,185.7 1646.7,198.1 1634.7,210.5 1622.7,223 1610.6,235.4 1598.6,247.8 1586.6,260.2 1574.6,272.6 1562.5,285.1 1550.5,297.5 1538.5,309.9 1526.4,322.3 1514.4,334.7 1502.4,347.2 1490.4,359.6 1478.3,372 1466.3,384.4 1454.3,396.8 1442.3,409.2 1430.2,421.7 1418.2,434.1 1406.2,446.5 1394.1,458.9 1382.1,471.3 1370.1,483.8 1358.1,496.2" fill="url(#s51)" stroke="url(#s51)"/>
<polygon points="1358.1,496.2 1370.1,483.8 1382.1,471.3 1394.1,458.9 1406.2,446.5 1418.2,434.1 1430.2,421.7 1442.3,409.2 1454.3,396.8 1466.3,384.4 1478.3,372 1490.4,359.6 1502.4,347.2 1514.4,334.7 1526.4,322.3 1538.5,309.9 1550.5,297.5 1562.5,285.1 1574.6,272.6 1586.6,260.2 1598.6,247.8 1610.6,235.4 1622.7,223 1634.7,210.5 1646.7,198.1 1658.8,185.7 1670.8,173.3 1682.8,160.9 1694.8,148.5 1706.9,136 1718.9,123.6 1730.9,111.2 1743,98.8 1755,100.7 1742.9,113.2 1730.9,125.6 1718.9,138 1706.9,150.4 1694.8,162.8 1682.8,175.2 1670.8,187.6 1658.7,200 1646.7,212.4 1634.7,224.8 1622.7,237.2 1610.6,249.7 1598.6,262.1 1586.6,274.5 1574.5,286.9 1562.5,299.3 1550.5,311.7 1538.5,324.1 1526.4,336.5 1514.4,348.9 1502.4,361.3 1490.3,373.7 1478.3,386.2 1466.3,398.6 1454.3,411 1442.2,423.4 1430.2,435.8 1418.2,448.2 1406.1,460.6 1394.1,473 1382.1,485.4 1370.1,497.8" fill="url(#s52)" stroke="url(#s52)"/>
<polygon points="1370.1,497.8 1382.1,485.4 1394.1,473 1406.1,460.6 1418.2,448.2 1430.2,435.8 1442.2,423.4 1454.3,411 1466.3,398.6 1478.3,386.2 1490.3,373.7 1502.4,361.3 1514.4,348.9 1526.4,336.5 1538.5,324.1 1550.5,311.7 1562.5,299.3 1574.5,286.9 1586.6,274.5 1598.6,262.1 1610.6,249.7 1622.7,237.2 1634.7,224.8 1646.7,212.4 1658.7,200 1670.8,187.6 1682.8,175.2 1694.8,162.8 1706.9,150.4 1718.9,138 1730.9,125.6 1742.9,113.2 1755,100.7 1767,102.7 1755,115.1 1742.9,127.5 1730.9,139.9 1718.9,152.3 1706.8,164.7 1694.8,177.1 1682.8,189.5 1670.8,201.9 1658.7,214.3 1646.7,226.7 1634.7,239.1 1622.6,251.5 1610.6,263.9 1598.6,276.3 1586.6,288.7 1574.5,301.1 1562.5,313.5 1550.5,325.9 1538.4,338.3 1526.4,350.7 1514.4,363.1 1502.4,375.5 1490.3,387.9 1478.3,400.3 1466.3,412.7 1454.2,425.1 1442.2,437.5 1430.2,449.9 1418.2,462.3 1406.1,474.7 1394.1,487.1 1382.1,499.5" fill="url(#s53)" stroke="url(#s53)"/>
<polygon points="1382.1,499.5 1394.1,487.1 1406.1,474.7 1418.2,462.3 1430.2,449.9 1442.2,437.5 1454.2,425.1 1466.3,412.7 1478.3,400.3 1490.3,387.9 1502.4,375.5 1514.4,363.1 1526.4,350.7 1538.4,338.3 1550.5,325.9 1562.5,313.5 1574.5,301.1 1586.6,288.7 1598.6,276.3 1610.6,263.9 1622.6,251.5 1634.7,239.1 1646.7,226.7 1658.7,214.3 1670.8,201.9 1682.8,189.5 1694.8,177.1 1706.8,164.7 1718.9,152.3 1730.9,139.9 1742.9,127.5 1755,115.1 1767,102.7 1779,104.7 1767,117.1 1754.9,129.5 1742.9,141.8 1730.9,154.2 1718.9,166.6 1706.8,179 1694.8,191.4 1682.8,203.8 1670.7,216.2 1658.7,228.6 1646.7,241 1634.7,253.4 1622.6,265.8 1610.6,278.1 1598.6,290.5 1586.5,302.9 1574.5,315.3 1562.5,327.7 1550.5,340.1 1538.4,352.5 1526.4,364.9 1514.4,377.3 1502.3,389.7 1490.3,402 1478.3,414.4 1466.3,426.8 1454.2,439.2 1442.2,451.6 1430.2,464 1418.1,476.4 1406.1,488.8 1394.1,501.2" fill="url(#s54)" stroke="url(#s54)"/>
<polygon points="1394.1,501.2 1406.1,488.8 1418.1,476.4 1430.2,464 1442.2,451.6 1454.2,439.2 1466.3,426.8 1478.3,414.4 1490.3,402 1502.3,389.7 1514.4,377.3 1526.4,364.9 1538.4,352.5 1550.5,340.1 1562.5,327.7 1574.5,315.3 1586.5,302.9 1598.6,290.5 1610.6,278.1 1622.6,265.8 1634.7,253.4 1646.7,241 1658.7,228.6 1670.7,216.2 1682.8,203.8 1694.8,191.4 1706.8,179 1718.9,166.6 1730.9,154.2 1742.9,141.8 1754.9,129.5 1767,117.1 1779,104.7 1791,106.6 1779,119 1767,131.4 1754.9,143.8 1742.9,156.2 1730.9,168.5 1718.8,180.9 1706.8,193.3 1694.8,205.7 1682.8,218.1 1670.7,230.5 1658.7,242.8 1646.7,255.2 1634.6,267.6 1622.6,280 1610.6,292.4 1598.6,304.7 1586.5,317.1 1574.5,329.5 1562.5,341.9 1550.4,354.3 1538.4,366.6 1526.4,379 1514.4,391.4 1502.3,403.8 1490.3,416.2 1478.3,428.5 1466.2,440.9 1454.2,453.3 1442.2,465.7 1430.2,478.1 1418.1,490.4 1406.1,502.8" fill="url(#s55)" stroke="url(#s55)"/>
<polygon points="1406.1,502.8 1418.1,490.4 1430.2,478.1 1442.2,465.7 1454.2,453.3 1466.2,440.9 1478.3,428.5 1490.3,416.2 1502.3,403.8 1514.4,391.4 1526.4,379 1538.4,366.6 1550.4,354.3 1562.5,341.9 1574.5,329.5 1586.5,317.1 1598.6,304.7 1610.6,292.4 1622.6,280 1634.6,267.6 1646.7,255.2 1658.7,242.8 1670.7,230.5 1682.8,218.1 1694.8,205.7 1706.8,193.3 1718.8,180.9 1730.9,168.5 1742.9,156.2 1754.9,143.8 1767,131.4 1779,119 1791,106.6 1803,108.6 1791,121 1779,133.4 1766.9,145.7 1754.9,158.1 1742.9,170.5 1730.9,182.8 1718.8,195.2 1706.8,207.6 1694.8,220 1682.7,232.3 1670.7,244.7 1658.7,257.1 1646.7,269.4 1634.6,281.8 1622.6,294.2 1610.6,306.6 1598.5,318.9 1586.5,331.3 1574.5,343.7 1562.5,356 1550.4,368.4 1538.4,380.8 1526.4,393.1 1514.3,405.5 1502.3,417.9 1490.3,430.3 1478.3,442.6 1466.2,455 1454.2,467.4 1442.2,479.7 1430.1,492.1 1418.1,504.5" fill="url(#s56)" stroke="url(#s56)"/>
<polygon points="1418.1,504.5 1430.1,492.1 1442.2,479.7 1454.2,467.4 1466.2,455 1478.3,442.6 1490.3,430.3 1502.3,417.9 1514.3,405.5 1526.4,393.1 1538.4,380.8 1550.4,368.4 1562.5,356 1574.5,343.7 1586.5,331.3 1598.5,318.9 1610.6,306.6 1622.6,294.2 1634.6,281.8 1646.7,269.4 1658.7,257.1 1670.7,244.7 1682.7,232.3 1694.8,220 1706.8,207.6 1718.8,195.2 1730.9,182.8 1742.9,170.5 1754.9,158.1 1766.9,145.7 1779,133.4 1791,121 1803,108.6 1815,110.6 1803,122.9 1791,135.3 1779,147.7 1766.9,160 1754.9,172.4 1742.9,184.7 1730.8,197.1 1718.8,209.5 1706.8,221.8 1694.8,234.2 1682.7,246.6 1670.7,258.9 1658.7,271.3 1646.6,283.6 1634.6,296 1622.6,308.4 1610.6,320.7 1598.5,333.1 1586.5,345.5 1574.5,357.8 1562.4,370.2 1550.4,382.5 1538.4,394.9 1526.4,407.3 1514.3,419.6 1502.3,432 1490.3,444.3 1478.2,456.7 1466.2,469.1 1454.2,481.4 1442.2,493.8 1430.1,506.2" fill="url(#s57)" stroke="url(#s57)"/>
<polygon points="1430.1,506.2 1442.2,493.8 1454.2,481.4 1466.2,469.1 1478.2,456.7 1490.3,444.3 1502.3,432 1514.3,419.6 1526.4,407.3 1538.4,394.9 1550.4,382.5 1562.4,370.2 1574.5,357.8 1586.5,345.5 1598.5,333.1 1610.6,320.7 1622.6,308.4 1634.6,296 1646.6,283.6 1658.7,271.3 1670.7,258.9 1682.7,246.6 1694.8,234.2 1706.8,221.8 1718.8,209.5 1730.8,197.1 1742.9,184.7 1754.9,172.4 1766.9,160 1779,147.7 1791,135.3 1803,122.9 1815,110.6 1827,112.5 1815,124.9 1803,137.2 1791,149.6 1778.9,162 1766.9,174.3 1754.9,186.7 1742.8,199 1730.8,211.4 1718.8,223.7 1706.8,236.1 1694.7,248.4 1682.7,260.8 1670.7,273.1 1658.7,285.5 1646.6,297.8 1634.6,310.2 1622.6,322.5 1610.5,334.9 1598.5,347.2 1586.5,359.6 1574.5,371.9 1562.4,384.3 1550.4,396.6 1538.4,409 1526.3,421.4 1514.3,433.7 1502.3,446.1 1490.3,458.4 1478.2,470.8 1466.2,483.1 1454.2,495.5 1442.1,507.8" fill="url(#s58)" stroke="url(#s58)"/>
<polygon points="1442.1,507.8 1454.2,495.5 1466.2,483.1 1478.2,470.8 1490.3,458.4 1502.3,446.1 1514.3,433.7 1526.3,421.4 1538.4,409 1550.4,396.6 1562.4,384.3 1574.5,371.9 1586.5,359.6 1598.5,347.2 1610.5,334.9 1622.6,322.5 1634.6,310.2 1646.6,297.8 1658.7,285.5 1670.7,273.1 1682.7,260.8 1694.7,248.4 1706.8,236.1 1718.8,223.7 1730.8,211.4 1742.8,199 1754.9,186.7 1766.9,174.3 1778.9,162 1791,149.6 1803,137.2 1815,124.9 1827,112.5 1839.1,114.5 1827,126.9 1815,139.2 1803,151.5 1790.9,163.9 1778.9,176.2 1766.9,188.6 1754.9,200.9 1742.8,213.3 1730.8,225.6 1718.8,237.9 1706.7,250.3 1694.7,262.6 1682.7,275 1670.7,287.3 1658.6,299.7 1646.6,312 1634.6,324.3 1622.5,336.7 1610.5,349 1598.5,361.4 1586.5,373.7 1574.4,386.1 1562.4,398.4 1550.4,410.7 1538.4,423.1 1526.3,435.4 1514.3,447.8 1502.3,460.1 1490.2,472.5 1478.2,484.8 1466.2,497.1 1454.2,509.5" fill="url(#s59)" stroke="url(#s59)"/>
<polygon points="1454.2,509.5 1466.2,497.1 1478.2,484.8 1490.2,472.5 1502.3,460.1 1514.3,447.8 1526.3,435.4 1538.4,423.1 1550.4,410.7 1562.4,398.4 1574.4,386.1 1586.5,373.7 1598.5,361.4 1610.5,349 1622.5,336.7 1634.6,324.3 1646.6,312 1658.6,299.7 1670.7,287.3 1682.7,275 1694.7,262.6 1706.7,250.3 1718.8,237.9 1730.8,225.6 1742.8,213.3 1754.9,200.9 1766.9,188.6 1778.9,176.2 1790.9,163.9 1803,151.5 1815,139.2 1827,126.9 1839.1,114.5 1851.1,116.5 1839,128.8 1827,141.1 1815,153.5 1803,165.8 1790.9,178.1 1778.9,190.5 1766.9,202.8 1754.8,215.1 1742.8,227.5 1730.8,239.8 1718.8,252.1 1706.7,264.5 1694.7,276.8 1682.7,289.1 1670.6,301.5 1658.6,313.8 1646.6,326.1 1634.6,338.5 1622.5,350.8 1610.5,363.1 1598.5,375.5 1586.4,387.8 1574.4,400.1 1562.4,412.5 1550.4,424.8 1538.3,437.1 1526.3,449.5 1514.3,461.8 1502.3,474.1 1490.2,486.5 1478.2,498.8 1466.2,511.1" fill="url(#s60)" stroke="url(#s60)"/>
<polygon points="1466.2,511.1 1478.2,498.8 1490.2,486.5 1502.3,474.1 1514.3,461.8 1526.3,449.5 1538.3,437.1 1550.4,424.8 1562.4,412.5 1574.4,400.1 1586.4,387.8 1598.5,375.5 1610.5,363.1 1622.5,350.8 1634.6,338.5 1646.6,326.1 1658.6,313.8 1670.6,301.5 1682.7,289.1 1694.7,276.8 1706.7,264.5 1718.8,252.1 1730.8,239.8 1742.8,227.5 1754.8,215.1 1766.9,202.8 1778.9,190.5 1790.9,178.1 1803,165.8 1815,153.5 1827,141.1 1839,128.8 1851.1,116.5 1863.1,118.4 1851.1,130.8 1839,143.1 1827,155.4 1815,167.7 1802.9,180.1 1790.9,192.4 1778.9,204.7 1766.9,217 1754.8,229.4 1742.8,241.7 1730.8,254 1718.7,266.3 1706.7,278.7 1694.7,291 1682.7,303.3 1670.6,315.6 1658.6,327.9 1646.6,340.3 1634.5,352.6 1622.5,364.9 1610.5,377.2 1598.5,389.6 1586.4,401.9 1574.4,414.2 1562.4,426.5 1550.3,438.9 1538.3,451.2 1526.3,463.5 1514.3,475.8 1502.2,488.2 1490.2,500.5 1478.2,512.8" fill="url(#s61)" stroke="url(#s61)"/>
<polygon points="1478.2,512.8 1490.2,500.5 1502.2,488.2 1514.3,475.8 1526.3,463.5 1538.3,451.2 1550.3,438.9 1562.4,426.5 1574.4,414.2 1586.4,401.9 1598.5,389.6 1610.5,377.2 1622.5,364.9 1634.5,352.6 1646.6,340.3 1658.6,327.9 1670.6,315.6 1682.7,303.3 1694.7,291 1706.7,278.7 1718.7,266.3 1730.8,254 1742.8,241.7 1754.8,229.4 1766.9,217 1778.9,204.7 1790.9,192.4 1802.9,180.1 1815,167.7 1827,155.4 1839,143.1 1851.1,130.8 1863.1,118.4 1875.1,120.4 1863.1,132.7 1851,145 1839,157.4 1827,169.7 1815,182 1802.9,194.3 1790.9,206.6 1778.9,218.9 1766.8,231.2 1754.8,243.6 1742.8,255.9 1730.8,268.2 1718.7,280.5 1706.7,292.8 1694.7,305.1 1682.6,317.4 1670.6,329.8 1658.6,342.1 1646.6,354.4 1634.5,366.7 1622.5,379 1610.5,391.3 1598.4,403.6 1586.4,416 1574.4,428.3 1562.4,440.6 1550.3,452.9 1538.3,465.2 1526.3,477.5 1514.2,489.8 1502.2,502.2 1490.2,514.5" fill="url(#s62)" stroke="url(#s62)"/>
</g>
<g class="ms">
<polyline points="1105.8,461.2 1117.8,448.6 1129.8,436 1141.9,423.4 1153.9,410.8 1165.9,398.1 1178,385.5 1190,372.9 1202,360.3 1214,347.7 1226.1,335.1 1238.1,322.4 1250.1,309.8 1262.2,297.2 1274.2,284.6 1286.2,272 1298.2,259.4 1310.3,246.7 1322.3,234.1 1334.3,221.5 1346.4,208.9 1358.4,196.3 1370.4,183.7 1382.4,171 1394.5,158.4 1406.5,145.8 1418.5,133.2 1430.6,120.6 1442.6,108 1454.6,95.3 1466.6,82.7 1478.7,70.1 1490.7,57.5"/>
<polyline points="1117.8,462.9 1129.8,450.3 1141.9,437.7 1153.9,425.1 1165.9,412.5 1177.9,399.9 1190,387.3 1202,374.6 1214,362 1226.1,349.4 1238.1,336.8 1250.1,324.2 1262.1,311.6 1274.2,299 1286.2,286.4 1298.2,273.8 1310.3,261.2 1322.3,248.6 1334.3,236 1346.3,223.4 1358.4,210.7 1370.4,198.1 1382.4,185.5 1394.5,172.9 1406.5,160.3 1418.5,147.7 1430.5,135.1 1442.6,122.5 1454.6,109.9 1466.6,97.3 1478.7,84.7 1490.7,72.1 1502.7,59.5"/>
<polyline points="1129.8,464.6 1141.8,452 1153.9,439.4 1165.9,426.8 1177.9,414.2 1190,401.6 1202,389 1214,376.4 1226,363.8 1238.1,351.2 1250.1,338.6 1262.1,326 1274.2,313.4 1286.2,300.8 1298.2,288.2 1310.2,275.6 1322.3,263 1334.3,250.4 1346.3,237.8 1358.4,225.2 1370.4,212.6 1382.4,200 1394.4,187.4 1406.5,174.8 1418.5,162.2 1430.5,149.6 1442.5,137 1454.6,124.4 1466.6,111.8 1478.6,99.2 1490.7,86.6 1502.7,74 1514.7,61.4"/>
<polyline points="1141.8,466.2 1153.9,453.6 1165.9,441 1177.9,428.5 1189.9,415.9 1202,403.3 1214,390.7 1226,378.1 1238.1,365.5 1250.1,352.9 1262.1,340.3 1274.1,327.8 1286.2,315.2 1298.2,302.6 1310.2,290 1322.2,277.4 1334.3,264.8 1346.3,252.2 1358.3,239.6 1370.4,227 1382.4,214.5 1394.4,201.9 1406.4,189.3 1418.5,176.7 1430.5,164.1 1442.5,151.5 1454.6,138.9 1466.6,126.3 1478.6,113.7 1490.6,101.2 1502.7,88.6 1514.7,76 1526.7,63.4"/>
<polyline points="1153.8,467.9 1165.9,455.3 1177.9,442.7 1189.9,430.2 1202,417.6 1214,405 1226,392.4 1238,379.8 1250.1,367.3 1262.1,354.7 1274.1,342.1 1286.1,329.5 1298.2,316.9 1310.2,304.4 1322.2,291.8 1334.3,279.2 1346.3,266.6 1358.3,254 1370.3,241.5 1382.4,228.9 1394.4,216.3 1406.4,203.7 1418.5,191.1 1430.5,178.6 1442.5,166 1454.5,153.4 1466.6,140.8 1478.6,128.3 1490.6,115.7 1502.7,103.1 1514.7,90.5 1526.7,77.9 1538.7,65.4"/>
<polyline points="1165.8,469.6 1177.9,457 1189.9,444.4 1201.9,431.8 1214,419.3 1226,406.7 1238,394.1 1250,381.6 1262.1,369 1274.1,356.4 1286.1,343.9 1298.2,331.3 1310.2,318.7 1322.2,306.1 1334.2,293.6 1346.3,281 1358.3,268.4 1370.3,255.9 1382.4,243.3 1394.4,230.7 1406.4,218.2 1418.4,205.6 1430.5,193 1442.5,180.4 1454.5,167.9 1466.6,155.3 1478.6,142.7 1490.6,130.2 1502.6,117.6 1514.7,105 1526.7,92.5 1538.7,79.9 1550.8,67.3"/>
<polyline points="1177.9,471.2 1189.9,458.7 1201.9,446.1 1213.9,433.5 1226,421 1238,408.4 1250,395.9 1262.1,383.3 1274.1,370.7 1286.1,358.2 1298.1,345.6 1310.2,333.1 1322.2,320.5 1334.2,307.9 1346.3,295.4 1358.3,282.8 1370.3,270.3 1382.3,257.7 1394.4,245.1 1406.4,232.6 1418.4,220 1430.5,207.5 1442.5,194.9 1454.5,182.3 1466.5,169.8 1478.6,157.2 1490.6,144.7 1502.6,132.1 1514.7,119.5 1526.7,107 1538.7,94.4 1550.7,81.8 1562.8,69.3"/>
<polyline points="1189.9,472.9 1201.9,460.3 1213.9,447.8 1226,435.2 1238,422.7 1250,410.1 1262,397.6 1274.1,385 1286.1,372.5 1298.1,359.9 1310.2,347.4 1322.2,334.8 1334.2,322.3 1346.2,309.7 1358.3,297.2 1370.3,284.6 1382.3,272.1 1394.4,259.5 1406.4,247 1418.4,234.4 1430.4,221.9 1442.5,209.3 1454.5,196.8 1466.5,184.2 1478.6,171.7 1490.6,159.1 1502.6,146.6 1514.6,134 1526.7,121.5 1538.7,108.9 1550.7,96.4 1562.8,83.8 1574.8,71.3"/>
<polyline points="1201.9,474.5 1213.9,462 1225.9,449.5 1238,436.9 1250,424.4 1262,411.8 1274.1,399.3 1286.1,386.8 1298.1,374.2 1310.1,361.7 1322.2,349.1 1334.2,336.6 1346.2,324 1358.3,311.5 1370.3,299 1382.3,286.4 1394.3,273.9 1406.4,261.3 1418.4,248.8 1430.4,236.3 1442.5,223.7 1454.5,211.2 1466.5,198.6 1478.5,186.1 1490.6,173.6 1502.6,161 1514.6,148.5 1526.7,135.9 1538.7,123.4 1550.7,110.8 1562.7,98.3 1574.8,85.8 1586.8,73.2"/>
<polyline points="1213.9,476.2 1225.9,463.7 1238,451.1 1250,438.6 1262,426.1 1274,413.5 1286.1,401 1298.1,388.5 1310.1,376 1322.2,363.4 1334.2,350.9 1346.2,338.4 1358.2,325.8 1370.3,313.3 1382.3,300.8 1394.3,288.2 1406.4,275.7 1418.4,263.2 1430.4,250.6 1442.4,238.1 1454.5,225.6 1466.5,213 1478.5,200.5 1490.6,188 1502.6,175.4 1514.6,162.9 1526.6,150.4 1538.7,137.8 1550.7,125.3 1562.7,112.8 1574.8,100.3 1586.8,87.7 1598.8,75.2"/>
<polyline points="1225.9,477.9 1237.9,465.3 1250,452.8 1262,440.3 1274,427.8 1286.1,415.3 1298.1,402.7 1310.1,390.2 1322.1,377.7 1334.2,365.2 1346.2,352.6 1358.2,340.1 1370.3,327.6 1382.3,315.1 1394.3,302.6 1406.3,290 1418.4,277.5 1430.4,265 1442.4,252.5 1454.5,239.9 1466.5,227.4 1478.5,214.9 1490.5,202.4 1502.6,189.9 1514.6,177.3 1526.6,164.8 1538.7,152.3 1550.7,139.8 1562.7,127.2 1574.7,114.7 1586.8,102.2 1598.8,89.7 1610.8,77.2"/>
<polyline points="1237.9,479.5 1250,467 1262,454.5 1274,442 1286,429.5 1298.1,417 1310.1,404.5 1322.1,391.9 1334.2,379.4 1346.2,366.9 1358.2,354.4 1370.2,341.9 1382.3,329.4 1394.3,316.9 1406.3,304.4 1418.4,291.8 1430.4,279.3 1442.4,266.8 1454.4,254.3 1466.5,241.8 1478.5,229.3 1490.5,216.8 1502.5,204.2 1514.6,191.7 1526.6,179.2 1538.6,166.7 1550.7,154.2 1562.7,141.7 1574.7,129.2 1586.7,116.7 1598.8,104.1 1610.8,91.6 1622.8,79.1"/>
<polyline points="1249.9,481.2 1262,468.7 1274,456.2 1286,443.7 1298.1,431.2 1310.1,418.7 1322.1,406.2 1334.1,393.7 1346.2,381.2 1358.2,368.7 1370.2,356.2 1382.3,343.7 1394.3,331.2 1406.3,318.7 1418.3,306.1 1430.4,293.6 1442.4,281.1 1454.4,268.6 1466.4,256.1 1478.5,243.6 1490.5,231.1 1502.5,218.6 1514.6,206.1 1526.6,193.6 1538.6,181.1 1550.6,168.6 1562.7,156.1 1574.7,143.6 1586.7,131.1 1598.8,118.6 1610.8,106.1 1622.8,93.6 1634.8,81.1"/>
<polyline points="1262,482.9 1274,470.4 1286,457.9 1298,445.4 1310.1,432.9 1322.1,420.4 1334.1,407.9 1346.1,395.4 1358.2,382.9 1370.2,370.4 1382.2,357.9 1394.3,345.4 1406.3,332.9 1418.3,320.4 1430.3,307.9 1442.4,295.5 1454.4,283 1466.4,270.5 1478.5,258 1490.5,245.5 1502.5,233 1514.5,220.5 1526.6,208 1538.6,195.5 1550.6,183 1562.7,170.5 1574.7,158 1586.7,145.5 1598.7,133 1610.8,120.5 1622.8,108 1634.8,95.5 1646.9,83.1"/>
<polyline points="1274,484.5 1286,472 1298,459.6 1310,447.1 1322.1,434.6 1334.1,422.1 1346.1,409.6 1358.2,397.1 1370.2,384.6 1382.2,372.2 1394.2,359.7 1406.3,347.2 1418.3,334.7 1430.3,322.2 1442.4,309.7 1454.4,297.3 1466.4,284.8 1478.4,272.3 1490.5,259.8 1502.5,247.3 1514.5,234.8 1526.6,222.3 1538.6,209.9 1550.6,197.4 1562.6,184.9 1574.7,172.4 1586.7,159.9 1598.7,147.4 1610.8,135 1622.8,122.5 1634.8,110 1646.8,97.5 1658.9,85"/>
<polyline points="1286,486.2 1298,473.7 1310,461.2 1322.1,448.8 1334.1,436.3 1346.1,423.8 1358.1,411.3 1370.2,398.9 1382.2,386.4 1394.2,373.9 1406.3,361.4 1418.3,349 1430.3,336.5 1442.3,324 1454.4,311.5 1466.4,299.1 1478.4,286.6 1490.5,274.1 1502.5,261.6 1514.5,249.2 1526.5,236.7 1538.6,224.2 1550.6,211.7 1562.6,199.3 1574.7,186.8 1586.7,174.3 1598.7,161.8 1610.7,149.4 1622.8,136.9 1634.8,124.4 1646.8,111.9 1658.9,99.5 1670.9,87"/>
<polyline points="1298,487.9 1310,475.4 1322,462.9 1334.1,450.5 1346.1,438 1358.1,425.5 1370.2,413.1 1382.2,400.6 1394.2,388.1 1406.2,375.7 1418.3,363.2 1430.3,350.7 1442.3,338.3 1454.4,325.8 1466.4,313.3 1478.4,300.9 1490.4,288.4 1502.5,275.9 1514.5,263.5 1526.5,251 1538.6,238.5 1550.6,226.1 1562.6,213.6 1574.6,201.1 1586.7,188.7 1598.7,176.2 1610.7,163.7 1622.8,151.3 1634.8,138.8 1646.8,126.3 1658.8,113.9 1670.9,101.4 1682.9,89"/>
<polyline points="1310,489.5 1322,477.1 1334.1,464.6 1346.1,452.1 1358.1,439.7 1370.1,427.2 1382.2,414.8 1394.2,402.3 1406.2,389.9 1418.3,377.4 1430.3,365 1442.3,352.5 1454.3,340 1466.4,327.6 1478.4,315.1 1490.4,302.7 1502.5,290.2 1514.5,277.8 1526.5,265.3 1538.5,252.8 1550.6,240.4 1562.6,227.9 1574.6,215.5 1586.7,203 1598.7,190.6 1610.7,178.1 1622.7,165.7 1634.8,153.2 1646.8,140.7 1658.8,128.3 1670.9,115.8 1682.9,103.4 1694.9,90.9"/>
<polyline points="1322,491.2 1334,478.7 1346.1,466.3 1358.1,453.8 1370.1,441.4 1382.2,428.9 1394.2,416.5 1406.2,404.1 1418.2,391.6 1430.3,379.2 1442.3,366.7 1454.3,354.3 1466.4,341.8 1478.4,329.4 1490.4,316.9 1502.4,304.5 1514.5,292 1526.5,279.6 1538.5,267.1 1550.6,254.7 1562.6,242.2 1574.6,229.8 1586.6,217.4 1598.7,204.9 1610.7,192.5 1622.7,180 1634.8,167.6 1646.8,155.1 1658.8,142.7 1670.8,130.2 1682.9,117.8 1694.9,105.3 1706.9,92.9"/>
<polyline points="1334,492.8 1346.1,480.4 1358.1,468 1370.1,455.5 1382.1,443.1 1394.2,430.7 1406.2,418.2 1418.2,405.8 1430.3,393.3 1442.3,380.9 1454.3,368.5 1466.3,356 1478.4,343.6 1490.4,331.2 1502.4,318.7 1514.5,306.3 1526.5,293.8 1538.5,281.4 1550.5,269 1562.6,256.5 1574.6,244.1 1586.6,231.7 1598.7,219.2 1610.7,206.8 1622.7,194.3 1634.7,181.9 1646.8,169.5 1658.8,157 1670.8,144.6 1682.8,132.2 1694.9,119.7 1706.9,107.3 1718.9,94.8"/>
<polyline points="1346,494.5 1358.1,482.1 1370.1,469.7 1382.1,457.2 1394.2,444.8 1406.2,432.4 1418.2,419.9 1430.2,407.5 1442.3,395.1 1454.3,382.7 1466.3,370.2 1478.4,357.8 1490.4,345.4 1502.4,332.9 1514.4,320.5 1526.5,308.1 1538.5,295.7 1550.5,283.2 1562.5,270.8 1574.6,258.4 1586.6,245.9 1598.6,233.5 1610.7,221.1 1622.7,208.7 1634.7,196.2 1646.7,183.8 1658.8,171.4 1670.8,159 1682.8,146.5 1694.9,134.1 1706.9,121.7 1718.9,109.2 1730.9,96.8"/>
<polyline points="1358.1,496.2 1370.1,483.8 1382.1,471.3 1394.1,458.9 1406.2,446.5 1418.2,434.1 1430.2,421.7 1442.3,409.2 1454.3,396.8 1466.3,384.4 1478.3,372 1490.4,359.6 1502.4,347.2 1514.4,334.7 1526.4,322.3 1538.5,309.9 1550.5,297.5 1562.5,285.1 1574.6,272.6 1586.6,260.2 1598.6,247.8 1610.6,235.4 1622.7,223 1634.7,210.5 1646.7,198.1 1658.8,185.7 1670.8,173.3 1682.8,160.9 1694.8,148.5 1706.9,136 1718.9,123.6 1730.9,111.2 1743,98.8"/>
<polyline points="1370.1,497.8 1382.1,485.4 1394.1,473 1406.1,460.6 1418.2,448.2 1430.2,435.8 1442.2,423.4 1454.3,411 1466.3,398.6 1478.3,386.2 1490.3,373.7 1502.4,361.3 1514.4,348.9 1526.4,336.5 1538.5,324.1 1550.5,311.7 1562.5,299.3 1574.5,286.9 1586.6,274.5 1598.6,262.1 1610.6,249.7 1622.7,237.2 1634.7,224.8 1646.7,212.4 1658.7,200 1670.8,187.6 1682.8,175.2 1694.8,162.8 1706.9,150.4 1718.9,138 1730.9,125.6 1742.9,113.2 1755,100.7"/>
<polyline points="1382.1,499.5 1394.1,487.1 1406.1,474.7 1418.2,462.3 1430.2,449.9 1442.2,437.5 1454.2,425.1 1466.3,412.7 1478.3,400.3 1490.3,387.9 1502.4,375.5 1514.4,363.1 1526.4,350.7 1538.4,338.3 1550.5,325.9 1562.5,313.5 1574.5,301.1 1586.6,288.7 1598.6,276.3 1610.6,263.9 1622.6,251.5 1634.7,239.1 1646.7,226.7 1658.7,214.3 1670.8,201.9 1682.8,189.5 1694.8,177.1 1706.8,164.7 1718.9,152.3 1730.9,139.9 1742.9,127.5 1755,115.1 1767,102.7"/>
<polyline points="1394.1,501.2 1406.1,488.8 1418.1,476.4 1430.2,464 1442.2,451.6 1454.2,439.2 1466.3,426.8 1478.3,414.4 1490.3,402 1502.3,389.7 1514.4,377.3 1526.4,364.9 1538.4,352.5 1550.5,340.1 1562.5,327.7 1574.5,315.3 1586.5,302.9 1598.6,290.5 1610.6,278.1 1622.6,265.8 1634.7,253.4 1646.7,241 1658.7,228.6 1670.7,216.2 1682.8,203.8 1694.8,191.4 1706.8,179 1718.9,166.6 1730.9,154.2 1742.9,141.8 1754.9,129.5 1767,117.1 1779,104.7"/>
<polyline points="1406.1,502.8 1418.1,490.4 1430.2,478.1 1442.2,465.7 1454.2,453.3 1466.2,440.9 1478.3,428.5 1490.3,416.2 1502.3,403.8 1514.4,391.4 1526.4,379 1538.4,366.6 1550.4,354.3 1562.5,341.9 1574.5,329.5 1586.5,317.1 1598.6,304.7 1610.6,292.4 1622.6,280 1634.6,267.6 1646.7,255.2 1658.7,242.8 1670.7,230.5 1682.8,218.1 1694.8,205.7 1706.8,193.3 1718.8,180.9 1730.9,168.5 1742.9,156.2 1754.9,143.8 1767,131.4 1779,119 1791,106.6"/>
<polyline points="1418.1,504.5 1430.1,492.1 1442.2,479.7 1454.2,467.4 1466.2,455 1478.3,442.6 1490.3,430.3 1502.3,417.9 1514.3,405.5 1526.4,393.1 1538.4,380.8 1550.4,368.4 1562.5,356 1574.5,343.7 1586.5,331.3 1598.5,318.9 1610.6,306.6 1622.6,294.2 1634.6,281.8 1646.7,269.4 1658.7,257.1 1670.7,244.7 1682.7,232.3 1694.8,220 1706.8,207.6 1718.8,195.2 1730.9,182.8 1742.9,170.5 1754.9,158.1 1766.9,145.7 1779,133.4 1791,121 1803,108.6"/>
<polyline points="1430.1,506.2 1442.2,493.8 1454.2,481.4 1466.2,469.1 1478.2,456.7 1490.3,444.3 1502.3,432 1514.3,419.6 1526.4,407.3 1538.4,394.9 1550.4,382.5 1562.4,370.2 1574.5,357.8 1586.5,345.5 1598.5,333.1 1610.6,320.7 1622.6,308.4 1634.6,296 1646.6,283.6 1658.7,271.3 1670.7,258.9 1682.7,246.6 1694.8,234.2 1706.8,221.8 1718.8,209.5 1730.8,197.1 1742.9,184.7 1754.9,172.4 1766.9,160 1779,147.7 1791,135.3 1803,122.9 1815,110.6"/>
<polyline points="1442.1,507.8 1454.2,495.5 1466.2,483.1 1478.2,470.8 1490.3,458.4 1502.3,446.1 1514.3,433.7 1526.3,421.4 1538.4,409 1550.4,396.6 1562.4,384.3 1574.5,371.9 1586.5,359.6 1598.5,347.2 1610.5,334.9 1622.6,322.5 1634.6,310.2 1646.6,297.8 1658.7,285.5 1670.7,273.1 1682.7,260.8 1694.7,248.4 1706.8,236.1 1718.8,223.7 1730.8,211.4 1742.8,199 1754.9,186.7 1766.9,174.3 1778.9,162 1791,149.6 1803,137.2 1815,124.9 1827,112.5"/>
<polyline points="1454.2,509.5 1466.2,497.1 1478.2,484.8 1490.2,472.5 1502.3,460.1 1514.3,447.8 1526.3,435.4 1538.4,423.1 1550.4,410.7 1562.4,398.4 1574.4,386.1 1586.5,373.7 1598.5,361.4 1610.5,349 1622.5,336.7 1634.6,324.3 1646.6,312 1658.6,299.7 1670.7,287.3 1682.7,275 1694.7,262.6 1706.7,250.3 1718.8,237.9 1730.8,225.6 1742.8,213.3 1754.9,200.9 1766.9,188.6 1778.9,176.2 1790.9,163.9 1803,151.5 1815,139.2 1827,126.9 1839.1,114.5"/>
<polyline points="1466.2,511.1 1478.2,498.8 1490.2,486.5 1502.3,474.1 1514.3,461.8 1526.3,449.5 1538.3,437.1 1550.4,424.8 1562.4,412.5 1574.4,400.1 1586.4,387.8 1598.5,375.5 1610.5,363.1 1622.5,350.8 1634.6,338.5 1646.6,326.1 1658.6,313.8 1670.6,301.5 1682.7,289.1 1694.7,276.8 1706.7,264.5 1718.8,252.1 1730.8,239.8 1742.8,227.5 1754.8,215.1 1766.9,202.8 1778.9,190.5 1790.9,178.1 1803,165.8 1815,153.5 1827,141.1 1839,128.8 1851.1,116.5"/>
<polyline points="1478.2,512.8 1490.2,500.5 1502.2,488.2 1514.3,475.8 1526.3,463.5 1538.3,451.2 1550.3,438.9 1562.4,426.5 1574.4,414.2 1586.4,401.9 1598.5,389.6 1610.5,377.2 1622.5,364.9 1634.5,352.6 1646.6,340.3 1658.6,327.9 1670.6,315.6 1682.7,303.3 1694.7,291 1706.7,278.7 1718.7,266.3 1730.8,254 1742.8,241.7 1754.8,229.4 1766.9,217 1778.9,204.7 1790.9,192.4 1802.9,180.1 1815,167.7 1827,155.4 1839,143.1 1851.1,130.8 1863.1,118.4"/>
<polyline points="1490.2,514.5 1502.2,502.2 1514.2,489.8 1526.3,477.5 1538.3,465.2 1550.3,452.9 1562.4,440.6 1574.4,428.3 1586.4,416 1598.4,403.6 1610.5,391.3 1622.5,379 1634.5,366.7 1646.6,354.4 1658.6,342.1 1670.6,329.8 1682.6,317.4 1694.7,305.1 1706.7,292.8 1718.7,280.5 1730.8,268.2 1742.8,255.9 1754.8,243.6 1766.8,231.2 1778.9,218.9 1790.9,206.6 1802.9,194.3 1815,182 1827,169.7 1839,157.4 1851,145 1863.1,132.7 1875.1,120.4"/>
<polyline points="1105.8,461.2 1117.8,462.9 1129.8,464.6 1141.8,466.2 1153.8,467.9 1165.8,469.6 1177.9,471.2 1189.9,472.9 1201.9,474.5 1213.9,476.2 1225.9,477.9 1237.9,479.5 1249.9,481.2 1262,482.9 1274,484.5 1286,486.2 1298,487.9 1310,489.5 1322,491.2 1334,492.8 1346,494.5 1358.1,496.2 1370.1,497.8 1382.1,499.5 1394.1,501.2 1406.1,502.8 1418.1,504.5 1430.1,506.2 1442.1,507.8 1454.2,509.5 1466.2,511.1 1478.2,512.8 1490.2,514.5"/>
<polyline points="1117.8,448.6 1129.8,450.3 1141.8,452 1153.9,453.6 1165.9,455.3 1177.9,457 1189.9,458.7 1201.9,460.3 1213.9,462 1225.9,463.7 1237.9,465.3 1250,467 1262,468.7 1274,470.4 1286,472 1298,473.7 1310,475.4 1322,477.1 1334,478.7 1346.1,480.4 1358.1,482.1 1370.1,483.8 1382.1,485.4 1394.1,487.1 1406.1,488.8 1418.1,490.4 1430.1,492.1 1442.2,493.8 1454.2,495.5 1466.2,497.1 1478.2,498.8 1490.2,500.5 1502.2,502.2"/>
<polyline points="1129.8,436 1141.9,437.7 1153.9,439.4 1165.9,441 1177.9,442.7 1189.9,444.4 1201.9,446.1 1213.9,447.8 1225.9,449.5 1238,451.1 1250,452.8 1262,454.5 1274,456.2 1286,457.9 1298,459.6 1310,461.2 1322,462.9 1334.1,464.6 1346.1,466.3 1358.1,468 1370.1,469.7 1382.1,471.3 1394.1,473 1406.1,474.7 1418.1,476.4 1430.2,478.1 1442.2,479.7 1454.2,481.4 1466.2,483.1 1478.2,484.8 1490.2,486.5 1502.2,488.2 1514.2,489.8"/>
<polyline points="1141.9,423.4 1153.9,425.1 1165.9,426.8 1177.9,428.5 1189.9,430.2 1201.9,431.8 1213.9,433.5 1226,435.2 1238,436.9 1250,438.6 1262,440.3 1274,442 1286,443.7 1298,445.4 1310,447.1 1322.1,448.8 1334.1,450.5 1346.1,452.1 1358.1,453.8 1370.1,455.5 1382.1,457.2 1394.1,458.9 1406.1,460.6 1418.2,462.3 1430.2,464 1442.2,465.7 1454.2,467.4 1466.2,469.1 1478.2,470.8 1490.2,472.5 1502.3,474.1 1514.3,475.8 1526.3,477.5"/>
<polyline points="1153.9,410.8 1165.9,412.5 1177.9,414.2 1189.9,415.9 1202,417.6 1214,419.3 1226,421 1238,422.7 1250,424.4 1262,426.1 1274,427.8 1286,429.5 1298.1,431.2 1310.1,432.9 1322.1,434.6 1334.1,436.3 1346.1,438 1358.1,439.7 1370.1,441.4 1382.1,443.1 1394.2,444.8 1406.2,446.5 1418.2,448.2 1430.2,449.9 1442.2,451.6 1454.2,453.3 1466.2,455 1478.2,456.7 1490.3,458.4 1502.3,460.1 1514.3,461.8 1526.3,463.5 1538.3,465.2"/>
<polyline points="1165.9,398.1 1177.9,399.9 1190,401.6 1202,403.3 1214,405 1226,406.7 1238,408.4 1250,410.1 1262,411.8 1274,413.5 1286.1,415.3 1298.1,417 1310.1,418.7 1322.1,420.4 1334.1,422.1 1346.1,423.8 1358.1,425.5 1370.1,427.2 1382.2,428.9 1394.2,430.7 1406.2,432.4 1418.2,434.1 1430.2,435.8 1442.2,437.5 1454.2,439.2 1466.2,440.9 1478.3,442.6 1490.3,444.3 1502.3,446.1 1514.3,447.8 1526.3,449.5 1538.3,451.2 1550.3,452.9"/>
<polyline points="1178,385.5 1190,387.3 1202,389 1214,390.7 1226,392.4 1238,394.1 1250,395.9 1262,397.6 1274.1,399.3 1286.1,401 1298.1,402.7 1310.1,404.5 1322.1,406.2 1334.1,407.9 1346.1,409.6 1358.1,411.3 1370.2,413.1 1382.2,414.8 1394.2,416.5 1406.2,418.2 1418.2,419.9 1430.2,421.7 1442.2,423.4 1454.2,425.1 1466.3,426.8 1478.3,428.5 1490.3,430.3 1502.3,432 1514.3,433.7 1526.3,435.4 1538.3,437.1 1550.3,438.9 1562.4,440.6"/>
<polyline points="1190,372.9 1202,374.6 1214,376.4 1226,378.1 1238,379.8 1250,381.6 1262.1,383.3 1274.1,385 1286.1,386.8 1298.1,388.5 1310.1,390.2 1322.1,391.9 1334.1,393.7 1346.1,395.4 1358.2,397.1 1370.2,398.9 1382.2,400.6 1394.2,402.3 1406.2,404.1 1418.2,405.8 1430.2,407.5 1442.3,409.2 1454.3,411 1466.3,412.7 1478.3,414.4 1490.3,416.2 1502.3,417.9 1514.3,419.6 1526.3,421.4 1538.4,423.1 1550.4,424.8 1562.4,426.5 1574.4,428.3"/>
<polyline points="1202,360.3 1214,362 1226,363.8 1238.1,365.5 1250.1,367.3 1262.1,369 1274.1,370.7 1286.1,372.5 1298.1,374.2 1310.1,376 1322.1,377.7 1334.2,379.4 1346.2,381.2 1358.2,382.9 1370.2,384.6 1382.2,386.4 1394.2,388.1 1406.2,389.9 1418.2,391.6 1430.3,393.3 1442.3,395.1 1454.3,396.8 1466.3,398.6 1478.3,400.3 1490.3,402 1502.3,403.8 1514.3,405.5 1526.4,407.3 1538.4,409 1550.4,410.7 1562.4,412.5 1574.4,414.2 1586.4,416"/>
<polyline points="1214,347.7 1226.1,349.4 1238.1,351.2 1250.1,352.9 1262.1,354.7 1274.1,356.4 1286.1,358.2 1298.1,359.9 1310.1,361.7 1322.2,363.4 1334.2,365.2 1346.2,366.9 1358.2,368.7 1370.2,370.4 1382.2,372.2 1394.2,373.9 1406.2,375.7 1418.3,377.4 1430.3,379.2 1442.3,380.9 1454.3,382.7 1466.3,384.4 1478.3,386.2 1490.3,387.9 1502.3,389.7 1514.4,391.4 1526.4,393.1 1538.4,394.9 1550.4,396.6 1562.4,398.4 1574.4,400.1 1586.4,401.9 1598.4,403.6"/>
<polyline points="1226.1,335.1 1238.1,336.8 1250.1,338.6 1262.1,340.3 1274.1,342.1 1286.1,343.9 1298.1,345.6 1310.2,347.4 1322.2,349.1 1334.2,350.9 1346.2,352.6 1358.2,354.4 1370.2,356.2 1382.2,357.9 1394.2,359.7 1406.3,361.4 1418.3,363.2 1430.3,365 1442.3,366.7 1454.3,368.5 1466.3,370.2 1478.3,372 1490.3,373.7 1502.4,375.5 1514.4,377.3 1526.4,379 1538.4,380.8 1550.4,382.5 1562.4,384.3 1574.4,386.1 1586.4,387.8 1598.5,389.6 1610.5,391.3"/>
<polyline points="1238.1,322.4 1250.1,324.2 1262.1,326 1274.1,327.8 1286.1,329.5 1298.2,331.3 1310.2,333.1 1322.2,334.8 1334.2,336.6 1346.2,338.4 1358.2,340.1 1370.2,341.9 1382.3,343.7 1394.3,345.4 1406.3,347.2 1418.3,349 1430.3,350.7 1442.3,352.5 1454.3,354.3 1466.3,356 1478.4,357.8 1490.4,359.6 1502.4,361.3 1514.4,363.1 1526.4,364.9 1538.4,366.6 1550.4,368.4 1562.4,370.2 1574.5,371.9 1586.5,373.7 1598.5,375.5 1610.5,377.2 1622.5,379"/>
<polyline points="1250.1,309.8 1262.1,311.6 1274.2,313.4 1286.2,315.2 1298.2,316.9 1310.2,318.7 1322.2,320.5 1334.2,322.3 1346.2,324 1358.2,325.8 1370.3,327.6 1382.3,329.4 1394.3,331.2 1406.3,332.9 1418.3,334.7 1430.3,336.5 1442.3,338.3 1454.3,340 1466.4,341.8 1478.4,343.6 1490.4,345.4 1502.4,347.2 1514.4,348.9 1526.4,350.7 1538.4,352.5 1550.4,354.3 1562.5,356 1574.5,357.8 1586.5,359.6 1598.5,361.4 1610.5,363.1 1622.5,364.9 1634.5,366.7"/>
<polyline points="1262.2,297.2 1274.2,299 1286.2,300.8 1298.2,302.6 1310.2,304.4 1322.2,306.1 1334.2,307.9 1346.2,309.7 1358.3,311.5 1370.3,313.3 1382.3,315.1 1394.3,316.9 1406.3,318.7 1418.3,320.4 1430.3,322.2 1442.3,324 1454.4,325.8 1466.4,327.6 1478.4,329.4 1490.4,331.2 1502.4,332.9 1514.4,334.7 1526.4,336.5 1538.4,338.3 1550.5,340.1 1562.5,341.9 1574.5,343.7 1586.5,345.5 1598.5,347.2 1610.5,349 1622.5,350.8 1634.5,352.6 1646.6,354.4"/>
<polyline points="1274.2,284.6 1286.2,286.4 1298.2,288.2 1310.2,290 1322.2,291.8 1334.2,293.6 1346.3,295.4 1358.3,297.2 1370.3,299 1382.3,300.8 1394.3,302.6 1406.3,304.4 1418.3,306.1 1430.3,307.9 1442.4,309.7 1454.4,311.5 1466.4,313.3 1478.4,315.1 1490.4,316.9 1502.4,318.7 1514.4,320.5 1526.4,322.3 1538.5,324.1 1550.5,325.9 1562.5,327.7 1574.5,329.5 1586.5,331.3 1598.5,333.1 1610.5,334.9 1622.5,336.7 1634.6,338.5 1646.6,340.3 1658.6,342.1"/>
<polyline points="1286.2,272 1298.2,273.8 1310.2,275.6 1322.2,277.4 1334.3,279.2 1346.3,281 1358.3,282.8 1370.3,284.6 1382.3,286.4 1394.3,288.2 1406.3,290 1418.4,291.8 1430.4,293.6 1442.4,295.5 1454.4,297.3 1466.4,299.1 1478.4,300.9 1490.4,302.7 1502.4,304.5 1514.5,306.3 1526.5,308.1 1538.5,309.9 1550.5,311.7 1562.5,313.5 1574.5,315.3 1586.5,317.1 1598.5,318.9 1610.6,320.7 1622.6,322.5 1634.6,324.3 1646.6,326.1 1658.6,327.9 1670.6,329.8"/>
<polyline points="1298.2,259.4 1310.3,261.2 1322.3,263 1334.3,264.8 1346.3,266.6 1358.3,268.4 1370.3,270.3 1382.3,272.1 1394.3,273.9 1406.4,275.7 1418.4,277.5 1430.4,279.3 1442.4,281.1 1454.4,283 1466.4,284.8 1478.4,286.6 1490.4,288.4 1502.5,290.2 1514.5,292 1526.5,293.8 1538.5,295.7 1550.5,297.5 1562.5,299.3 1574.5,301.1 1586.5,302.9 1598.6,304.7 1610.6,306.6 1622.6,308.4 1634.6,310.2 1646.6,312 1658.6,313.8 1670.6,315.6 1682.6,317.4"/>
<polyline points="1310.3,246.7 1322.3,248.6 1334.3,250.4 1346.3,252.2 1358.3,254 1370.3,255.9 1382.3,257.7 1394.4,259.5 1406.4,261.3 1418.4,263.2 1430.4,265 1442.4,266.8 1454.4,268.6 1466.4,270.5 1478.4,272.3 1490.5,274.1 1502.5,275.9 1514.5,277.8 1526.5,279.6 1538.5,281.4 1550.5,283.2 1562.5,285.1 1574.5,286.9 1586.6,288.7 1598.6,290.5 1610.6,292.4 1622.6,294.2 1634.6,296 1646.6,297.8 1658.6,299.7 1670.6,301.5 1682.7,303.3 1694.7,305.1"/>
<polyline points="1322.3,234.1 1334.3,236 1346.3,237.8 1358.3,239.6 1370.3,241.5 1382.4,243.3 1394.4,245.1 1406.4,247 1418.4,248.8 1430.4,250.6 1442.4,252.5 1454.4,254.3 1466.4,256.1 1478.5,258 1490.5,259.8 1502.5,261.6 1514.5,263.5 1526.5,265.3 1538.5,267.1 1550.5,269 1562.5,270.8 1574.6,272.6 1586.6,274.5 1598.6,276.3 1610.6,278.1 1622.6,280 1634.6,281.8 1646.6,283.6 1658.7,285.5 1670.7,287.3 1682.7,289.1 1694.7,291 1706.7,292.8"/>
<polyline points="1334.3,221.5 1346.3,223.4 1358.4,225.2 1370.4,227 1382.4,228.9 1394.4,230.7 1406.4,232.6 1418.4,234.4 1430.4,236.3 1442.4,238.1 1454.5,239.9 1466.5,241.8 1478.5,243.6 1490.5,245.5 1502.5,247.3 1514.5,249.2 1526.5,251 1538.5,252.8 1550.6,254.7 1562.6,256.5 1574.6,258.4 1586.6,260.2 1598.6,262.1 1610.6,263.9 1622.6,265.8 1634.6,267.6 1646.7,269.4 1658.7,271.3 1670.7,273.1 1682.7,275 1694.7,276.8 1706.7,278.7 1718.7,280.5"/>
<polyline points="1346.4,208.9 1358.4,210.7 1370.4,212.6 1382.4,214.5 1394.4,216.3 1406.4,218.2 1418.4,220 1430.4,221.9 1442.5,223.7 1454.5,225.6 1466.5,227.4 1478.5,229.3 1490.5,231.1 1502.5,233 1514.5,234.8 1526.5,236.7 1538.6,238.5 1550.6,240.4 1562.6,242.2 1574.6,244.1 1586.6,245.9 1598.6,247.8 1610.6,249.7 1622.6,251.5 1634.7,253.4 1646.7,255.2 1658.7,257.1 1670.7,258.9 1682.7,260.8 1694.7,262.6 1706.7,264.5 1718.7,266.3 1730.8,268.2"/>
<polyline points="1358.4,196.3 1370.4,198.1 1382.4,200 1394.4,201.9 1406.4,203.7 1418.4,205.6 1430.5,207.5 1442.5,209.3 1454.5,211.2 1466.5,213 1478.5,214.9 1490.5,216.8 1502.5,218.6 1514.5,220.5 1526.6,222.3 1538.6,224.2 1550.6,226.1 1562.6,227.9 1574.6,229.8 1586.6,231.7 1598.6,233.5 1610.6,235.4 1622.7,237.2 1634.7,239.1 1646.7,241 1658.7,242.8 1670.7,244.7 1682.7,246.6 1694.7,248.4 1706.7,250.3 1718.8,252.1 1730.8,254 1742.8,255.9"/>
<polyline points="1370.4,183.7 1382.4,185.5 1394.4,187.4 1406.4,189.3 1418.5,191.1 1430.5,193 1442.5,194.9 1454.5,196.8 1466.5,198.6 1478.5,200.5 1490.5,202.4 1502.5,204.2 1514.6,206.1 1526.6,208 1538.6,209.9 1550.6,211.7 1562.6,213.6 1574.6,215.5 1586.6,217.4 1598.7,219.2 1610.7,221.1 1622.7,223 1634.7,224.8 1646.7,226.7 1658.7,228.6 1670.7,230.5 1682.7,232.3 1694.8,234.2 1706.8,236.1 1718.8,237.9 1730.8,239.8 1742.8,241.7 1754.8,243.6"/>
<polyline points="1382.4,171 1394.5,172.9 1406.5,174.8 1418.5,176.7 1430.5,178.6 1442.5,180.4 1454.5,182.3 1466.5,184.2 1478.5,186.1 1490.6,188 1502.6,189.9 1514.6,191.7 1526.6,193.6 1538.6,195.5 1550.6,197.4 1562.6,199.3 1574.6,201.1 1586.7,203 1598.7,204.9 1610.7,206.8 1622.7,208.7 1634.7,210.5 1646.7,212.4 1658.7,214.3 1670.7,216.2 1682.8,218.1 1694.8,220 1706.8,221.8 1718.8,223.7 1730.8,225.6 1742.8,227.5 1754.8,229.4 1766.8,231.2"/>
<polyline points="1394.5,158.4 1406.5,160.3 1418.5,162.2 1430.5,164.1 1442.5,166 1454.5,167.9 1466.5,169.8 1478.6,171.7 1490.6,173.6 1502.6,175.4 1514.6,177.3 1526.6,179.2 1538.6,181.1 1550.6,183 1562.6,184.9 1574.7,186.8 1586.7,188.7 1598.7,190.6 1610.7,192.5 1622.7,194.3 1634.7,196.2 1646.7,198.1 1658.7,200 1670.8,201.9 1682.8,203.8 1694.8,205.7 1706.8,207.6 1718.8,209.5 1730.8,211.4 1742.8,213.3 1754.8,215.1 1766.9,217 1778.9,218.9"/>
<polyline points="1406.5,145.8 1418.5,147.7 1430.5,149.6 1442.5,151.5 1454.5,153.4 1466.6,155.3 1478.6,157.2 1490.6,159.1 1502.6,161 1514.6,162.9 1526.6,164.8 1538.6,166.7 1550.6,168.6 1562.7,170.5 1574.7,172.4 1586.7,174.3 1598.7,176.2 1610.7,178.1 1622.7,180 1634.7,181.9 1646.7,183.8 1658.8,185.7 1670.8,187.6 1682.8,189.5 1694.8,191.4 1706.8,193.3 1718.8,195.2 1730.8,197.1 1742.8,199 1754.9,200.9 1766.9,202.8 1778.9,204.7 1790.9,206.6"/>
<polyline points="1418.5,133.2 1430.5,135.1 1442.5,137 1454.6,138.9 1466.6,140.8 1478.6,142.7 1490.6,144.7 1502.6,146.6 1514.6,148.5 1526.6,150.4 1538.7,152.3 1550.7,154.2 1562.7,156.1 1574.7,158 1586.7,159.9 1598.7,161.8 1610.7,163.7 1622.7,165.7 1634.8,167.6 1646.8,169.5 1658.8,171.4 1670.8,173.3 1682.8,175.2 1694.8,177.1 1706.8,179 1718.8,180.9 1730.9,182.8 1742.9,184.7 1754.9,186.7 1766.9,188.6 1778.9,190.5 1790.9,192.4 1802.9,194.3"/>
<polyline points="1430.6,120.6 1442.6,122.5 1454.6,124.4 1466.6,126.3 1478.6,128.3 1490.6,130.2 1502.6,132.1 1514.6,134 1526.7,135.9 1538.7,137.8 1550.7,139.8 1562.7,141.7 1574.7,143.6 1586.7,145.5 1598.7,147.4 1610.7,149.4 1622.8,151.3 1634.8,153.2 1646.8,155.1 1658.8,157 1670.8,159 1682.8,160.9 1694.8,162.8 1706.8,164.7 1718.9,166.6 1730.9,168.5 1742.9,170.5 1754.9,172.4 1766.9,174.3 1778.9,176.2 1790.9,178.1 1802.9,180.1 1815,182"/>
<polyline points="1442.6,108 1454.6,109.9 1466.6,111.8 1478.6,113.7 1490.6,115.7 1502.6,117.6 1514.7,119.5 1526.7,121.5 1538.7,123.4 1550.7,125.3 1562.7,127.2 1574.7,129.2 1586.7,131.1 1598.7,133 1610.8,135 1622.8,136.9 1634.8,138.8 1646.8,140.7 1658.8,142.7 1670.8,144.6 1682.8,146.5 1694.8,148.5 1706.9,150.4 1718.9,152.3 1730.9,154.2 1742.9,156.2 1754.9,158.1 1766.9,160 1778.9,162 1790.9,163.9 1803,165.8 1815,167.7 1827,169.7"/>
<polyline points="1454.6,95.3 1466.6,97.3 1478.6,99.2 1490.6,101.2 1502.7,103.1 1514.7,105 1526.7,107 1538.7,108.9 1550.7,110.8 1562.7,112.8 1574.7,114.7 1586.7,116.7 1598.8,118.6 1610.8,120.5 1622.8,122.5 1634.8,124.4 1646.8,126.3 1658.8,128.3 1670.8,130.2 1682.8,132.2 1694.9,134.1 1706.9,136 1718.9,138 1730.9,139.9 1742.9,141.8 1754.9,143.8 1766.9,145.7 1779,147.7 1791,149.6 1803,151.5 1815,153.5 1827,155.4 1839,157.4"/>
<polyline points="1466.6,82.7 1478.7,84.7 1490.7,86.6 1502.7,88.6 1514.7,90.5 1526.7,92.5 1538.7,94.4 1550.7,96.4 1562.7,98.3 1574.8,100.3 1586.8,102.2 1598.8,104.1 1610.8,106.1 1622.8,108 1634.8,110 1646.8,111.9 1658.8,113.9 1670.9,115.8 1682.9,117.8 1694.9,119.7 1706.9,121.7 1718.9,123.6 1730.9,125.6 1742.9,127.5 1754.9,129.5 1767,131.4 1779,133.4 1791,135.3 1803,137.2 1815,139.2 1827,141.1 1839,143.1 1851,145"/>
<polyline points="1478.7,70.1 1490.7,72.1 1502.7,74 1514.7,76 1526.7,77.9 1538.7,79.9 1550.7,81.8 1562.8,83.8 1574.8,85.8 1586.8,87.7 1598.8,89.7 1610.8,91.6 1622.8,93.6 1634.8,95.5 1646.8,97.5 1658.9,99.5 1670.9,101.4 1682.9,103.4 1694.9,105.3 1706.9,107.3 1718.9,109.2 1730.9,111.2 1742.9,113.2 1755,115.1 1767,117.1 1779,119 1791,121 1803,122.9 1815,124.9 1827,126.9 1839,128.8 1851.1,130.8 1863.1,132.7"/>
<polyline points="1490.7,57.5 1502.7,59.5 1514.7,61.4 1526.7,63.4 1538.7,65.4 1550.8,67.3 1562.8,69.3 1574.8,71.3 1586.8,73.2 1598.8,75.2 1610.8,77.2 1622.8,79.1 1634.8,81.1 1646.9,83.1 1658.9,85 1670.9,87 1682.9,89 1694.9,90.9 1706.9,92.9 1718.9,94.8 1730.9,96.8 1743,98.8 1755,100.7 1767,102.7 1779,104.7 1791,106.6 1803,108.6 1815,110.6 1827,112.5 1839.1,114.5 1851.1,116.5 1863.1,118.4 1875.1,120.4"/>
</g>
<line class="ax2" x1="1083.3" y1="498.3" x2="1083.3" y2="71.3"/>
<line class="ax2" x1="1905" y1="498.3" x2="1905" y2="71.3"/>
<line class="ax" x1="1083.3" y1="71.3" x2="1492.8" y2="1.4"/>
<line class="ax" x1="1492.8" y1="1.4" x2="1905" y2="71.3"/>
<line class="ax" x1="1083.3" y1="498.3" x2="1495" y2="569.8"/>
<line class="ax" x1="1495" y1="569.8" x2="1905" y2="498.3"/>
<line class="ax" x1="1097.5" y1="500.8" x2="1097.5" y2="511.8"/>
<line class="ax" x1="1193.2" y1="517.4" x2="1193.2" y2="528.4"/>
<line class="ax" x1="1289" y1="534" x2="1289" y2="545"/>
<line class="ax" x1="1384.7" y1="550.6" x2="1384.7" y2="561.6"/>
<line class="ax" x1="1480.4" y1="567.3" x2="1480.4" y2="578.3"/>
<line class="ax" x1="1513.4" y1="566.6" x2="1513.4" y2="577.6"/>
<line class="ax" x1="1637.4" y1="545" x2="1637.4" y2="556"/>
<line class="ax" x1="1761.4" y1="523.3" x2="1761.4" y2="534.3"/>
<line class="ax" x1="1885.4" y1="501.7" x2="1885.4" y2="512.7"/>
<line class="ax" x1="1083.3" y1="498.3" x2="1072.8" y2="496.5"/>
<line class="ax" x1="1083.3" y1="356" x2="1072.8" y2="354.2"/>
<line class="ax" x1="1083.3" y1="213.6" x2="1072.8" y2="211.8"/>
<line class="ax" x1="1083.3" y1="71.3" x2="1072.8" y2="69.5"/>
<line class="st" x1="1105.7" y1="417.5" x2="1105.7" y2="461.3"/>
<circle class="p" cx="1105.7" cy="417.5" r="6.0"/>
<line class="st" x1="1176.9" y1="362.7" x2="1176.9" y2="387"/>
<circle class="p" cx="1176.9" cy="362.7" r="6.0"/>
<circle class="p" cx="1206.4" cy="351.5" r="6.0"/>
<line class="st" x1="1237.4" y1="311.2" x2="1237.4" y2="323.7"/>
<circle class="p" cx="1237.4" cy="311.2" r="6.0"/>
<circle class="p" cx="1278.9" cy="278.3" r="6.0"/>
<line class="st" x1="1288.2" y1="246.5" x2="1288.2" y2="269.5"/>
<circle class="p" cx="1288.2" cy="246.5" r="6.0"/>
<line class="st" x1="1313.3" y1="201.6" x2="1313.3" y2="260"/>
<circle class="p" cx="1313.3" cy="201.6" r="6.0"/>
<line class="st" x1="1325" y1="127.4" x2="1325" y2="231.2"/>
<circle class="p" cx="1325" cy="127.4" r="6.0"/>
<path class="ph" d="M1344.9 215.7 A6.0 6.0 0 1 0 1338.3 221.2 Z"/>
<line class="st" x1="1349.5" y1="286.7" x2="1349.5" y2="320"/>
<circle class="p" cx="1349.5" cy="286.7" r="6.0"/>
<line class="st" x1="1375.9" y1="151.7" x2="1375.9" y2="178.2"/>
<circle class="p" cx="1375.9" cy="151.7" r="6.0"/>
<line class="st" x1="1397.2" y1="254.6" x2="1397.2" y2="270.8"/>
<circle class="p" cx="1397.2" cy="254.6" r="6.0"/>
<line class="st" x1="1416.8" y1="234" x2="1416.8" y2="250.3"/>
<circle class="p" cx="1416.8" cy="234" r="6.0"/>
<circle class="p" cx="1436.8" cy="222.6" r="6.0"/>
<circle class="p" cx="1465" cy="196.5" r="6.0"/>
<circle class="p" cx="1472" cy="186.7" r="6.0"/>
<line class="st" x1="1488.1" y1="145.1" x2="1488.1" y2="176"/>
<circle class="p" cx="1488.1" cy="145.1" r="6.0"/>
<path class="ph" d="M1487.3 184.5 A6.0 6.0 0 0 0 1481.3 189.5 Z"/>
<line class="st" x1="1529.8" y1="115.6" x2="1529.8" y2="133"/>
<circle class="p" cx="1529.8" cy="115.6" r="6.0"/>
<circle class="p" cx="1555.2" cy="219" r="6.0"/>
<circle class="p" cx="1623.3" cy="149.4" r="6.0"/>
<circle class="p" cx="1654.7" cy="117.1" r="6.0"/>
<path class="ph" d="M1691.5 201.5 A6.0 6.0 0 0 0 1682.5 209.1 Z"/>
<path class="ph" d="M1770.7 121.3 A6.0 6.0 0 0 0 1762.2 128.4 Z"/>
<line class="st" x1="1785.2" y1="212.1" x2="1785.2" y2="245.8"/>
<circle class="p" cx="1785.2" cy="245.8" r="6.0"/>
<line class="st" x1="1800.1" y1="197.2" x2="1800.1" y2="235.3"/>
<circle class="p" cx="1800.1" cy="235.3" r="6.0"/>
<line class="st" x1="1808.8" y1="188.4" x2="1808.8" y2="205.9"/>
<circle class="p" cx="1808.8" cy="205.9" r="6.0"/>
<line class="st" x1="1818.8" y1="178.5" x2="1818.8" y2="205.9"/>
<circle class="p" cx="1818.8" cy="205.9" r="6.0"/>
<line class="st" x1="1829" y1="167.3" x2="1829" y2="204.6"/>
<circle class="p" cx="1829" cy="204.6" r="6.0"/>
<line class="st" x1="1842.5" y1="153.6" x2="1842.5" y2="184.2"/>
<circle class="p" cx="1842.5" cy="184.2" r="6.0"/>
<line class="st" x1="1846.5" y1="151" x2="1846.5" y2="183.5"/>
<circle class="p" cx="1846.5" cy="183.5" r="6.0"/>
<line class="st" x1="1853.9" y1="144.8" x2="1853.9" y2="191.4"/>
<circle class="p" cx="1853.9" cy="191.4" r="6.0"/>
<line class="st" x1="1854.4" y1="141.1" x2="1854.4" y2="153.1"/>
<circle class="p" cx="1854.4" cy="153.1" r="6.0"/>
<line class="st" x1="1858.7" y1="137.4" x2="1858.7" y2="159.8"/>
<circle class="p" cx="1858.7" cy="159.8" r="6.0"/>
<line class="st" x1="1863.2" y1="133.6" x2="1863.2" y2="176"/>
<circle class="p" cx="1863.2" cy="176" r="6.0"/>
<line class="st" x1="1875.1" y1="120.5" x2="1875.1" y2="136.9"/>
<circle class="p" cx="1875.1" cy="136.9" r="6.0"/>
<text class="pl" x="14.6" y="36.6">a)</text>
<text class="pl" x="985.6" y="41.5">b)</text>
<text class="tke" x="99.6" y="504.3">0.0</text>
<text class="tke" x="99.6" y="418.9">0.5</text>
<text class="tke" x="99.6" y="333.6">1.0</text>
<text class="tke" x="99.6" y="248.2">1.5</text>
<text class="tke" x="99.6" y="162.9">2.0</text>
<text class="tke" x="99.6" y="77.5">2.5</text>
<text class="tke" x="1067.7" y="505">0.7</text>
<text class="tke" x="1067.7" y="362.7">0.8</text>
<text class="tke" x="1067.7" y="220.3">0.9</text>
<text class="tke" x="1067.7" y="78">1.0</text>
<text class="tkm" transform="translate(120.8 543.9) rotate(10)">1.2</text>
<text class="tkm" transform="translate(216.1 560.7) rotate(10)">1.0</text>
<text class="tkm" transform="translate(311.4 577.5) rotate(10)">0.8</text>
<text class="tkm" transform="translate(406.7 594.2) rotate(10)">0.6</text>
<text class="tkm" transform="translate(493.5 606) rotate(10)">0.4</text>
<text class="tkm" transform="translate(553.7 609.6) rotate(-10)">0.1</text>
<text class="tkm" transform="translate(678 587.7) rotate(-10)">0.3</text>
<text class="tkm" transform="translate(802.3 565.8) rotate(-10)">0.5</text>
<text class="tkm" transform="translate(926.6 544) rotate(-10)">0.7</text>
<text class="tkm" transform="translate(1462.1 608.6) rotate(10)">1.2</text>
<text class="tkm" transform="translate(1375.9 595.9) rotate(10)">1.0</text>
<text class="tkm" transform="translate(1280.2 579.3) rotate(10)">0.8</text>
<text class="tkm" transform="translate(1184.4 562.7) rotate(10)">0.6</text>
<text class="tkm" transform="translate(1088.7 546.1) rotate(10)">0.4</text>
<text class="tkm" transform="translate(1893.6 548) rotate(-10)">0.1</text>
<text class="tkm" transform="translate(1769.6 569.6) rotate(-10)">0.3</text>
<text class="tkm" transform="translate(1645.6 591.3) rotate(-10)">0.5</text>
<text class="tkm" transform="translate(1523.6 610.9) rotate(-10)">0.7</text>
<text class="ti" transform="translate(243 604.3) rotate(10)"><tspan class="i">b</tspan> (mm)</text>
<text class="ti" transform="translate(723.5 611) rotate(-9)">σ/b</text>
<text class="ti" transform="translate(1213 614.6) rotate(10)"><tspan class="i">b</tspan> (mm)</text>
<text class="ti" transform="translate(1690 612) rotate(-9)">σ/b</text>
<text class="ti" transform="translate(30.5 309) rotate(-90)" style="font-size:35px"><tspan class="i">D/D</tspan></text>
<text class="sub" transform="translate(46.5 248) rotate(-90)">paral</text>
<circle class="lgd" cx="393.2" cy="60.4" r="5.4"/>
<text class="lg" x="421.2" y="71.8">3D direct simulation</text>
<circle class="lgd" cx="1133.5" cy="89.3" r="5.4"/>
<text class="lg" x="1157.6" y="99.3">3D direct simulation</text>
<text class="eq r i" x="144.5" y="163" font-size="35">D</text>
<text class="eq r" font-size="35" transform="translate(170.3 172.5) scale(1.165 1.586)">/</text>
<text class="eq r i" x="185.5" y="163" font-size="35">D</text>
<text class="eq r" x="210.6" y="171.2" font-size="20">paral</text>
<text class="eq k" x="252.8" y="166.6" font-size="35">=</text>
<text class="eq k i" x="271" y="163" font-size="35">f</text>
<text class="eq k" x="296.5" y="163" font-size="35">(</text>
<text class="eq b i" x="308.2" y="163" font-size="35">b</text>
<text class="eq k" x="326.5" y="163" font-size="35">)</text>
<text class="eq k" x="336.2" y="163" font-size="35">+</text>
<text class="eq k i" font-size="37" transform="translate(357.3 163) skewX(-14)">λ</text>
<line x1="377.6" y1="154.2" x2="487.4" y2="154.2" stroke="#111" stroke-width="1.4"/>
<text class="eq k i" x="379" y="139.9" font-size="36">m</text>
<text class="eq b i" x="406.8" y="124.6" font-size="21">σ</text>
<text class="eq b" font-size="20" transform="translate(420.8 129.1) scale(0.871 1.304)">/</text>
<text class="eq b i" x="427.3" y="124.6" font-size="21">b</text>
<text class="eq k" x="448" y="142" font-size="35">−</text>
<text class="eq k" x="468.3" y="140.2" font-size="35">1</text>
<text class="eq b i" x="420" y="189.8" font-size="35">b</text>
<text class="eq k i" x="438.3" y="174.7" font-size="20">n</text>
<text class="eq k" x="162.9" y="235" font-size="35">R</text>
<text class="eq k" x="187" y="223.2" font-size="20">2</text>
<text class="eq k" font-size="35" transform="translate(196.4 236.0) scale(1.2 1)">=</text>
<text class="eq k" x="217.6" y="235" font-size="35">0.739</text>
<text class="eq r i" x="1636.4" y="396.7" font-size="35">V</text>
<text class="eq r" x="1654.4" y="405.8" font-size="20">t</text>
<text class="eq r" font-size="35" transform="translate(1667.9 406.0) scale(1.105 1.594)">/</text>
<text class="eq r i" x="1681.8" y="396.7" font-size="35">V</text>
<text class="eq r" x="1700" y="405.8" font-size="20">f</text>
<text class="eq k" x="1720.5" y="398.3" font-size="35">=</text>
<text class="eq k" x="1744.5" y="396.7" font-size="35">1</text>
<text class="eq k" x="1764" y="397.7" font-size="37">−</text>
<text class="eq k i" font-size="35" transform="translate(1790.3 396.7) skewX(-6) scale(1.15 1)">α</text>
<line x1="1815.4" y1="388" x2="1874.1" y2="388" stroke="#111" stroke-width="1.4"/>
<text class="eq b" font-size="35" transform="translate(1816.0 373.4) skewX(-14) scale(1.15 1)">σ</text>
<text class="eq b" font-size="35" transform="translate(1842.0 381.8) scale(1.005 1.511)">/</text>
<text class="eq b i" x="1855" y="373.4" font-size="35">b</text>
<text class="eq k i" font-size="35" transform="translate(1824.0 421) skewX(-6) scale(1.22 1)">β</text>
<text class="eq b i" x="1851" y="407.8" font-size="20">b</text>
<text class="eq k" x="1636.2" y="450.3" font-size="35">R</text>
<text class="eq k" x="1660.3" y="438.5" font-size="20">2</text>
<text class="eq k" font-size="35" transform="translate(1669.4 451.6) scale(1.2 1)">=</text>
<text class="eq k" x="1690.3" y="450.3" font-size="35">0.826</text>
<text class="ti i" transform="translate(1000.8 315.7) rotate(-90)">V</text>
<text class="sub" transform="translate(1011.4 294.3) rotate(-90)">t</text>
<text class="ti" transform="translate(1000.8 282.3) rotate(-90)" style="font-size:34px">/</text>
<text class="ti i" transform="translate(1000.8 270.9) rotate(-90)">V</text>
<text class="sub" transform="translate(1012.4 247.8) rotate(-90)">f</text>
</svg></body></html>
